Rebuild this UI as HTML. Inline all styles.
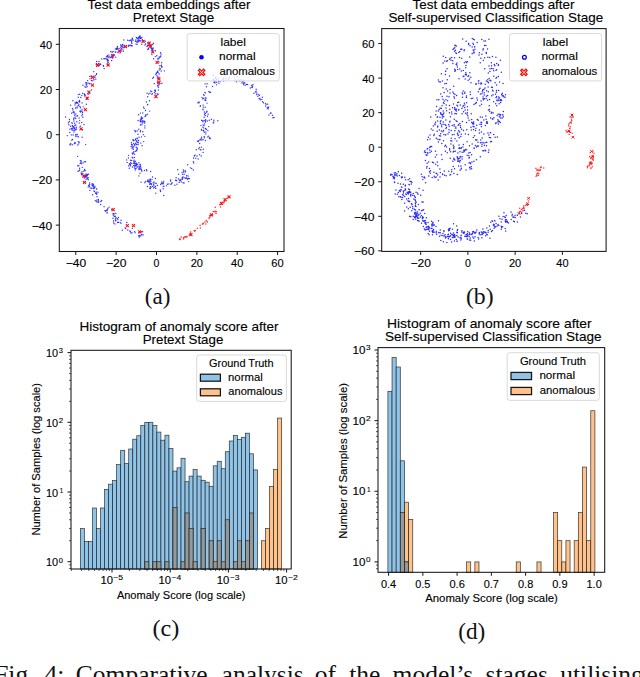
<!DOCTYPE html>
<html><head><meta charset="utf-8"><style>
html,body{margin:0;padding:0;background:#fff;}
body{width:640px;height:677px;overflow:hidden;}
svg{display:block;}
</style></head><body>
<svg width="640" height="677" viewBox="0 0 640 677"><rect x="0" y="0" width="640" height="677" fill="#fff"/><path d="M85.31 177.14a0.7 0.7 0 1 0 1.4 0a0.7 0.7 0 1 0 -1.4 0M86.58 178.21a0.7 0.7 0 1 0 1.4 0a0.7 0.7 0 1 0 -1.4 0M84.62 175.38a0.7 0.7 0 1 0 1.4 0a0.7 0.7 0 1 0 -1.4 0M87.35 177.58a0.7 0.7 0 1 0 1.4 0a0.7 0.7 0 1 0 -1.4 0M92.16 186.26a0.7 0.7 0 1 0 1.4 0a0.7 0.7 0 1 0 -1.4 0M93.96 187.26a0.7 0.7 0 1 0 1.4 0a0.7 0.7 0 1 0 -1.4 0M92.92 185.30a0.7 0.7 0 1 0 1.4 0a0.7 0.7 0 1 0 -1.4 0M91.71 184.07a0.7 0.7 0 1 0 1.4 0a0.7 0.7 0 1 0 -1.4 0M121.58 230.26a0.7 0.7 0 1 0 1.4 0a0.7 0.7 0 1 0 -1.4 0M127.09 230.04a0.7 0.7 0 1 0 1.4 0a0.7 0.7 0 1 0 -1.4 0M113.00 222.95a0.7 0.7 0 1 0 1.4 0a0.7 0.7 0 1 0 -1.4 0M117.19 219.44a0.7 0.7 0 1 0 1.4 0a0.7 0.7 0 1 0 -1.4 0M115.24 220.33a0.7 0.7 0 1 0 1.4 0a0.7 0.7 0 1 0 -1.4 0M93.74 191.61a0.7 0.7 0 1 0 1.4 0a0.7 0.7 0 1 0 -1.4 0M97.29 192.19a0.7 0.7 0 1 0 1.4 0a0.7 0.7 0 1 0 -1.4 0M95.30 192.12a0.7 0.7 0 1 0 1.4 0a0.7 0.7 0 1 0 -1.4 0M95.27 192.64a0.7 0.7 0 1 0 1.4 0a0.7 0.7 0 1 0 -1.4 0M94.28 186.37a0.7 0.7 0 1 0 1.4 0a0.7 0.7 0 1 0 -1.4 0M95.79 189.01a0.7 0.7 0 1 0 1.4 0a0.7 0.7 0 1 0 -1.4 0M92.37 188.24a0.7 0.7 0 1 0 1.4 0a0.7 0.7 0 1 0 -1.4 0M88.87 186.28a0.7 0.7 0 1 0 1.4 0a0.7 0.7 0 1 0 -1.4 0M96.01 188.92a0.7 0.7 0 1 0 1.4 0a0.7 0.7 0 1 0 -1.4 0M94.09 187.44a0.7 0.7 0 1 0 1.4 0a0.7 0.7 0 1 0 -1.4 0M91.21 185.05a0.7 0.7 0 1 0 1.4 0a0.7 0.7 0 1 0 -1.4 0M104.93 211.32a0.7 0.7 0 1 0 1.4 0a0.7 0.7 0 1 0 -1.4 0M106.57 210.42a0.7 0.7 0 1 0 1.4 0a0.7 0.7 0 1 0 -1.4 0M104.28 210.68a0.7 0.7 0 1 0 1.4 0a0.7 0.7 0 1 0 -1.4 0M106.36 212.94a0.7 0.7 0 1 0 1.4 0a0.7 0.7 0 1 0 -1.4 0M106.45 212.41a0.7 0.7 0 1 0 1.4 0a0.7 0.7 0 1 0 -1.4 0M87.79 174.20a0.7 0.7 0 1 0 1.4 0a0.7 0.7 0 1 0 -1.4 0M85.40 173.99a0.7 0.7 0 1 0 1.4 0a0.7 0.7 0 1 0 -1.4 0M85.82 175.98a0.7 0.7 0 1 0 1.4 0a0.7 0.7 0 1 0 -1.4 0M86.02 174.62a0.7 0.7 0 1 0 1.4 0a0.7 0.7 0 1 0 -1.4 0M85.44 175.94a0.7 0.7 0 1 0 1.4 0a0.7 0.7 0 1 0 -1.4 0M81.80 174.15a0.7 0.7 0 1 0 1.4 0a0.7 0.7 0 1 0 -1.4 0M114.92 218.28a0.7 0.7 0 1 0 1.4 0a0.7 0.7 0 1 0 -1.4 0M112.28 218.29a0.7 0.7 0 1 0 1.4 0a0.7 0.7 0 1 0 -1.4 0M114.58 220.07a0.7 0.7 0 1 0 1.4 0a0.7 0.7 0 1 0 -1.4 0M113.73 216.14a0.7 0.7 0 1 0 1.4 0a0.7 0.7 0 1 0 -1.4 0M112.34 213.74a0.7 0.7 0 1 0 1.4 0a0.7 0.7 0 1 0 -1.4 0M138.13 235.71a0.7 0.7 0 1 0 1.4 0a0.7 0.7 0 1 0 -1.4 0M87.56 179.78a0.7 0.7 0 1 0 1.4 0a0.7 0.7 0 1 0 -1.4 0M84.72 181.87a0.7 0.7 0 1 0 1.4 0a0.7 0.7 0 1 0 -1.4 0M142.31 235.03a0.7 0.7 0 1 0 1.4 0a0.7 0.7 0 1 0 -1.4 0M141.16 232.08a0.7 0.7 0 1 0 1.4 0a0.7 0.7 0 1 0 -1.4 0M139.00 236.89a0.7 0.7 0 1 0 1.4 0a0.7 0.7 0 1 0 -1.4 0M138.36 237.06a0.7 0.7 0 1 0 1.4 0a0.7 0.7 0 1 0 -1.4 0M138.67 235.47a0.7 0.7 0 1 0 1.4 0a0.7 0.7 0 1 0 -1.4 0M112.77 220.93a0.7 0.7 0 1 0 1.4 0a0.7 0.7 0 1 0 -1.4 0M112.62 215.15a0.7 0.7 0 1 0 1.4 0a0.7 0.7 0 1 0 -1.4 0M113.58 216.53a0.7 0.7 0 1 0 1.4 0a0.7 0.7 0 1 0 -1.4 0M116.60 218.81a0.7 0.7 0 1 0 1.4 0a0.7 0.7 0 1 0 -1.4 0M80.75 163.85a0.7 0.7 0 1 0 1.4 0a0.7 0.7 0 1 0 -1.4 0M78.15 165.68a0.7 0.7 0 1 0 1.4 0a0.7 0.7 0 1 0 -1.4 0M81.59 167.35a0.7 0.7 0 1 0 1.4 0a0.7 0.7 0 1 0 -1.4 0M96.00 200.11a0.7 0.7 0 1 0 1.4 0a0.7 0.7 0 1 0 -1.4 0M94.58 200.68a0.7 0.7 0 1 0 1.4 0a0.7 0.7 0 1 0 -1.4 0M131.64 228.34a0.7 0.7 0 1 0 1.4 0a0.7 0.7 0 1 0 -1.4 0M130.25 233.11a0.7 0.7 0 1 0 1.4 0a0.7 0.7 0 1 0 -1.4 0M129.73 231.69a0.7 0.7 0 1 0 1.4 0a0.7 0.7 0 1 0 -1.4 0M114.92 220.85a0.7 0.7 0 1 0 1.4 0a0.7 0.7 0 1 0 -1.4 0M115.55 217.62a0.7 0.7 0 1 0 1.4 0a0.7 0.7 0 1 0 -1.4 0M88.94 183.05a0.7 0.7 0 1 0 1.4 0a0.7 0.7 0 1 0 -1.4 0M89.13 190.42a0.7 0.7 0 1 0 1.4 0a0.7 0.7 0 1 0 -1.4 0M90.65 188.28a0.7 0.7 0 1 0 1.4 0a0.7 0.7 0 1 0 -1.4 0M88.49 184.94a0.7 0.7 0 1 0 1.4 0a0.7 0.7 0 1 0 -1.4 0M87.49 186.99a0.7 0.7 0 1 0 1.4 0a0.7 0.7 0 1 0 -1.4 0M87.97 185.62a0.7 0.7 0 1 0 1.4 0a0.7 0.7 0 1 0 -1.4 0M91.48 183.82a0.7 0.7 0 1 0 1.4 0a0.7 0.7 0 1 0 -1.4 0M117.18 222.29a0.7 0.7 0 1 0 1.4 0a0.7 0.7 0 1 0 -1.4 0M119.46 222.58a0.7 0.7 0 1 0 1.4 0a0.7 0.7 0 1 0 -1.4 0M117.75 222.38a0.7 0.7 0 1 0 1.4 0a0.7 0.7 0 1 0 -1.4 0M82.67 176.62a0.7 0.7 0 1 0 1.4 0a0.7 0.7 0 1 0 -1.4 0M84.52 176.56a0.7 0.7 0 1 0 1.4 0a0.7 0.7 0 1 0 -1.4 0M87.04 174.36a0.7 0.7 0 1 0 1.4 0a0.7 0.7 0 1 0 -1.4 0M84.22 176.90a0.7 0.7 0 1 0 1.4 0a0.7 0.7 0 1 0 -1.4 0M83.58 177.97a0.7 0.7 0 1 0 1.4 0a0.7 0.7 0 1 0 -1.4 0M86.34 176.02a0.7 0.7 0 1 0 1.4 0a0.7 0.7 0 1 0 -1.4 0M83.53 161.76a0.7 0.7 0 1 0 1.4 0a0.7 0.7 0 1 0 -1.4 0M84.90 161.74a0.7 0.7 0 1 0 1.4 0a0.7 0.7 0 1 0 -1.4 0M82.26 163.05a0.7 0.7 0 1 0 1.4 0a0.7 0.7 0 1 0 -1.4 0M81.03 174.80a0.7 0.7 0 1 0 1.4 0a0.7 0.7 0 1 0 -1.4 0M78.95 169.91a0.7 0.7 0 1 0 1.4 0a0.7 0.7 0 1 0 -1.4 0M80.63 173.73a0.7 0.7 0 1 0 1.4 0a0.7 0.7 0 1 0 -1.4 0M92.85 186.98a0.7 0.7 0 1 0 1.4 0a0.7 0.7 0 1 0 -1.4 0M100.10 201.54a0.7 0.7 0 1 0 1.4 0a0.7 0.7 0 1 0 -1.4 0M97.89 202.23a0.7 0.7 0 1 0 1.4 0a0.7 0.7 0 1 0 -1.4 0M97.91 200.91a0.7 0.7 0 1 0 1.4 0a0.7 0.7 0 1 0 -1.4 0M97.69 199.42a0.7 0.7 0 1 0 1.4 0a0.7 0.7 0 1 0 -1.4 0M134.04 231.37a0.7 0.7 0 1 0 1.4 0a0.7 0.7 0 1 0 -1.4 0M81.38 171.60a0.7 0.7 0 1 0 1.4 0a0.7 0.7 0 1 0 -1.4 0M124.48 228.02a0.7 0.7 0 1 0 1.4 0a0.7 0.7 0 1 0 -1.4 0M96.09 194.24a0.7 0.7 0 1 0 1.4 0a0.7 0.7 0 1 0 -1.4 0M95.56 192.10a0.7 0.7 0 1 0 1.4 0a0.7 0.7 0 1 0 -1.4 0M114.62 216.25a0.7 0.7 0 1 0 1.4 0a0.7 0.7 0 1 0 -1.4 0M142.26 234.65a0.7 0.7 0 1 0 1.4 0a0.7 0.7 0 1 0 -1.4 0M117.84 217.55a0.7 0.7 0 1 0 1.4 0a0.7 0.7 0 1 0 -1.4 0M87.41 177.61a0.7 0.7 0 1 0 1.4 0a0.7 0.7 0 1 0 -1.4 0M76.91 156.35a0.7 0.7 0 1 0 1.4 0a0.7 0.7 0 1 0 -1.4 0M77.06 165.76a0.7 0.7 0 1 0 1.4 0a0.7 0.7 0 1 0 -1.4 0M88.28 185.31a0.7 0.7 0 1 0 1.4 0a0.7 0.7 0 1 0 -1.4 0M79.49 163.39a0.7 0.7 0 1 0 1.4 0a0.7 0.7 0 1 0 -1.4 0M79.68 160.74a0.7 0.7 0 1 0 1.4 0a0.7 0.7 0 1 0 -1.4 0M140.69 234.49a0.7 0.7 0 1 0 1.4 0a0.7 0.7 0 1 0 -1.4 0M83.94 170.62a0.7 0.7 0 1 0 1.4 0a0.7 0.7 0 1 0 -1.4 0M93.44 188.63a0.7 0.7 0 1 0 1.4 0a0.7 0.7 0 1 0 -1.4 0M141.92 231.64a0.7 0.7 0 1 0 1.4 0a0.7 0.7 0 1 0 -1.4 0M103.37 206.67a0.7 0.7 0 1 0 1.4 0a0.7 0.7 0 1 0 -1.4 0M114.19 223.89a0.7 0.7 0 1 0 1.4 0a0.7 0.7 0 1 0 -1.4 0M91.59 185.37a0.7 0.7 0 1 0 1.4 0a0.7 0.7 0 1 0 -1.4 0M113.48 213.75a0.7 0.7 0 1 0 1.4 0a0.7 0.7 0 1 0 -1.4 0M84.68 170.87a0.7 0.7 0 1 0 1.4 0a0.7 0.7 0 1 0 -1.4 0M89.48 187.92a0.7 0.7 0 1 0 1.4 0a0.7 0.7 0 1 0 -1.4 0M134.33 232.65a0.7 0.7 0 1 0 1.4 0a0.7 0.7 0 1 0 -1.4 0M117.55 222.28a0.7 0.7 0 1 0 1.4 0a0.7 0.7 0 1 0 -1.4 0M97.13 202.09a0.7 0.7 0 1 0 1.4 0a0.7 0.7 0 1 0 -1.4 0M100.99 200.45a0.7 0.7 0 1 0 1.4 0a0.7 0.7 0 1 0 -1.4 0M120.34 223.13a0.7 0.7 0 1 0 1.4 0a0.7 0.7 0 1 0 -1.4 0M91.92 194.81a0.7 0.7 0 1 0 1.4 0a0.7 0.7 0 1 0 -1.4 0M96.29 196.85a0.7 0.7 0 1 0 1.4 0a0.7 0.7 0 1 0 -1.4 0M107.30 208.28a0.7 0.7 0 1 0 1.4 0a0.7 0.7 0 1 0 -1.4 0M105.77 210.38a0.7 0.7 0 1 0 1.4 0a0.7 0.7 0 1 0 -1.4 0M95.84 201.82a0.7 0.7 0 1 0 1.4 0a0.7 0.7 0 1 0 -1.4 0M112.49 213.78a0.7 0.7 0 1 0 1.4 0a0.7 0.7 0 1 0 -1.4 0M77.31 171.30a0.7 0.7 0 1 0 1.4 0a0.7 0.7 0 1 0 -1.4 0M120.30 220.25a0.7 0.7 0 1 0 1.4 0a0.7 0.7 0 1 0 -1.4 0M82.07 173.52a0.7 0.7 0 1 0 1.4 0a0.7 0.7 0 1 0 -1.4 0M124.97 228.50a0.7 0.7 0 1 0 1.4 0a0.7 0.7 0 1 0 -1.4 0M106.62 209.57a0.7 0.7 0 1 0 1.4 0a0.7 0.7 0 1 0 -1.4 0M138.24 232.85a0.7 0.7 0 1 0 1.4 0a0.7 0.7 0 1 0 -1.4 0M96.29 196.79a0.7 0.7 0 1 0 1.4 0a0.7 0.7 0 1 0 -1.4 0M115.15 213.47a0.7 0.7 0 1 0 1.4 0a0.7 0.7 0 1 0 -1.4 0M80.54 161.01a0.7 0.7 0 1 0 1.4 0a0.7 0.7 0 1 0 -1.4 0M89.06 184.34a0.7 0.7 0 1 0 1.4 0a0.7 0.7 0 1 0 -1.4 0M82.89 171.08a0.7 0.7 0 1 0 1.4 0a0.7 0.7 0 1 0 -1.4 0M113.44 216.37a0.7 0.7 0 1 0 1.4 0a0.7 0.7 0 1 0 -1.4 0M78.91 168.20a0.7 0.7 0 1 0 1.4 0a0.7 0.7 0 1 0 -1.4 0M99.97 204.57a0.7 0.7 0 1 0 1.4 0a0.7 0.7 0 1 0 -1.4 0M87.34 179.16a0.7 0.7 0 1 0 1.4 0a0.7 0.7 0 1 0 -1.4 0M80.52 173.00a0.7 0.7 0 1 0 1.4 0a0.7 0.7 0 1 0 -1.4 0M126.15 222.53a0.7 0.7 0 1 0 1.4 0a0.7 0.7 0 1 0 -1.4 0M85.40 179.32a0.7 0.7 0 1 0 1.4 0a0.7 0.7 0 1 0 -1.4 0M80.33 162.47a0.7 0.7 0 1 0 1.4 0a0.7 0.7 0 1 0 -1.4 0M94.97 193.41a0.7 0.7 0 1 0 1.4 0a0.7 0.7 0 1 0 -1.4 0M86.64 175.47a0.7 0.7 0 1 0 1.4 0a0.7 0.7 0 1 0 -1.4 0M116.89 222.48a0.7 0.7 0 1 0 1.4 0a0.7 0.7 0 1 0 -1.4 0M111.02 209.75a0.7 0.7 0 1 0 1.4 0a0.7 0.7 0 1 0 -1.4 0M140.07 231.46a0.7 0.7 0 1 0 1.4 0a0.7 0.7 0 1 0 -1.4 0M129.13 231.10a0.7 0.7 0 1 0 1.4 0a0.7 0.7 0 1 0 -1.4 0M92.62 184.24a0.7 0.7 0 1 0 1.4 0a0.7 0.7 0 1 0 -1.4 0M129.29 231.07a0.7 0.7 0 1 0 1.4 0a0.7 0.7 0 1 0 -1.4 0M82.99 181.91a0.7 0.7 0 1 0 1.4 0a0.7 0.7 0 1 0 -1.4 0M131.26 232.82a0.7 0.7 0 1 0 1.4 0a0.7 0.7 0 1 0 -1.4 0M83.93 169.39a0.7 0.7 0 1 0 1.4 0a0.7 0.7 0 1 0 -1.4 0M140.16 235.73a0.7 0.7 0 1 0 1.4 0a0.7 0.7 0 1 0 -1.4 0M108.49 207.09a0.7 0.7 0 1 0 1.4 0a0.7 0.7 0 1 0 -1.4 0M97.31 199.99a0.7 0.7 0 1 0 1.4 0a0.7 0.7 0 1 0 -1.4 0M96.08 193.60a0.7 0.7 0 1 0 1.4 0a0.7 0.7 0 1 0 -1.4 0M93.27 190.98a0.7 0.7 0 1 0 1.4 0a0.7 0.7 0 1 0 -1.4 0M78.37 170.72a0.7 0.7 0 1 0 1.4 0a0.7 0.7 0 1 0 -1.4 0M152.86 77.23a0.7 0.7 0 1 0 1.4 0a0.7 0.7 0 1 0 -1.4 0M152.13 78.20a0.7 0.7 0 1 0 1.4 0a0.7 0.7 0 1 0 -1.4 0M141.32 37.34a0.7 0.7 0 1 0 1.4 0a0.7 0.7 0 1 0 -1.4 0M68.12 124.77a0.7 0.7 0 1 0 1.4 0a0.7 0.7 0 1 0 -1.4 0M67.77 122.78a0.7 0.7 0 1 0 1.4 0a0.7 0.7 0 1 0 -1.4 0M185.86 175.59a0.7 0.7 0 1 0 1.4 0a0.7 0.7 0 1 0 -1.4 0M184.89 171.92a0.7 0.7 0 1 0 1.4 0a0.7 0.7 0 1 0 -1.4 0M103.89 58.62a0.7 0.7 0 1 0 1.4 0a0.7 0.7 0 1 0 -1.4 0M101.05 59.01a0.7 0.7 0 1 0 1.4 0a0.7 0.7 0 1 0 -1.4 0M121.44 45.62a0.7 0.7 0 1 0 1.4 0a0.7 0.7 0 1 0 -1.4 0M120.26 45.36a0.7 0.7 0 1 0 1.4 0a0.7 0.7 0 1 0 -1.4 0M121.71 44.49a0.7 0.7 0 1 0 1.4 0a0.7 0.7 0 1 0 -1.4 0M112.01 57.41a0.7 0.7 0 1 0 1.4 0a0.7 0.7 0 1 0 -1.4 0M112.50 54.81a0.7 0.7 0 1 0 1.4 0a0.7 0.7 0 1 0 -1.4 0M108.46 56.66a0.7 0.7 0 1 0 1.4 0a0.7 0.7 0 1 0 -1.4 0M110.28 57.21a0.7 0.7 0 1 0 1.4 0a0.7 0.7 0 1 0 -1.4 0M136.97 142.30a0.7 0.7 0 1 0 1.4 0a0.7 0.7 0 1 0 -1.4 0M136.18 144.24a0.7 0.7 0 1 0 1.4 0a0.7 0.7 0 1 0 -1.4 0M137.66 142.73a0.7 0.7 0 1 0 1.4 0a0.7 0.7 0 1 0 -1.4 0M128.10 45.30a0.7 0.7 0 1 0 1.4 0a0.7 0.7 0 1 0 -1.4 0M129.93 45.11a0.7 0.7 0 1 0 1.4 0a0.7 0.7 0 1 0 -1.4 0M128.55 40.63a0.7 0.7 0 1 0 1.4 0a0.7 0.7 0 1 0 -1.4 0M127.01 40.27a0.7 0.7 0 1 0 1.4 0a0.7 0.7 0 1 0 -1.4 0M131.76 45.87a0.7 0.7 0 1 0 1.4 0a0.7 0.7 0 1 0 -1.4 0M128.78 45.35a0.7 0.7 0 1 0 1.4 0a0.7 0.7 0 1 0 -1.4 0M130.66 45.37a0.7 0.7 0 1 0 1.4 0a0.7 0.7 0 1 0 -1.4 0M130.41 45.82a0.7 0.7 0 1 0 1.4 0a0.7 0.7 0 1 0 -1.4 0M129.60 40.23a0.7 0.7 0 1 0 1.4 0a0.7 0.7 0 1 0 -1.4 0M124.47 46.51a0.7 0.7 0 1 0 1.4 0a0.7 0.7 0 1 0 -1.4 0M78.73 100.49a0.7 0.7 0 1 0 1.4 0a0.7 0.7 0 1 0 -1.4 0M75.63 102.87a0.7 0.7 0 1 0 1.4 0a0.7 0.7 0 1 0 -1.4 0M205.20 131.93a0.7 0.7 0 1 0 1.4 0a0.7 0.7 0 1 0 -1.4 0M202.62 130.25a0.7 0.7 0 1 0 1.4 0a0.7 0.7 0 1 0 -1.4 0M203.19 130.97a0.7 0.7 0 1 0 1.4 0a0.7 0.7 0 1 0 -1.4 0M93.12 71.64a0.7 0.7 0 1 0 1.4 0a0.7 0.7 0 1 0 -1.4 0M95.73 74.40a0.7 0.7 0 1 0 1.4 0a0.7 0.7 0 1 0 -1.4 0M94.55 75.77a0.7 0.7 0 1 0 1.4 0a0.7 0.7 0 1 0 -1.4 0M95.95 73.58a0.7 0.7 0 1 0 1.4 0a0.7 0.7 0 1 0 -1.4 0M106.96 62.86a0.7 0.7 0 1 0 1.4 0a0.7 0.7 0 1 0 -1.4 0M106.93 59.42a0.7 0.7 0 1 0 1.4 0a0.7 0.7 0 1 0 -1.4 0M179.40 179.58a0.7 0.7 0 1 0 1.4 0a0.7 0.7 0 1 0 -1.4 0M179.25 179.72a0.7 0.7 0 1 0 1.4 0a0.7 0.7 0 1 0 -1.4 0M178.47 182.40a0.7 0.7 0 1 0 1.4 0a0.7 0.7 0 1 0 -1.4 0M179.91 180.51a0.7 0.7 0 1 0 1.4 0a0.7 0.7 0 1 0 -1.4 0M181.70 179.31a0.7 0.7 0 1 0 1.4 0a0.7 0.7 0 1 0 -1.4 0M181.14 179.14a0.7 0.7 0 1 0 1.4 0a0.7 0.7 0 1 0 -1.4 0M146.35 93.19a0.7 0.7 0 1 0 1.4 0a0.7 0.7 0 1 0 -1.4 0M146.96 96.74a0.7 0.7 0 1 0 1.4 0a0.7 0.7 0 1 0 -1.4 0M147.93 94.10a0.7 0.7 0 1 0 1.4 0a0.7 0.7 0 1 0 -1.4 0M199.53 106.35a0.7 0.7 0 1 0 1.4 0a0.7 0.7 0 1 0 -1.4 0M197.22 102.77a0.7 0.7 0 1 0 1.4 0a0.7 0.7 0 1 0 -1.4 0M198.37 102.80a0.7 0.7 0 1 0 1.4 0a0.7 0.7 0 1 0 -1.4 0M199.68 105.69a0.7 0.7 0 1 0 1.4 0a0.7 0.7 0 1 0 -1.4 0M198.28 102.03a0.7 0.7 0 1 0 1.4 0a0.7 0.7 0 1 0 -1.4 0M212.52 122.93a0.7 0.7 0 1 0 1.4 0a0.7 0.7 0 1 0 -1.4 0M217.13 120.78a0.7 0.7 0 1 0 1.4 0a0.7 0.7 0 1 0 -1.4 0M213.10 120.21a0.7 0.7 0 1 0 1.4 0a0.7 0.7 0 1 0 -1.4 0M210.66 119.31a0.7 0.7 0 1 0 1.4 0a0.7 0.7 0 1 0 -1.4 0M213.20 121.89a0.7 0.7 0 1 0 1.4 0a0.7 0.7 0 1 0 -1.4 0M137.50 142.55a0.7 0.7 0 1 0 1.4 0a0.7 0.7 0 1 0 -1.4 0M142.96 141.58a0.7 0.7 0 1 0 1.4 0a0.7 0.7 0 1 0 -1.4 0M88.96 76.34a0.7 0.7 0 1 0 1.4 0a0.7 0.7 0 1 0 -1.4 0M90.37 76.04a0.7 0.7 0 1 0 1.4 0a0.7 0.7 0 1 0 -1.4 0M94.12 77.51a0.7 0.7 0 1 0 1.4 0a0.7 0.7 0 1 0 -1.4 0M135.66 37.43a0.7 0.7 0 1 0 1.4 0a0.7 0.7 0 1 0 -1.4 0M138.77 40.49a0.7 0.7 0 1 0 1.4 0a0.7 0.7 0 1 0 -1.4 0M138.04 41.79a0.7 0.7 0 1 0 1.4 0a0.7 0.7 0 1 0 -1.4 0M135.30 44.08a0.7 0.7 0 1 0 1.4 0a0.7 0.7 0 1 0 -1.4 0M148.54 180.15a0.7 0.7 0 1 0 1.4 0a0.7 0.7 0 1 0 -1.4 0M148.66 181.71a0.7 0.7 0 1 0 1.4 0a0.7 0.7 0 1 0 -1.4 0M136.69 42.02a0.7 0.7 0 1 0 1.4 0a0.7 0.7 0 1 0 -1.4 0M136.49 38.45a0.7 0.7 0 1 0 1.4 0a0.7 0.7 0 1 0 -1.4 0M136.04 41.76a0.7 0.7 0 1 0 1.4 0a0.7 0.7 0 1 0 -1.4 0M134.77 41.18a0.7 0.7 0 1 0 1.4 0a0.7 0.7 0 1 0 -1.4 0M136.10 41.96a0.7 0.7 0 1 0 1.4 0a0.7 0.7 0 1 0 -1.4 0M141.90 117.88a0.7 0.7 0 1 0 1.4 0a0.7 0.7 0 1 0 -1.4 0M142.14 121.14a0.7 0.7 0 1 0 1.4 0a0.7 0.7 0 1 0 -1.4 0M143.61 121.24a0.7 0.7 0 1 0 1.4 0a0.7 0.7 0 1 0 -1.4 0M142.29 122.40a0.7 0.7 0 1 0 1.4 0a0.7 0.7 0 1 0 -1.4 0M86.54 98.82a0.7 0.7 0 1 0 1.4 0a0.7 0.7 0 1 0 -1.4 0M85.68 104.29a0.7 0.7 0 1 0 1.4 0a0.7 0.7 0 1 0 -1.4 0M86.22 98.97a0.7 0.7 0 1 0 1.4 0a0.7 0.7 0 1 0 -1.4 0M86.52 97.68a0.7 0.7 0 1 0 1.4 0a0.7 0.7 0 1 0 -1.4 0M201.33 97.36a0.7 0.7 0 1 0 1.4 0a0.7 0.7 0 1 0 -1.4 0M204.32 100.38a0.7 0.7 0 1 0 1.4 0a0.7 0.7 0 1 0 -1.4 0M202.12 98.68a0.7 0.7 0 1 0 1.4 0a0.7 0.7 0 1 0 -1.4 0M133.99 163.31a0.7 0.7 0 1 0 1.4 0a0.7 0.7 0 1 0 -1.4 0M137.01 164.37a0.7 0.7 0 1 0 1.4 0a0.7 0.7 0 1 0 -1.4 0M135.70 163.18a0.7 0.7 0 1 0 1.4 0a0.7 0.7 0 1 0 -1.4 0M134.33 165.08a0.7 0.7 0 1 0 1.4 0a0.7 0.7 0 1 0 -1.4 0M131.58 39.94a0.7 0.7 0 1 0 1.4 0a0.7 0.7 0 1 0 -1.4 0M130.88 42.02a0.7 0.7 0 1 0 1.4 0a0.7 0.7 0 1 0 -1.4 0M81.09 95.60a0.7 0.7 0 1 0 1.4 0a0.7 0.7 0 1 0 -1.4 0M83.94 96.10a0.7 0.7 0 1 0 1.4 0a0.7 0.7 0 1 0 -1.4 0M131.43 157.21a0.7 0.7 0 1 0 1.4 0a0.7 0.7 0 1 0 -1.4 0M127.93 155.36a0.7 0.7 0 1 0 1.4 0a0.7 0.7 0 1 0 -1.4 0M140.82 136.83a0.7 0.7 0 1 0 1.4 0a0.7 0.7 0 1 0 -1.4 0M142.63 134.62a0.7 0.7 0 1 0 1.4 0a0.7 0.7 0 1 0 -1.4 0M144.18 136.35a0.7 0.7 0 1 0 1.4 0a0.7 0.7 0 1 0 -1.4 0M183.01 172.17a0.7 0.7 0 1 0 1.4 0a0.7 0.7 0 1 0 -1.4 0M69.50 144.90a0.7 0.7 0 1 0 1.4 0a0.7 0.7 0 1 0 -1.4 0M71.07 140.17a0.7 0.7 0 1 0 1.4 0a0.7 0.7 0 1 0 -1.4 0M70.07 143.82a0.7 0.7 0 1 0 1.4 0a0.7 0.7 0 1 0 -1.4 0M74.71 142.99a0.7 0.7 0 1 0 1.4 0a0.7 0.7 0 1 0 -1.4 0M69.34 144.22a0.7 0.7 0 1 0 1.4 0a0.7 0.7 0 1 0 -1.4 0M71.57 144.81a0.7 0.7 0 1 0 1.4 0a0.7 0.7 0 1 0 -1.4 0M73.56 143.67a0.7 0.7 0 1 0 1.4 0a0.7 0.7 0 1 0 -1.4 0M88.63 83.80a0.7 0.7 0 1 0 1.4 0a0.7 0.7 0 1 0 -1.4 0M85.57 83.67a0.7 0.7 0 1 0 1.4 0a0.7 0.7 0 1 0 -1.4 0M133.17 163.01a0.7 0.7 0 1 0 1.4 0a0.7 0.7 0 1 0 -1.4 0M134.29 168.44a0.7 0.7 0 1 0 1.4 0a0.7 0.7 0 1 0 -1.4 0M133.25 161.18a0.7 0.7 0 1 0 1.4 0a0.7 0.7 0 1 0 -1.4 0M141.36 145.69a0.7 0.7 0 1 0 1.4 0a0.7 0.7 0 1 0 -1.4 0M140.14 143.08a0.7 0.7 0 1 0 1.4 0a0.7 0.7 0 1 0 -1.4 0M136.42 148.05a0.7 0.7 0 1 0 1.4 0a0.7 0.7 0 1 0 -1.4 0M159.78 190.24a0.7 0.7 0 1 0 1.4 0a0.7 0.7 0 1 0 -1.4 0M162.51 188.76a0.7 0.7 0 1 0 1.4 0a0.7 0.7 0 1 0 -1.4 0M161.56 183.16a0.7 0.7 0 1 0 1.4 0a0.7 0.7 0 1 0 -1.4 0M163.19 186.13a0.7 0.7 0 1 0 1.4 0a0.7 0.7 0 1 0 -1.4 0M168.06 183.89a0.7 0.7 0 1 0 1.4 0a0.7 0.7 0 1 0 -1.4 0M159.99 184.52a0.7 0.7 0 1 0 1.4 0a0.7 0.7 0 1 0 -1.4 0M208.53 120.21a0.7 0.7 0 1 0 1.4 0a0.7 0.7 0 1 0 -1.4 0M206.80 116.31a0.7 0.7 0 1 0 1.4 0a0.7 0.7 0 1 0 -1.4 0M204.82 122.05a0.7 0.7 0 1 0 1.4 0a0.7 0.7 0 1 0 -1.4 0M206.54 120.94a0.7 0.7 0 1 0 1.4 0a0.7 0.7 0 1 0 -1.4 0M184.58 170.72a0.7 0.7 0 1 0 1.4 0a0.7 0.7 0 1 0 -1.4 0M186.01 175.85a0.7 0.7 0 1 0 1.4 0a0.7 0.7 0 1 0 -1.4 0M183.14 171.21a0.7 0.7 0 1 0 1.4 0a0.7 0.7 0 1 0 -1.4 0M129.72 160.21a0.7 0.7 0 1 0 1.4 0a0.7 0.7 0 1 0 -1.4 0M129.66 164.57a0.7 0.7 0 1 0 1.4 0a0.7 0.7 0 1 0 -1.4 0M126.45 162.39a0.7 0.7 0 1 0 1.4 0a0.7 0.7 0 1 0 -1.4 0M127.98 165.92a0.7 0.7 0 1 0 1.4 0a0.7 0.7 0 1 0 -1.4 0M125.91 159.90a0.7 0.7 0 1 0 1.4 0a0.7 0.7 0 1 0 -1.4 0M127.68 157.95a0.7 0.7 0 1 0 1.4 0a0.7 0.7 0 1 0 -1.4 0M219.47 81.67a0.7 0.7 0 1 0 1.4 0a0.7 0.7 0 1 0 -1.4 0M214.64 78.18a0.7 0.7 0 1 0 1.4 0a0.7 0.7 0 1 0 -1.4 0M216.06 79.81a0.7 0.7 0 1 0 1.4 0a0.7 0.7 0 1 0 -1.4 0M147.62 48.35a0.7 0.7 0 1 0 1.4 0a0.7 0.7 0 1 0 -1.4 0M147.87 48.87a0.7 0.7 0 1 0 1.4 0a0.7 0.7 0 1 0 -1.4 0M152.39 49.02a0.7 0.7 0 1 0 1.4 0a0.7 0.7 0 1 0 -1.4 0M149.88 46.71a0.7 0.7 0 1 0 1.4 0a0.7 0.7 0 1 0 -1.4 0M150.92 48.55a0.7 0.7 0 1 0 1.4 0a0.7 0.7 0 1 0 -1.4 0M150.34 46.51a0.7 0.7 0 1 0 1.4 0a0.7 0.7 0 1 0 -1.4 0M117.21 52.56a0.7 0.7 0 1 0 1.4 0a0.7 0.7 0 1 0 -1.4 0M113.82 55.07a0.7 0.7 0 1 0 1.4 0a0.7 0.7 0 1 0 -1.4 0M115.04 57.14a0.7 0.7 0 1 0 1.4 0a0.7 0.7 0 1 0 -1.4 0M111.19 54.34a0.7 0.7 0 1 0 1.4 0a0.7 0.7 0 1 0 -1.4 0M121.97 47.15a0.7 0.7 0 1 0 1.4 0a0.7 0.7 0 1 0 -1.4 0M134.67 161.53a0.7 0.7 0 1 0 1.4 0a0.7 0.7 0 1 0 -1.4 0M139.08 164.62a0.7 0.7 0 1 0 1.4 0a0.7 0.7 0 1 0 -1.4 0M135.35 168.52a0.7 0.7 0 1 0 1.4 0a0.7 0.7 0 1 0 -1.4 0M136.35 167.16a0.7 0.7 0 1 0 1.4 0a0.7 0.7 0 1 0 -1.4 0M136.44 166.47a0.7 0.7 0 1 0 1.4 0a0.7 0.7 0 1 0 -1.4 0M136.08 163.83a0.7 0.7 0 1 0 1.4 0a0.7 0.7 0 1 0 -1.4 0M83.91 94.79a0.7 0.7 0 1 0 1.4 0a0.7 0.7 0 1 0 -1.4 0M156.58 77.00a0.7 0.7 0 1 0 1.4 0a0.7 0.7 0 1 0 -1.4 0M158.23 76.93a0.7 0.7 0 1 0 1.4 0a0.7 0.7 0 1 0 -1.4 0M155.83 73.42a0.7 0.7 0 1 0 1.4 0a0.7 0.7 0 1 0 -1.4 0M151.53 49.01a0.7 0.7 0 1 0 1.4 0a0.7 0.7 0 1 0 -1.4 0M150.13 47.90a0.7 0.7 0 1 0 1.4 0a0.7 0.7 0 1 0 -1.4 0M150.39 45.69a0.7 0.7 0 1 0 1.4 0a0.7 0.7 0 1 0 -1.4 0M152.67 43.18a0.7 0.7 0 1 0 1.4 0a0.7 0.7 0 1 0 -1.4 0M195.61 149.79a0.7 0.7 0 1 0 1.4 0a0.7 0.7 0 1 0 -1.4 0M198.96 143.53a0.7 0.7 0 1 0 1.4 0a0.7 0.7 0 1 0 -1.4 0M199.59 149.59a0.7 0.7 0 1 0 1.4 0a0.7 0.7 0 1 0 -1.4 0M202.60 149.20a0.7 0.7 0 1 0 1.4 0a0.7 0.7 0 1 0 -1.4 0M200.67 147.12a0.7 0.7 0 1 0 1.4 0a0.7 0.7 0 1 0 -1.4 0M116.09 49.51a0.7 0.7 0 1 0 1.4 0a0.7 0.7 0 1 0 -1.4 0M115.97 48.13a0.7 0.7 0 1 0 1.4 0a0.7 0.7 0 1 0 -1.4 0M116.72 47.90a0.7 0.7 0 1 0 1.4 0a0.7 0.7 0 1 0 -1.4 0M119.80 50.92a0.7 0.7 0 1 0 1.4 0a0.7 0.7 0 1 0 -1.4 0M114.49 51.97a0.7 0.7 0 1 0 1.4 0a0.7 0.7 0 1 0 -1.4 0M116.94 48.83a0.7 0.7 0 1 0 1.4 0a0.7 0.7 0 1 0 -1.4 0M76.50 106.99a0.7 0.7 0 1 0 1.4 0a0.7 0.7 0 1 0 -1.4 0M79.75 107.81a0.7 0.7 0 1 0 1.4 0a0.7 0.7 0 1 0 -1.4 0M74.81 108.06a0.7 0.7 0 1 0 1.4 0a0.7 0.7 0 1 0 -1.4 0M133.21 163.60a0.7 0.7 0 1 0 1.4 0a0.7 0.7 0 1 0 -1.4 0M135.49 164.62a0.7 0.7 0 1 0 1.4 0a0.7 0.7 0 1 0 -1.4 0M99.42 63.80a0.7 0.7 0 1 0 1.4 0a0.7 0.7 0 1 0 -1.4 0M97.78 63.45a0.7 0.7 0 1 0 1.4 0a0.7 0.7 0 1 0 -1.4 0M102.58 65.38a0.7 0.7 0 1 0 1.4 0a0.7 0.7 0 1 0 -1.4 0M95.98 66.44a0.7 0.7 0 1 0 1.4 0a0.7 0.7 0 1 0 -1.4 0M131.06 144.78a0.7 0.7 0 1 0 1.4 0a0.7 0.7 0 1 0 -1.4 0M132.85 147.04a0.7 0.7 0 1 0 1.4 0a0.7 0.7 0 1 0 -1.4 0M131.67 147.27a0.7 0.7 0 1 0 1.4 0a0.7 0.7 0 1 0 -1.4 0M130.42 146.54a0.7 0.7 0 1 0 1.4 0a0.7 0.7 0 1 0 -1.4 0M161.18 67.20a0.7 0.7 0 1 0 1.4 0a0.7 0.7 0 1 0 -1.4 0M160.93 66.16a0.7 0.7 0 1 0 1.4 0a0.7 0.7 0 1 0 -1.4 0M160.76 65.23a0.7 0.7 0 1 0 1.4 0a0.7 0.7 0 1 0 -1.4 0M160.44 70.95a0.7 0.7 0 1 0 1.4 0a0.7 0.7 0 1 0 -1.4 0M163.62 70.84a0.7 0.7 0 1 0 1.4 0a0.7 0.7 0 1 0 -1.4 0M208.91 138.53a0.7 0.7 0 1 0 1.4 0a0.7 0.7 0 1 0 -1.4 0M207.15 137.00a0.7 0.7 0 1 0 1.4 0a0.7 0.7 0 1 0 -1.4 0M207.62 136.11a0.7 0.7 0 1 0 1.4 0a0.7 0.7 0 1 0 -1.4 0M139.49 36.31a0.7 0.7 0 1 0 1.4 0a0.7 0.7 0 1 0 -1.4 0M137.94 40.16a0.7 0.7 0 1 0 1.4 0a0.7 0.7 0 1 0 -1.4 0M142.04 120.68a0.7 0.7 0 1 0 1.4 0a0.7 0.7 0 1 0 -1.4 0M140.59 121.09a0.7 0.7 0 1 0 1.4 0a0.7 0.7 0 1 0 -1.4 0M140.04 125.12a0.7 0.7 0 1 0 1.4 0a0.7 0.7 0 1 0 -1.4 0M143.91 123.07a0.7 0.7 0 1 0 1.4 0a0.7 0.7 0 1 0 -1.4 0M140.18 124.42a0.7 0.7 0 1 0 1.4 0a0.7 0.7 0 1 0 -1.4 0M79.20 111.13a0.7 0.7 0 1 0 1.4 0a0.7 0.7 0 1 0 -1.4 0M81.81 112.44a0.7 0.7 0 1 0 1.4 0a0.7 0.7 0 1 0 -1.4 0M79.82 112.05a0.7 0.7 0 1 0 1.4 0a0.7 0.7 0 1 0 -1.4 0M81.29 109.76a0.7 0.7 0 1 0 1.4 0a0.7 0.7 0 1 0 -1.4 0M81.27 111.34a0.7 0.7 0 1 0 1.4 0a0.7 0.7 0 1 0 -1.4 0M81.77 114.32a0.7 0.7 0 1 0 1.4 0a0.7 0.7 0 1 0 -1.4 0M79.99 110.95a0.7 0.7 0 1 0 1.4 0a0.7 0.7 0 1 0 -1.4 0M159.92 56.91a0.7 0.7 0 1 0 1.4 0a0.7 0.7 0 1 0 -1.4 0M155.92 55.84a0.7 0.7 0 1 0 1.4 0a0.7 0.7 0 1 0 -1.4 0M157.33 59.67a0.7 0.7 0 1 0 1.4 0a0.7 0.7 0 1 0 -1.4 0M160.08 55.91a0.7 0.7 0 1 0 1.4 0a0.7 0.7 0 1 0 -1.4 0M158.53 57.95a0.7 0.7 0 1 0 1.4 0a0.7 0.7 0 1 0 -1.4 0M204.53 115.52a0.7 0.7 0 1 0 1.4 0a0.7 0.7 0 1 0 -1.4 0M85.14 82.82a0.7 0.7 0 1 0 1.4 0a0.7 0.7 0 1 0 -1.4 0M84.30 86.79a0.7 0.7 0 1 0 1.4 0a0.7 0.7 0 1 0 -1.4 0M181.49 178.10a0.7 0.7 0 1 0 1.4 0a0.7 0.7 0 1 0 -1.4 0M181.64 177.47a0.7 0.7 0 1 0 1.4 0a0.7 0.7 0 1 0 -1.4 0M181.95 178.21a0.7 0.7 0 1 0 1.4 0a0.7 0.7 0 1 0 -1.4 0M182.38 176.84a0.7 0.7 0 1 0 1.4 0a0.7 0.7 0 1 0 -1.4 0M180.78 181.89a0.7 0.7 0 1 0 1.4 0a0.7 0.7 0 1 0 -1.4 0M154.54 91.58a0.7 0.7 0 1 0 1.4 0a0.7 0.7 0 1 0 -1.4 0M149.16 93.27a0.7 0.7 0 1 0 1.4 0a0.7 0.7 0 1 0 -1.4 0M151.05 91.62a0.7 0.7 0 1 0 1.4 0a0.7 0.7 0 1 0 -1.4 0M149.93 91.07a0.7 0.7 0 1 0 1.4 0a0.7 0.7 0 1 0 -1.4 0M151.67 93.76a0.7 0.7 0 1 0 1.4 0a0.7 0.7 0 1 0 -1.4 0M136.66 138.81a0.7 0.7 0 1 0 1.4 0a0.7 0.7 0 1 0 -1.4 0M134.74 139.88a0.7 0.7 0 1 0 1.4 0a0.7 0.7 0 1 0 -1.4 0M136.36 138.18a0.7 0.7 0 1 0 1.4 0a0.7 0.7 0 1 0 -1.4 0M132.30 139.49a0.7 0.7 0 1 0 1.4 0a0.7 0.7 0 1 0 -1.4 0M134.95 139.03a0.7 0.7 0 1 0 1.4 0a0.7 0.7 0 1 0 -1.4 0M133.23 140.40a0.7 0.7 0 1 0 1.4 0a0.7 0.7 0 1 0 -1.4 0M201.99 121.03a0.7 0.7 0 1 0 1.4 0a0.7 0.7 0 1 0 -1.4 0M204.79 121.05a0.7 0.7 0 1 0 1.4 0a0.7 0.7 0 1 0 -1.4 0M204.95 119.74a0.7 0.7 0 1 0 1.4 0a0.7 0.7 0 1 0 -1.4 0M207.43 114.21a0.7 0.7 0 1 0 1.4 0a0.7 0.7 0 1 0 -1.4 0M203.45 117.25a0.7 0.7 0 1 0 1.4 0a0.7 0.7 0 1 0 -1.4 0M200.95 120.18a0.7 0.7 0 1 0 1.4 0a0.7 0.7 0 1 0 -1.4 0M153.57 83.66a0.7 0.7 0 1 0 1.4 0a0.7 0.7 0 1 0 -1.4 0M215.78 77.59a0.7 0.7 0 1 0 1.4 0a0.7 0.7 0 1 0 -1.4 0M212.23 74.80a0.7 0.7 0 1 0 1.4 0a0.7 0.7 0 1 0 -1.4 0M212.71 75.43a0.7 0.7 0 1 0 1.4 0a0.7 0.7 0 1 0 -1.4 0M212.69 79.51a0.7 0.7 0 1 0 1.4 0a0.7 0.7 0 1 0 -1.4 0M214.69 77.48a0.7 0.7 0 1 0 1.4 0a0.7 0.7 0 1 0 -1.4 0M214.17 80.16a0.7 0.7 0 1 0 1.4 0a0.7 0.7 0 1 0 -1.4 0M130.76 41.44a0.7 0.7 0 1 0 1.4 0a0.7 0.7 0 1 0 -1.4 0M131.60 38.13a0.7 0.7 0 1 0 1.4 0a0.7 0.7 0 1 0 -1.4 0M131.15 43.23a0.7 0.7 0 1 0 1.4 0a0.7 0.7 0 1 0 -1.4 0M109.45 57.85a0.7 0.7 0 1 0 1.4 0a0.7 0.7 0 1 0 -1.4 0M105.86 59.01a0.7 0.7 0 1 0 1.4 0a0.7 0.7 0 1 0 -1.4 0M107.60 60.39a0.7 0.7 0 1 0 1.4 0a0.7 0.7 0 1 0 -1.4 0M107.20 61.24a0.7 0.7 0 1 0 1.4 0a0.7 0.7 0 1 0 -1.4 0M106.68 59.21a0.7 0.7 0 1 0 1.4 0a0.7 0.7 0 1 0 -1.4 0M106.81 56.29a0.7 0.7 0 1 0 1.4 0a0.7 0.7 0 1 0 -1.4 0M106.77 60.40a0.7 0.7 0 1 0 1.4 0a0.7 0.7 0 1 0 -1.4 0M105.72 56.76a0.7 0.7 0 1 0 1.4 0a0.7 0.7 0 1 0 -1.4 0M128.63 163.73a0.7 0.7 0 1 0 1.4 0a0.7 0.7 0 1 0 -1.4 0M128.60 168.30a0.7 0.7 0 1 0 1.4 0a0.7 0.7 0 1 0 -1.4 0M129.72 165.73a0.7 0.7 0 1 0 1.4 0a0.7 0.7 0 1 0 -1.4 0M133.60 162.55a0.7 0.7 0 1 0 1.4 0a0.7 0.7 0 1 0 -1.4 0M131.35 148.52a0.7 0.7 0 1 0 1.4 0a0.7 0.7 0 1 0 -1.4 0M133.09 151.82a0.7 0.7 0 1 0 1.4 0a0.7 0.7 0 1 0 -1.4 0M136.03 149.88a0.7 0.7 0 1 0 1.4 0a0.7 0.7 0 1 0 -1.4 0M134.76 151.32a0.7 0.7 0 1 0 1.4 0a0.7 0.7 0 1 0 -1.4 0M140.56 119.24a0.7 0.7 0 1 0 1.4 0a0.7 0.7 0 1 0 -1.4 0M139.73 120.07a0.7 0.7 0 1 0 1.4 0a0.7 0.7 0 1 0 -1.4 0M139.40 121.06a0.7 0.7 0 1 0 1.4 0a0.7 0.7 0 1 0 -1.4 0M141.39 118.65a0.7 0.7 0 1 0 1.4 0a0.7 0.7 0 1 0 -1.4 0M141.33 118.54a0.7 0.7 0 1 0 1.4 0a0.7 0.7 0 1 0 -1.4 0M141.96 121.36a0.7 0.7 0 1 0 1.4 0a0.7 0.7 0 1 0 -1.4 0M140.65 121.85a0.7 0.7 0 1 0 1.4 0a0.7 0.7 0 1 0 -1.4 0M142.50 121.05a0.7 0.7 0 1 0 1.4 0a0.7 0.7 0 1 0 -1.4 0M137.38 120.49a0.7 0.7 0 1 0 1.4 0a0.7 0.7 0 1 0 -1.4 0M137.74 37.45a0.7 0.7 0 1 0 1.4 0a0.7 0.7 0 1 0 -1.4 0M141.98 40.48a0.7 0.7 0 1 0 1.4 0a0.7 0.7 0 1 0 -1.4 0M139.81 40.94a0.7 0.7 0 1 0 1.4 0a0.7 0.7 0 1 0 -1.4 0M140.43 38.25a0.7 0.7 0 1 0 1.4 0a0.7 0.7 0 1 0 -1.4 0M137.13 40.80a0.7 0.7 0 1 0 1.4 0a0.7 0.7 0 1 0 -1.4 0M156.81 86.12a0.7 0.7 0 1 0 1.4 0a0.7 0.7 0 1 0 -1.4 0M158.13 85.14a0.7 0.7 0 1 0 1.4 0a0.7 0.7 0 1 0 -1.4 0M158.27 84.58a0.7 0.7 0 1 0 1.4 0a0.7 0.7 0 1 0 -1.4 0M158.20 84.64a0.7 0.7 0 1 0 1.4 0a0.7 0.7 0 1 0 -1.4 0M158.84 83.28a0.7 0.7 0 1 0 1.4 0a0.7 0.7 0 1 0 -1.4 0M156.82 85.78a0.7 0.7 0 1 0 1.4 0a0.7 0.7 0 1 0 -1.4 0M137.29 134.31a0.7 0.7 0 1 0 1.4 0a0.7 0.7 0 1 0 -1.4 0M135.12 131.21a0.7 0.7 0 1 0 1.4 0a0.7 0.7 0 1 0 -1.4 0M134.02 130.36a0.7 0.7 0 1 0 1.4 0a0.7 0.7 0 1 0 -1.4 0M134.54 131.69a0.7 0.7 0 1 0 1.4 0a0.7 0.7 0 1 0 -1.4 0M77.58 136.74a0.7 0.7 0 1 0 1.4 0a0.7 0.7 0 1 0 -1.4 0M76.23 134.30a0.7 0.7 0 1 0 1.4 0a0.7 0.7 0 1 0 -1.4 0M76.56 134.77a0.7 0.7 0 1 0 1.4 0a0.7 0.7 0 1 0 -1.4 0M75.40 135.94a0.7 0.7 0 1 0 1.4 0a0.7 0.7 0 1 0 -1.4 0M82.19 117.31a0.7 0.7 0 1 0 1.4 0a0.7 0.7 0 1 0 -1.4 0M74.33 115.71a0.7 0.7 0 1 0 1.4 0a0.7 0.7 0 1 0 -1.4 0M73.95 123.19a0.7 0.7 0 1 0 1.4 0a0.7 0.7 0 1 0 -1.4 0M78.36 118.00a0.7 0.7 0 1 0 1.4 0a0.7 0.7 0 1 0 -1.4 0M71.37 129.41a0.7 0.7 0 1 0 1.4 0a0.7 0.7 0 1 0 -1.4 0M72.42 130.49a0.7 0.7 0 1 0 1.4 0a0.7 0.7 0 1 0 -1.4 0M74.40 129.11a0.7 0.7 0 1 0 1.4 0a0.7 0.7 0 1 0 -1.4 0M197.47 141.58a0.7 0.7 0 1 0 1.4 0a0.7 0.7 0 1 0 -1.4 0M196.82 141.22a0.7 0.7 0 1 0 1.4 0a0.7 0.7 0 1 0 -1.4 0M200.36 139.76a0.7 0.7 0 1 0 1.4 0a0.7 0.7 0 1 0 -1.4 0M199.26 139.72a0.7 0.7 0 1 0 1.4 0a0.7 0.7 0 1 0 -1.4 0M202.30 139.35a0.7 0.7 0 1 0 1.4 0a0.7 0.7 0 1 0 -1.4 0M198.01 140.81a0.7 0.7 0 1 0 1.4 0a0.7 0.7 0 1 0 -1.4 0M132.90 165.34a0.7 0.7 0 1 0 1.4 0a0.7 0.7 0 1 0 -1.4 0M135.55 165.37a0.7 0.7 0 1 0 1.4 0a0.7 0.7 0 1 0 -1.4 0M131.58 167.07a0.7 0.7 0 1 0 1.4 0a0.7 0.7 0 1 0 -1.4 0M134.35 166.67a0.7 0.7 0 1 0 1.4 0a0.7 0.7 0 1 0 -1.4 0M134.36 165.52a0.7 0.7 0 1 0 1.4 0a0.7 0.7 0 1 0 -1.4 0M129.87 162.73a0.7 0.7 0 1 0 1.4 0a0.7 0.7 0 1 0 -1.4 0M135.96 164.69a0.7 0.7 0 1 0 1.4 0a0.7 0.7 0 1 0 -1.4 0M129.18 164.71a0.7 0.7 0 1 0 1.4 0a0.7 0.7 0 1 0 -1.4 0M134.17 165.31a0.7 0.7 0 1 0 1.4 0a0.7 0.7 0 1 0 -1.4 0M139.47 37.20a0.7 0.7 0 1 0 1.4 0a0.7 0.7 0 1 0 -1.4 0M139.34 38.47a0.7 0.7 0 1 0 1.4 0a0.7 0.7 0 1 0 -1.4 0M138.65 36.41a0.7 0.7 0 1 0 1.4 0a0.7 0.7 0 1 0 -1.4 0M137.35 38.19a0.7 0.7 0 1 0 1.4 0a0.7 0.7 0 1 0 -1.4 0M138.92 37.41a0.7 0.7 0 1 0 1.4 0a0.7 0.7 0 1 0 -1.4 0M131.84 145.03a0.7 0.7 0 1 0 1.4 0a0.7 0.7 0 1 0 -1.4 0M132.50 140.78a0.7 0.7 0 1 0 1.4 0a0.7 0.7 0 1 0 -1.4 0M132.49 146.59a0.7 0.7 0 1 0 1.4 0a0.7 0.7 0 1 0 -1.4 0M136.02 140.63a0.7 0.7 0 1 0 1.4 0a0.7 0.7 0 1 0 -1.4 0M130.89 144.09a0.7 0.7 0 1 0 1.4 0a0.7 0.7 0 1 0 -1.4 0M135.46 147.30a0.7 0.7 0 1 0 1.4 0a0.7 0.7 0 1 0 -1.4 0M136.52 148.13a0.7 0.7 0 1 0 1.4 0a0.7 0.7 0 1 0 -1.4 0M132.93 143.36a0.7 0.7 0 1 0 1.4 0a0.7 0.7 0 1 0 -1.4 0M135.34 144.67a0.7 0.7 0 1 0 1.4 0a0.7 0.7 0 1 0 -1.4 0M133.74 144.49a0.7 0.7 0 1 0 1.4 0a0.7 0.7 0 1 0 -1.4 0M202.78 127.85a0.7 0.7 0 1 0 1.4 0a0.7 0.7 0 1 0 -1.4 0M202.34 124.84a0.7 0.7 0 1 0 1.4 0a0.7 0.7 0 1 0 -1.4 0M201.02 130.31a0.7 0.7 0 1 0 1.4 0a0.7 0.7 0 1 0 -1.4 0M202.28 127.17a0.7 0.7 0 1 0 1.4 0a0.7 0.7 0 1 0 -1.4 0M79.19 106.45a0.7 0.7 0 1 0 1.4 0a0.7 0.7 0 1 0 -1.4 0M82.48 106.87a0.7 0.7 0 1 0 1.4 0a0.7 0.7 0 1 0 -1.4 0M76.95 102.61a0.7 0.7 0 1 0 1.4 0a0.7 0.7 0 1 0 -1.4 0M95.73 64.58a0.7 0.7 0 1 0 1.4 0a0.7 0.7 0 1 0 -1.4 0M98.86 65.04a0.7 0.7 0 1 0 1.4 0a0.7 0.7 0 1 0 -1.4 0M95.98 61.52a0.7 0.7 0 1 0 1.4 0a0.7 0.7 0 1 0 -1.4 0M95.80 63.64a0.7 0.7 0 1 0 1.4 0a0.7 0.7 0 1 0 -1.4 0M95.56 63.91a0.7 0.7 0 1 0 1.4 0a0.7 0.7 0 1 0 -1.4 0M144.28 45.10a0.7 0.7 0 1 0 1.4 0a0.7 0.7 0 1 0 -1.4 0M144.88 44.02a0.7 0.7 0 1 0 1.4 0a0.7 0.7 0 1 0 -1.4 0M146.94 42.94a0.7 0.7 0 1 0 1.4 0a0.7 0.7 0 1 0 -1.4 0M148.50 45.54a0.7 0.7 0 1 0 1.4 0a0.7 0.7 0 1 0 -1.4 0M147.33 45.47a0.7 0.7 0 1 0 1.4 0a0.7 0.7 0 1 0 -1.4 0M153.68 92.60a0.7 0.7 0 1 0 1.4 0a0.7 0.7 0 1 0 -1.4 0M156.81 94.01a0.7 0.7 0 1 0 1.4 0a0.7 0.7 0 1 0 -1.4 0M151.14 94.31a0.7 0.7 0 1 0 1.4 0a0.7 0.7 0 1 0 -1.4 0M159.83 52.66a0.7 0.7 0 1 0 1.4 0a0.7 0.7 0 1 0 -1.4 0M156.03 55.76a0.7 0.7 0 1 0 1.4 0a0.7 0.7 0 1 0 -1.4 0M203.50 136.57a0.7 0.7 0 1 0 1.4 0a0.7 0.7 0 1 0 -1.4 0M204.64 140.46a0.7 0.7 0 1 0 1.4 0a0.7 0.7 0 1 0 -1.4 0M208.92 137.36a0.7 0.7 0 1 0 1.4 0a0.7 0.7 0 1 0 -1.4 0M209.48 138.55a0.7 0.7 0 1 0 1.4 0a0.7 0.7 0 1 0 -1.4 0M203.71 137.71a0.7 0.7 0 1 0 1.4 0a0.7 0.7 0 1 0 -1.4 0M139.67 131.70a0.7 0.7 0 1 0 1.4 0a0.7 0.7 0 1 0 -1.4 0M136.62 130.83a0.7 0.7 0 1 0 1.4 0a0.7 0.7 0 1 0 -1.4 0M138.05 129.31a0.7 0.7 0 1 0 1.4 0a0.7 0.7 0 1 0 -1.4 0M76.19 116.15a0.7 0.7 0 1 0 1.4 0a0.7 0.7 0 1 0 -1.4 0M73.20 111.63a0.7 0.7 0 1 0 1.4 0a0.7 0.7 0 1 0 -1.4 0M70.98 113.16a0.7 0.7 0 1 0 1.4 0a0.7 0.7 0 1 0 -1.4 0M72.77 112.44a0.7 0.7 0 1 0 1.4 0a0.7 0.7 0 1 0 -1.4 0M71.79 108.57a0.7 0.7 0 1 0 1.4 0a0.7 0.7 0 1 0 -1.4 0M72.39 112.23a0.7 0.7 0 1 0 1.4 0a0.7 0.7 0 1 0 -1.4 0M72.25 110.00a0.7 0.7 0 1 0 1.4 0a0.7 0.7 0 1 0 -1.4 0M120.73 48.55a0.7 0.7 0 1 0 1.4 0a0.7 0.7 0 1 0 -1.4 0M122.24 49.20a0.7 0.7 0 1 0 1.4 0a0.7 0.7 0 1 0 -1.4 0M120.54 48.98a0.7 0.7 0 1 0 1.4 0a0.7 0.7 0 1 0 -1.4 0M122.93 45.08a0.7 0.7 0 1 0 1.4 0a0.7 0.7 0 1 0 -1.4 0M120.14 47.56a0.7 0.7 0 1 0 1.4 0a0.7 0.7 0 1 0 -1.4 0M120.88 50.84a0.7 0.7 0 1 0 1.4 0a0.7 0.7 0 1 0 -1.4 0M123.01 47.37a0.7 0.7 0 1 0 1.4 0a0.7 0.7 0 1 0 -1.4 0M137.88 114.80a0.7 0.7 0 1 0 1.4 0a0.7 0.7 0 1 0 -1.4 0M139.71 113.12a0.7 0.7 0 1 0 1.4 0a0.7 0.7 0 1 0 -1.4 0M140.80 116.97a0.7 0.7 0 1 0 1.4 0a0.7 0.7 0 1 0 -1.4 0M182.60 169.90a0.7 0.7 0 1 0 1.4 0a0.7 0.7 0 1 0 -1.4 0M177.94 174.15a0.7 0.7 0 1 0 1.4 0a0.7 0.7 0 1 0 -1.4 0M177.03 169.77a0.7 0.7 0 1 0 1.4 0a0.7 0.7 0 1 0 -1.4 0M181.34 172.35a0.7 0.7 0 1 0 1.4 0a0.7 0.7 0 1 0 -1.4 0M140.66 169.93a0.7 0.7 0 1 0 1.4 0a0.7 0.7 0 1 0 -1.4 0M139.52 164.50a0.7 0.7 0 1 0 1.4 0a0.7 0.7 0 1 0 -1.4 0M139.90 166.72a0.7 0.7 0 1 0 1.4 0a0.7 0.7 0 1 0 -1.4 0M215.83 82.32a0.7 0.7 0 1 0 1.4 0a0.7 0.7 0 1 0 -1.4 0M212.70 80.28a0.7 0.7 0 1 0 1.4 0a0.7 0.7 0 1 0 -1.4 0M214.09 81.79a0.7 0.7 0 1 0 1.4 0a0.7 0.7 0 1 0 -1.4 0M147.34 45.62a0.7 0.7 0 1 0 1.4 0a0.7 0.7 0 1 0 -1.4 0M133.51 167.00a0.7 0.7 0 1 0 1.4 0a0.7 0.7 0 1 0 -1.4 0M133.40 160.18a0.7 0.7 0 1 0 1.4 0a0.7 0.7 0 1 0 -1.4 0M138.22 162.65a0.7 0.7 0 1 0 1.4 0a0.7 0.7 0 1 0 -1.4 0M208.93 92.33a0.7 0.7 0 1 0 1.4 0a0.7 0.7 0 1 0 -1.4 0M209.83 92.24a0.7 0.7 0 1 0 1.4 0a0.7 0.7 0 1 0 -1.4 0M154.75 90.22a0.7 0.7 0 1 0 1.4 0a0.7 0.7 0 1 0 -1.4 0M154.98 93.81a0.7 0.7 0 1 0 1.4 0a0.7 0.7 0 1 0 -1.4 0M157.46 94.24a0.7 0.7 0 1 0 1.4 0a0.7 0.7 0 1 0 -1.4 0M154.62 91.60a0.7 0.7 0 1 0 1.4 0a0.7 0.7 0 1 0 -1.4 0M153.96 90.23a0.7 0.7 0 1 0 1.4 0a0.7 0.7 0 1 0 -1.4 0M91.99 80.86a0.7 0.7 0 1 0 1.4 0a0.7 0.7 0 1 0 -1.4 0M144.10 127.89a0.7 0.7 0 1 0 1.4 0a0.7 0.7 0 1 0 -1.4 0M120.73 46.34a0.7 0.7 0 1 0 1.4 0a0.7 0.7 0 1 0 -1.4 0M130.70 142.62a0.7 0.7 0 1 0 1.4 0a0.7 0.7 0 1 0 -1.4 0M152.42 47.98a0.7 0.7 0 1 0 1.4 0a0.7 0.7 0 1 0 -1.4 0M181.79 174.27a0.7 0.7 0 1 0 1.4 0a0.7 0.7 0 1 0 -1.4 0M202.35 121.72a0.7 0.7 0 1 0 1.4 0a0.7 0.7 0 1 0 -1.4 0M74.20 142.53a0.7 0.7 0 1 0 1.4 0a0.7 0.7 0 1 0 -1.4 0M176.10 180.86a0.7 0.7 0 1 0 1.4 0a0.7 0.7 0 1 0 -1.4 0M187.42 176.07a0.7 0.7 0 1 0 1.4 0a0.7 0.7 0 1 0 -1.4 0M123.12 40.05a0.7 0.7 0 1 0 1.4 0a0.7 0.7 0 1 0 -1.4 0M156.62 185.55a0.7 0.7 0 1 0 1.4 0a0.7 0.7 0 1 0 -1.4 0M160.95 62.82a0.7 0.7 0 1 0 1.4 0a0.7 0.7 0 1 0 -1.4 0M130.42 39.97a0.7 0.7 0 1 0 1.4 0a0.7 0.7 0 1 0 -1.4 0M136.48 149.22a0.7 0.7 0 1 0 1.4 0a0.7 0.7 0 1 0 -1.4 0M184.99 178.25a0.7 0.7 0 1 0 1.4 0a0.7 0.7 0 1 0 -1.4 0M203.82 114.21a0.7 0.7 0 1 0 1.4 0a0.7 0.7 0 1 0 -1.4 0M203.45 120.51a0.7 0.7 0 1 0 1.4 0a0.7 0.7 0 1 0 -1.4 0M87.29 94.18a0.7 0.7 0 1 0 1.4 0a0.7 0.7 0 1 0 -1.4 0M162.80 182.75a0.7 0.7 0 1 0 1.4 0a0.7 0.7 0 1 0 -1.4 0M137.87 140.56a0.7 0.7 0 1 0 1.4 0a0.7 0.7 0 1 0 -1.4 0M183.44 174.25a0.7 0.7 0 1 0 1.4 0a0.7 0.7 0 1 0 -1.4 0M202.41 152.41a0.7 0.7 0 1 0 1.4 0a0.7 0.7 0 1 0 -1.4 0M81.37 102.91a0.7 0.7 0 1 0 1.4 0a0.7 0.7 0 1 0 -1.4 0M161.15 181.92a0.7 0.7 0 1 0 1.4 0a0.7 0.7 0 1 0 -1.4 0M104.68 58.66a0.7 0.7 0 1 0 1.4 0a0.7 0.7 0 1 0 -1.4 0M156.39 72.56a0.7 0.7 0 1 0 1.4 0a0.7 0.7 0 1 0 -1.4 0M64.92 117.02a0.7 0.7 0 1 0 1.4 0a0.7 0.7 0 1 0 -1.4 0M203.18 98.21a0.7 0.7 0 1 0 1.4 0a0.7 0.7 0 1 0 -1.4 0M132.06 154.11a0.7 0.7 0 1 0 1.4 0a0.7 0.7 0 1 0 -1.4 0M149.95 171.50a0.7 0.7 0 1 0 1.4 0a0.7 0.7 0 1 0 -1.4 0M156.76 82.71a0.7 0.7 0 1 0 1.4 0a0.7 0.7 0 1 0 -1.4 0M146.36 46.49a0.7 0.7 0 1 0 1.4 0a0.7 0.7 0 1 0 -1.4 0M111.40 55.80a0.7 0.7 0 1 0 1.4 0a0.7 0.7 0 1 0 -1.4 0M112.81 55.61a0.7 0.7 0 1 0 1.4 0a0.7 0.7 0 1 0 -1.4 0M159.67 68.99a0.7 0.7 0 1 0 1.4 0a0.7 0.7 0 1 0 -1.4 0M198.11 148.73a0.7 0.7 0 1 0 1.4 0a0.7 0.7 0 1 0 -1.4 0M88.48 93.64a0.7 0.7 0 1 0 1.4 0a0.7 0.7 0 1 0 -1.4 0M202.64 107.09a0.7 0.7 0 1 0 1.4 0a0.7 0.7 0 1 0 -1.4 0M77.29 136.69a0.7 0.7 0 1 0 1.4 0a0.7 0.7 0 1 0 -1.4 0M214.24 82.98a0.7 0.7 0 1 0 1.4 0a0.7 0.7 0 1 0 -1.4 0M197.42 159.00a0.7 0.7 0 1 0 1.4 0a0.7 0.7 0 1 0 -1.4 0M194.35 155.12a0.7 0.7 0 1 0 1.4 0a0.7 0.7 0 1 0 -1.4 0M186.97 164.70a0.7 0.7 0 1 0 1.4 0a0.7 0.7 0 1 0 -1.4 0M175.45 177.69a0.7 0.7 0 1 0 1.4 0a0.7 0.7 0 1 0 -1.4 0M203.67 112.05a0.7 0.7 0 1 0 1.4 0a0.7 0.7 0 1 0 -1.4 0M85.25 87.35a0.7 0.7 0 1 0 1.4 0a0.7 0.7 0 1 0 -1.4 0M174.82 180.25a0.7 0.7 0 1 0 1.4 0a0.7 0.7 0 1 0 -1.4 0M71.46 123.32a0.7 0.7 0 1 0 1.4 0a0.7 0.7 0 1 0 -1.4 0M151.23 54.43a0.7 0.7 0 1 0 1.4 0a0.7 0.7 0 1 0 -1.4 0M174.19 185.20a0.7 0.7 0 1 0 1.4 0a0.7 0.7 0 1 0 -1.4 0M134.88 143.20a0.7 0.7 0 1 0 1.4 0a0.7 0.7 0 1 0 -1.4 0M146.81 114.15a0.7 0.7 0 1 0 1.4 0a0.7 0.7 0 1 0 -1.4 0M68.65 121.49a0.7 0.7 0 1 0 1.4 0a0.7 0.7 0 1 0 -1.4 0M170.89 183.79a0.7 0.7 0 1 0 1.4 0a0.7 0.7 0 1 0 -1.4 0M102.86 66.26a0.7 0.7 0 1 0 1.4 0a0.7 0.7 0 1 0 -1.4 0M145.18 115.51a0.7 0.7 0 1 0 1.4 0a0.7 0.7 0 1 0 -1.4 0M206.37 83.72a0.7 0.7 0 1 0 1.4 0a0.7 0.7 0 1 0 -1.4 0M146.86 104.36a0.7 0.7 0 1 0 1.4 0a0.7 0.7 0 1 0 -1.4 0M149.63 183.15a0.7 0.7 0 1 0 1.4 0a0.7 0.7 0 1 0 -1.4 0M158.23 61.96a0.7 0.7 0 1 0 1.4 0a0.7 0.7 0 1 0 -1.4 0M138.77 169.14a0.7 0.7 0 1 0 1.4 0a0.7 0.7 0 1 0 -1.4 0M77.50 97.26a0.7 0.7 0 1 0 1.4 0a0.7 0.7 0 1 0 -1.4 0M72.20 100.74a0.7 0.7 0 1 0 1.4 0a0.7 0.7 0 1 0 -1.4 0M82.27 85.19a0.7 0.7 0 1 0 1.4 0a0.7 0.7 0 1 0 -1.4 0M162.51 186.59a0.7 0.7 0 1 0 1.4 0a0.7 0.7 0 1 0 -1.4 0M98.29 65.72a0.7 0.7 0 1 0 1.4 0a0.7 0.7 0 1 0 -1.4 0M103.44 68.55a0.7 0.7 0 1 0 1.4 0a0.7 0.7 0 1 0 -1.4 0M138.53 167.95a0.7 0.7 0 1 0 1.4 0a0.7 0.7 0 1 0 -1.4 0M148.29 42.95a0.7 0.7 0 1 0 1.4 0a0.7 0.7 0 1 0 -1.4 0M134.65 161.36a0.7 0.7 0 1 0 1.4 0a0.7 0.7 0 1 0 -1.4 0M86.92 80.66a0.7 0.7 0 1 0 1.4 0a0.7 0.7 0 1 0 -1.4 0M79.03 94.32a0.7 0.7 0 1 0 1.4 0a0.7 0.7 0 1 0 -1.4 0M144.21 121.75a0.7 0.7 0 1 0 1.4 0a0.7 0.7 0 1 0 -1.4 0M115.07 51.94a0.7 0.7 0 1 0 1.4 0a0.7 0.7 0 1 0 -1.4 0M93.29 79.76a0.7 0.7 0 1 0 1.4 0a0.7 0.7 0 1 0 -1.4 0M69.18 129.15a0.7 0.7 0 1 0 1.4 0a0.7 0.7 0 1 0 -1.4 0M205.01 97.68a0.7 0.7 0 1 0 1.4 0a0.7 0.7 0 1 0 -1.4 0M130.86 144.51a0.7 0.7 0 1 0 1.4 0a0.7 0.7 0 1 0 -1.4 0M150.67 183.77a0.7 0.7 0 1 0 1.4 0a0.7 0.7 0 1 0 -1.4 0M204.76 113.19a0.7 0.7 0 1 0 1.4 0a0.7 0.7 0 1 0 -1.4 0M204.69 92.92a0.7 0.7 0 1 0 1.4 0a0.7 0.7 0 1 0 -1.4 0M147.17 180.06a0.7 0.7 0 1 0 1.4 0a0.7 0.7 0 1 0 -1.4 0M215.98 84.86a0.7 0.7 0 1 0 1.4 0a0.7 0.7 0 1 0 -1.4 0M144.85 115.99a0.7 0.7 0 1 0 1.4 0a0.7 0.7 0 1 0 -1.4 0M157.38 72.26a0.7 0.7 0 1 0 1.4 0a0.7 0.7 0 1 0 -1.4 0M93.44 77.17a0.7 0.7 0 1 0 1.4 0a0.7 0.7 0 1 0 -1.4 0M155.05 74.52a0.7 0.7 0 1 0 1.4 0a0.7 0.7 0 1 0 -1.4 0M131.51 153.22a0.7 0.7 0 1 0 1.4 0a0.7 0.7 0 1 0 -1.4 0M147.81 48.32a0.7 0.7 0 1 0 1.4 0a0.7 0.7 0 1 0 -1.4 0M205.10 100.30a0.7 0.7 0 1 0 1.4 0a0.7 0.7 0 1 0 -1.4 0M78.89 101.97a0.7 0.7 0 1 0 1.4 0a0.7 0.7 0 1 0 -1.4 0M202.13 109.10a0.7 0.7 0 1 0 1.4 0a0.7 0.7 0 1 0 -1.4 0M135.92 141.85a0.7 0.7 0 1 0 1.4 0a0.7 0.7 0 1 0 -1.4 0M151.77 51.72a0.7 0.7 0 1 0 1.4 0a0.7 0.7 0 1 0 -1.4 0M110.96 60.51a0.7 0.7 0 1 0 1.4 0a0.7 0.7 0 1 0 -1.4 0M82.01 93.44a0.7 0.7 0 1 0 1.4 0a0.7 0.7 0 1 0 -1.4 0M77.59 94.60a0.7 0.7 0 1 0 1.4 0a0.7 0.7 0 1 0 -1.4 0M73.27 128.27a0.7 0.7 0 1 0 1.4 0a0.7 0.7 0 1 0 -1.4 0M116.69 46.52a0.7 0.7 0 1 0 1.4 0a0.7 0.7 0 1 0 -1.4 0M200.57 129.36a0.7 0.7 0 1 0 1.4 0a0.7 0.7 0 1 0 -1.4 0M80.10 97.55a0.7 0.7 0 1 0 1.4 0a0.7 0.7 0 1 0 -1.4 0M72.41 135.03a0.7 0.7 0 1 0 1.4 0a0.7 0.7 0 1 0 -1.4 0M142.09 112.94a0.7 0.7 0 1 0 1.4 0a0.7 0.7 0 1 0 -1.4 0M148.74 42.75a0.7 0.7 0 1 0 1.4 0a0.7 0.7 0 1 0 -1.4 0M158.59 56.87a0.7 0.7 0 1 0 1.4 0a0.7 0.7 0 1 0 -1.4 0M73.92 130.58a0.7 0.7 0 1 0 1.4 0a0.7 0.7 0 1 0 -1.4 0M157.72 89.90a0.7 0.7 0 1 0 1.4 0a0.7 0.7 0 1 0 -1.4 0M159.21 65.78a0.7 0.7 0 1 0 1.4 0a0.7 0.7 0 1 0 -1.4 0M213.26 82.23a0.7 0.7 0 1 0 1.4 0a0.7 0.7 0 1 0 -1.4 0M208.12 91.53a0.7 0.7 0 1 0 1.4 0a0.7 0.7 0 1 0 -1.4 0M158.36 73.87a0.7 0.7 0 1 0 1.4 0a0.7 0.7 0 1 0 -1.4 0M202.48 109.70a0.7 0.7 0 1 0 1.4 0a0.7 0.7 0 1 0 -1.4 0M132.70 149.31a0.7 0.7 0 1 0 1.4 0a0.7 0.7 0 1 0 -1.4 0M95.09 79.17a0.7 0.7 0 1 0 1.4 0a0.7 0.7 0 1 0 -1.4 0M204.41 83.90a0.7 0.7 0 1 0 1.4 0a0.7 0.7 0 1 0 -1.4 0M158.40 69.99a0.7 0.7 0 1 0 1.4 0a0.7 0.7 0 1 0 -1.4 0M143.48 108.58a0.7 0.7 0 1 0 1.4 0a0.7 0.7 0 1 0 -1.4 0M162.91 183.08a0.7 0.7 0 1 0 1.4 0a0.7 0.7 0 1 0 -1.4 0M106.76 55.48a0.7 0.7 0 1 0 1.4 0a0.7 0.7 0 1 0 -1.4 0M147.01 104.77a0.7 0.7 0 1 0 1.4 0a0.7 0.7 0 1 0 -1.4 0M111.39 52.32a0.7 0.7 0 1 0 1.4 0a0.7 0.7 0 1 0 -1.4 0M114.69 49.01a0.7 0.7 0 1 0 1.4 0a0.7 0.7 0 1 0 -1.4 0M154.72 50.73a0.7 0.7 0 1 0 1.4 0a0.7 0.7 0 1 0 -1.4 0M205.95 112.16a0.7 0.7 0 1 0 1.4 0a0.7 0.7 0 1 0 -1.4 0M146.05 170.68a0.7 0.7 0 1 0 1.4 0a0.7 0.7 0 1 0 -1.4 0M159.09 68.15a0.7 0.7 0 1 0 1.4 0a0.7 0.7 0 1 0 -1.4 0M147.07 49.46a0.7 0.7 0 1 0 1.4 0a0.7 0.7 0 1 0 -1.4 0M157.28 78.54a0.7 0.7 0 1 0 1.4 0a0.7 0.7 0 1 0 -1.4 0M85.92 84.49a0.7 0.7 0 1 0 1.4 0a0.7 0.7 0 1 0 -1.4 0M204.66 128.39a0.7 0.7 0 1 0 1.4 0a0.7 0.7 0 1 0 -1.4 0M157.23 58.45a0.7 0.7 0 1 0 1.4 0a0.7 0.7 0 1 0 -1.4 0M142.94 107.22a0.7 0.7 0 1 0 1.4 0a0.7 0.7 0 1 0 -1.4 0M76.43 102.47a0.7 0.7 0 1 0 1.4 0a0.7 0.7 0 1 0 -1.4 0M206.26 111.68a0.7 0.7 0 1 0 1.4 0a0.7 0.7 0 1 0 -1.4 0M140.84 118.37a0.7 0.7 0 1 0 1.4 0a0.7 0.7 0 1 0 -1.4 0M218.20 83.28a0.7 0.7 0 1 0 1.4 0a0.7 0.7 0 1 0 -1.4 0M78.99 101.31a0.7 0.7 0 1 0 1.4 0a0.7 0.7 0 1 0 -1.4 0M121.37 46.27a0.7 0.7 0 1 0 1.4 0a0.7 0.7 0 1 0 -1.4 0M133.71 157.38a0.7 0.7 0 1 0 1.4 0a0.7 0.7 0 1 0 -1.4 0M156.76 71.17a0.7 0.7 0 1 0 1.4 0a0.7 0.7 0 1 0 -1.4 0M192.87 157.95a0.7 0.7 0 1 0 1.4 0a0.7 0.7 0 1 0 -1.4 0M132.86 152.87a0.7 0.7 0 1 0 1.4 0a0.7 0.7 0 1 0 -1.4 0M203.49 132.20a0.7 0.7 0 1 0 1.4 0a0.7 0.7 0 1 0 -1.4 0M193.05 163.01a0.7 0.7 0 1 0 1.4 0a0.7 0.7 0 1 0 -1.4 0M66.59 135.64a0.7 0.7 0 1 0 1.4 0a0.7 0.7 0 1 0 -1.4 0M204.58 99.74a0.7 0.7 0 1 0 1.4 0a0.7 0.7 0 1 0 -1.4 0M86.49 86.55a0.7 0.7 0 1 0 1.4 0a0.7 0.7 0 1 0 -1.4 0M151.20 49.75a0.7 0.7 0 1 0 1.4 0a0.7 0.7 0 1 0 -1.4 0M142.11 131.80a0.7 0.7 0 1 0 1.4 0a0.7 0.7 0 1 0 -1.4 0M200.28 125.62a0.7 0.7 0 1 0 1.4 0a0.7 0.7 0 1 0 -1.4 0M136.48 44.13a0.7 0.7 0 1 0 1.4 0a0.7 0.7 0 1 0 -1.4 0M73.25 132.12a0.7 0.7 0 1 0 1.4 0a0.7 0.7 0 1 0 -1.4 0M78.42 101.45a0.7 0.7 0 1 0 1.4 0a0.7 0.7 0 1 0 -1.4 0M192.66 161.71a0.7 0.7 0 1 0 1.4 0a0.7 0.7 0 1 0 -1.4 0M98.32 61.41a0.7 0.7 0 1 0 1.4 0a0.7 0.7 0 1 0 -1.4 0M149.50 179.92a0.7 0.7 0 1 0 1.4 0a0.7 0.7 0 1 0 -1.4 0M154.40 183.08a0.7 0.7 0 1 0 1.4 0a0.7 0.7 0 1 0 -1.4 0M203.41 95.28a0.7 0.7 0 1 0 1.4 0a0.7 0.7 0 1 0 -1.4 0M217.74 81.40a0.7 0.7 0 1 0 1.4 0a0.7 0.7 0 1 0 -1.4 0M112.03 57.56a0.7 0.7 0 1 0 1.4 0a0.7 0.7 0 1 0 -1.4 0M202.20 139.72a0.7 0.7 0 1 0 1.4 0a0.7 0.7 0 1 0 -1.4 0M161.34 66.65a0.7 0.7 0 1 0 1.4 0a0.7 0.7 0 1 0 -1.4 0M107.47 57.48a0.7 0.7 0 1 0 1.4 0a0.7 0.7 0 1 0 -1.4 0M152.05 44.49a0.7 0.7 0 1 0 1.4 0a0.7 0.7 0 1 0 -1.4 0M99.99 64.40a0.7 0.7 0 1 0 1.4 0a0.7 0.7 0 1 0 -1.4 0M217.68 78.81a0.7 0.7 0 1 0 1.4 0a0.7 0.7 0 1 0 -1.4 0M74.77 142.97a0.7 0.7 0 1 0 1.4 0a0.7 0.7 0 1 0 -1.4 0M200.48 138.63a0.7 0.7 0 1 0 1.4 0a0.7 0.7 0 1 0 -1.4 0M163.07 181.12a0.7 0.7 0 1 0 1.4 0a0.7 0.7 0 1 0 -1.4 0M138.32 137.18a0.7 0.7 0 1 0 1.4 0a0.7 0.7 0 1 0 -1.4 0M107.63 62.66a0.7 0.7 0 1 0 1.4 0a0.7 0.7 0 1 0 -1.4 0M142.96 41.02a0.7 0.7 0 1 0 1.4 0a0.7 0.7 0 1 0 -1.4 0M202.89 94.73a0.7 0.7 0 1 0 1.4 0a0.7 0.7 0 1 0 -1.4 0M198.90 154.66a0.7 0.7 0 1 0 1.4 0a0.7 0.7 0 1 0 -1.4 0M84.54 95.61a0.7 0.7 0 1 0 1.4 0a0.7 0.7 0 1 0 -1.4 0M157.81 87.26a0.7 0.7 0 1 0 1.4 0a0.7 0.7 0 1 0 -1.4 0M205.38 98.24a0.7 0.7 0 1 0 1.4 0a0.7 0.7 0 1 0 -1.4 0M69.12 132.45a0.7 0.7 0 1 0 1.4 0a0.7 0.7 0 1 0 -1.4 0M144.19 125.92a0.7 0.7 0 1 0 1.4 0a0.7 0.7 0 1 0 -1.4 0M169.72 181.02a0.7 0.7 0 1 0 1.4 0a0.7 0.7 0 1 0 -1.4 0M125.91 45.92a0.7 0.7 0 1 0 1.4 0a0.7 0.7 0 1 0 -1.4 0M156.24 75.59a0.7 0.7 0 1 0 1.4 0a0.7 0.7 0 1 0 -1.4 0M202.44 105.13a0.7 0.7 0 1 0 1.4 0a0.7 0.7 0 1 0 -1.4 0M133.05 161.34a0.7 0.7 0 1 0 1.4 0a0.7 0.7 0 1 0 -1.4 0M200.48 139.98a0.7 0.7 0 1 0 1.4 0a0.7 0.7 0 1 0 -1.4 0M160.73 183.47a0.7 0.7 0 1 0 1.4 0a0.7 0.7 0 1 0 -1.4 0M110.31 57.13a0.7 0.7 0 1 0 1.4 0a0.7 0.7 0 1 0 -1.4 0M87.27 83.07a0.7 0.7 0 1 0 1.4 0a0.7 0.7 0 1 0 -1.4 0M130.98 160.49a0.7 0.7 0 1 0 1.4 0a0.7 0.7 0 1 0 -1.4 0M144.54 41.20a0.7 0.7 0 1 0 1.4 0a0.7 0.7 0 1 0 -1.4 0M74.00 114.84a0.7 0.7 0 1 0 1.4 0a0.7 0.7 0 1 0 -1.4 0M68.72 119.49a0.7 0.7 0 1 0 1.4 0a0.7 0.7 0 1 0 -1.4 0M196.35 156.01a0.7 0.7 0 1 0 1.4 0a0.7 0.7 0 1 0 -1.4 0M170.06 179.93a0.7 0.7 0 1 0 1.4 0a0.7 0.7 0 1 0 -1.4 0M200.89 137.31a0.7 0.7 0 1 0 1.4 0a0.7 0.7 0 1 0 -1.4 0M71.75 139.53a0.7 0.7 0 1 0 1.4 0a0.7 0.7 0 1 0 -1.4 0M133.89 154.14a0.7 0.7 0 1 0 1.4 0a0.7 0.7 0 1 0 -1.4 0M89.23 83.57a0.7 0.7 0 1 0 1.4 0a0.7 0.7 0 1 0 -1.4 0M203.80 123.91a0.7 0.7 0 1 0 1.4 0a0.7 0.7 0 1 0 -1.4 0M134.75 163.62a0.7 0.7 0 1 0 1.4 0a0.7 0.7 0 1 0 -1.4 0M75.62 129.04a0.7 0.7 0 1 0 1.4 0a0.7 0.7 0 1 0 -1.4 0M205.06 133.92a0.7 0.7 0 1 0 1.4 0a0.7 0.7 0 1 0 -1.4 0M115.90 49.36a0.7 0.7 0 1 0 1.4 0a0.7 0.7 0 1 0 -1.4 0M201.98 98.86a0.7 0.7 0 1 0 1.4 0a0.7 0.7 0 1 0 -1.4 0M146.71 45.73a0.7 0.7 0 1 0 1.4 0a0.7 0.7 0 1 0 -1.4 0M189.55 167.86a0.7 0.7 0 1 0 1.4 0a0.7 0.7 0 1 0 -1.4 0M144.37 116.53a0.7 0.7 0 1 0 1.4 0a0.7 0.7 0 1 0 -1.4 0M145.71 102.01a0.7 0.7 0 1 0 1.4 0a0.7 0.7 0 1 0 -1.4 0M135.19 40.02a0.7 0.7 0 1 0 1.4 0a0.7 0.7 0 1 0 -1.4 0M214.17 81.48a0.7 0.7 0 1 0 1.4 0a0.7 0.7 0 1 0 -1.4 0M205.83 129.29a0.7 0.7 0 1 0 1.4 0a0.7 0.7 0 1 0 -1.4 0M215.76 79.35a0.7 0.7 0 1 0 1.4 0a0.7 0.7 0 1 0 -1.4 0M76.25 108.00a0.7 0.7 0 1 0 1.4 0a0.7 0.7 0 1 0 -1.4 0M132.10 157.99a0.7 0.7 0 1 0 1.4 0a0.7 0.7 0 1 0 -1.4 0M148.98 111.10a0.7 0.7 0 1 0 1.4 0a0.7 0.7 0 1 0 -1.4 0M131.61 38.64a0.7 0.7 0 1 0 1.4 0a0.7 0.7 0 1 0 -1.4 0M131.06 163.56a0.7 0.7 0 1 0 1.4 0a0.7 0.7 0 1 0 -1.4 0M204.23 92.43a0.7 0.7 0 1 0 1.4 0a0.7 0.7 0 1 0 -1.4 0M183.40 182.90a0.7 0.7 0 1 0 1.4 0a0.7 0.7 0 1 0 -1.4 0M141.24 171.32a0.7 0.7 0 1 0 1.4 0a0.7 0.7 0 1 0 -1.4 0M154.54 56.61a0.7 0.7 0 1 0 1.4 0a0.7 0.7 0 1 0 -1.4 0M133.95 145.61a0.7 0.7 0 1 0 1.4 0a0.7 0.7 0 1 0 -1.4 0M78.13 143.87a0.7 0.7 0 1 0 1.4 0a0.7 0.7 0 1 0 -1.4 0M119.37 52.88a0.7 0.7 0 1 0 1.4 0a0.7 0.7 0 1 0 -1.4 0M140.79 169.88a0.7 0.7 0 1 0 1.4 0a0.7 0.7 0 1 0 -1.4 0M145.81 169.64a0.7 0.7 0 1 0 1.4 0a0.7 0.7 0 1 0 -1.4 0M84.15 94.39a0.7 0.7 0 1 0 1.4 0a0.7 0.7 0 1 0 -1.4 0M151.65 50.51a0.7 0.7 0 1 0 1.4 0a0.7 0.7 0 1 0 -1.4 0M205.68 86.74a0.7 0.7 0 1 0 1.4 0a0.7 0.7 0 1 0 -1.4 0M103.23 58.75a0.7 0.7 0 1 0 1.4 0a0.7 0.7 0 1 0 -1.4 0M89.28 78.84a0.7 0.7 0 1 0 1.4 0a0.7 0.7 0 1 0 -1.4 0M145.23 114.77a0.7 0.7 0 1 0 1.4 0a0.7 0.7 0 1 0 -1.4 0M160.35 54.04a0.7 0.7 0 1 0 1.4 0a0.7 0.7 0 1 0 -1.4 0M140.27 118.23a0.7 0.7 0 1 0 1.4 0a0.7 0.7 0 1 0 -1.4 0M73.32 117.90a0.7 0.7 0 1 0 1.4 0a0.7 0.7 0 1 0 -1.4 0M154.73 178.54a0.7 0.7 0 1 0 1.4 0a0.7 0.7 0 1 0 -1.4 0M155.59 73.09a0.7 0.7 0 1 0 1.4 0a0.7 0.7 0 1 0 -1.4 0M77.48 105.67a0.7 0.7 0 1 0 1.4 0a0.7 0.7 0 1 0 -1.4 0M141.63 123.91a0.7 0.7 0 1 0 1.4 0a0.7 0.7 0 1 0 -1.4 0M135.92 150.85a0.7 0.7 0 1 0 1.4 0a0.7 0.7 0 1 0 -1.4 0M141.04 44.15a0.7 0.7 0 1 0 1.4 0a0.7 0.7 0 1 0 -1.4 0M110.67 57.17a0.7 0.7 0 1 0 1.4 0a0.7 0.7 0 1 0 -1.4 0M203.36 125.60a0.7 0.7 0 1 0 1.4 0a0.7 0.7 0 1 0 -1.4 0M134.53 169.93a0.7 0.7 0 1 0 1.4 0a0.7 0.7 0 1 0 -1.4 0M139.38 36.07a0.7 0.7 0 1 0 1.4 0a0.7 0.7 0 1 0 -1.4 0M191.03 168.51a0.7 0.7 0 1 0 1.4 0a0.7 0.7 0 1 0 -1.4 0M158.55 74.10a0.7 0.7 0 1 0 1.4 0a0.7 0.7 0 1 0 -1.4 0M148.78 100.75a0.7 0.7 0 1 0 1.4 0a0.7 0.7 0 1 0 -1.4 0M85.63 82.58a0.7 0.7 0 1 0 1.4 0a0.7 0.7 0 1 0 -1.4 0M139.02 38.58a0.7 0.7 0 1 0 1.4 0a0.7 0.7 0 1 0 -1.4 0M152.96 58.82a0.7 0.7 0 1 0 1.4 0a0.7 0.7 0 1 0 -1.4 0M200.29 149.90a0.7 0.7 0 1 0 1.4 0a0.7 0.7 0 1 0 -1.4 0M108.16 55.08a0.7 0.7 0 1 0 1.4 0a0.7 0.7 0 1 0 -1.4 0M139.84 121.82a0.7 0.7 0 1 0 1.4 0a0.7 0.7 0 1 0 -1.4 0M112.50 51.46a0.7 0.7 0 1 0 1.4 0a0.7 0.7 0 1 0 -1.4 0M178.99 180.66a0.7 0.7 0 1 0 1.4 0a0.7 0.7 0 1 0 -1.4 0M85.45 85.05a0.7 0.7 0 1 0 1.4 0a0.7 0.7 0 1 0 -1.4 0M144.84 110.50a0.7 0.7 0 1 0 1.4 0a0.7 0.7 0 1 0 -1.4 0M122.63 51.22a0.7 0.7 0 1 0 1.4 0a0.7 0.7 0 1 0 -1.4 0M166.70 184.21a0.7 0.7 0 1 0 1.4 0a0.7 0.7 0 1 0 -1.4 0M208.11 126.60a0.7 0.7 0 1 0 1.4 0a0.7 0.7 0 1 0 -1.4 0M211.84 86.46a0.7 0.7 0 1 0 1.4 0a0.7 0.7 0 1 0 -1.4 0M155.58 183.59a0.7 0.7 0 1 0 1.4 0a0.7 0.7 0 1 0 -1.4 0M77.05 144.96a0.7 0.7 0 1 0 1.4 0a0.7 0.7 0 1 0 -1.4 0M177.86 179.01a0.7 0.7 0 1 0 1.4 0a0.7 0.7 0 1 0 -1.4 0M176.28 184.31a0.7 0.7 0 1 0 1.4 0a0.7 0.7 0 1 0 -1.4 0M200.55 156.04a0.7 0.7 0 1 0 1.4 0a0.7 0.7 0 1 0 -1.4 0M178.98 180.85a0.7 0.7 0 1 0 1.4 0a0.7 0.7 0 1 0 -1.4 0M90.80 89.90a0.7 0.7 0 1 0 1.4 0a0.7 0.7 0 1 0 -1.4 0M206.36 103.11a0.7 0.7 0 1 0 1.4 0a0.7 0.7 0 1 0 -1.4 0M118.44 48.39a0.7 0.7 0 1 0 1.4 0a0.7 0.7 0 1 0 -1.4 0M195.09 158.12a0.7 0.7 0 1 0 1.4 0a0.7 0.7 0 1 0 -1.4 0M83.69 93.89a0.7 0.7 0 1 0 1.4 0a0.7 0.7 0 1 0 -1.4 0M73.59 112.91a0.7 0.7 0 1 0 1.4 0a0.7 0.7 0 1 0 -1.4 0M130.72 45.83a0.7 0.7 0 1 0 1.4 0a0.7 0.7 0 1 0 -1.4 0M75.49 102.06a0.7 0.7 0 1 0 1.4 0a0.7 0.7 0 1 0 -1.4 0M141.63 39.76a0.7 0.7 0 1 0 1.4 0a0.7 0.7 0 1 0 -1.4 0M90.77 80.46a0.7 0.7 0 1 0 1.4 0a0.7 0.7 0 1 0 -1.4 0M207.20 130.59a0.7 0.7 0 1 0 1.4 0a0.7 0.7 0 1 0 -1.4 0M192.59 170.06a0.7 0.7 0 1 0 1.4 0a0.7 0.7 0 1 0 -1.4 0M205.34 129.20a0.7 0.7 0 1 0 1.4 0a0.7 0.7 0 1 0 -1.4 0M136.48 149.33a0.7 0.7 0 1 0 1.4 0a0.7 0.7 0 1 0 -1.4 0M111.86 58.11a0.7 0.7 0 1 0 1.4 0a0.7 0.7 0 1 0 -1.4 0M69.87 126.31a0.7 0.7 0 1 0 1.4 0a0.7 0.7 0 1 0 -1.4 0M74.33 105.03a0.7 0.7 0 1 0 1.4 0a0.7 0.7 0 1 0 -1.4 0M123.52 46.36a0.7 0.7 0 1 0 1.4 0a0.7 0.7 0 1 0 -1.4 0M127.93 46.24a0.7 0.7 0 1 0 1.4 0a0.7 0.7 0 1 0 -1.4 0M132.63 40.08a0.7 0.7 0 1 0 1.4 0a0.7 0.7 0 1 0 -1.4 0M198.70 147.34a0.7 0.7 0 1 0 1.4 0a0.7 0.7 0 1 0 -1.4 0M171.39 182.72a0.7 0.7 0 1 0 1.4 0a0.7 0.7 0 1 0 -1.4 0M137.45 144.64a0.7 0.7 0 1 0 1.4 0a0.7 0.7 0 1 0 -1.4 0M161.17 83.27a0.7 0.7 0 1 0 1.4 0a0.7 0.7 0 1 0 -1.4 0M110.07 51.56a0.7 0.7 0 1 0 1.4 0a0.7 0.7 0 1 0 -1.4 0M132.12 153.57a0.7 0.7 0 1 0 1.4 0a0.7 0.7 0 1 0 -1.4 0M119.94 45.02a0.7 0.7 0 1 0 1.4 0a0.7 0.7 0 1 0 -1.4 0M193.63 155.95a0.7 0.7 0 1 0 1.4 0a0.7 0.7 0 1 0 -1.4 0M206.15 111.24a0.7 0.7 0 1 0 1.4 0a0.7 0.7 0 1 0 -1.4 0M139.71 130.73a0.7 0.7 0 1 0 1.4 0a0.7 0.7 0 1 0 -1.4 0M73.95 127.98a0.7 0.7 0 1 0 1.4 0a0.7 0.7 0 1 0 -1.4 0M153.33 181.88a0.7 0.7 0 1 0 1.4 0a0.7 0.7 0 1 0 -1.4 0M137.53 39.02a0.7 0.7 0 1 0 1.4 0a0.7 0.7 0 1 0 -1.4 0M204.48 107.27a0.7 0.7 0 1 0 1.4 0a0.7 0.7 0 1 0 -1.4 0M261.62 97.16a0.7 0.7 0 1 0 1.4 0a0.7 0.7 0 1 0 -1.4 0M243.04 83.55a0.7 0.7 0 1 0 1.4 0a0.7 0.7 0 1 0 -1.4 0M273.35 117.43a0.7 0.7 0 1 0 1.4 0a0.7 0.7 0 1 0 -1.4 0M225.03 78.67a0.7 0.7 0 1 0 1.4 0a0.7 0.7 0 1 0 -1.4 0M251.56 87.54a0.7 0.7 0 1 0 1.4 0a0.7 0.7 0 1 0 -1.4 0M221.90 80.01a0.7 0.7 0 1 0 1.4 0a0.7 0.7 0 1 0 -1.4 0M249.56 88.00a0.7 0.7 0 1 0 1.4 0a0.7 0.7 0 1 0 -1.4 0M257.68 94.63a0.7 0.7 0 1 0 1.4 0a0.7 0.7 0 1 0 -1.4 0M238.09 80.24a0.7 0.7 0 1 0 1.4 0a0.7 0.7 0 1 0 -1.4 0M234.41 79.68a0.7 0.7 0 1 0 1.4 0a0.7 0.7 0 1 0 -1.4 0M222.99 80.90a0.7 0.7 0 1 0 1.4 0a0.7 0.7 0 1 0 -1.4 0M262.82 102.83a0.7 0.7 0 1 0 1.4 0a0.7 0.7 0 1 0 -1.4 0M257.11 96.36a0.7 0.7 0 1 0 1.4 0a0.7 0.7 0 1 0 -1.4 0M242.53 80.22a0.7 0.7 0 1 0 1.4 0a0.7 0.7 0 1 0 -1.4 0M222.64 79.10a0.7 0.7 0 1 0 1.4 0a0.7 0.7 0 1 0 -1.4 0M270.32 112.95a0.7 0.7 0 1 0 1.4 0a0.7 0.7 0 1 0 -1.4 0M250.96 85.41a0.7 0.7 0 1 0 1.4 0a0.7 0.7 0 1 0 -1.4 0M267.89 107.51a0.7 0.7 0 1 0 1.4 0a0.7 0.7 0 1 0 -1.4 0M262.88 102.72a0.7 0.7 0 1 0 1.4 0a0.7 0.7 0 1 0 -1.4 0M264.87 105.93a0.7 0.7 0 1 0 1.4 0a0.7 0.7 0 1 0 -1.4 0M234.24 80.70a0.7 0.7 0 1 0 1.4 0a0.7 0.7 0 1 0 -1.4 0M261.14 99.40a0.7 0.7 0 1 0 1.4 0a0.7 0.7 0 1 0 -1.4 0M264.72 103.75a0.7 0.7 0 1 0 1.4 0a0.7 0.7 0 1 0 -1.4 0M251.92 86.24a0.7 0.7 0 1 0 1.4 0a0.7 0.7 0 1 0 -1.4 0M258.67 95.22a0.7 0.7 0 1 0 1.4 0a0.7 0.7 0 1 0 -1.4 0M254.96 91.82a0.7 0.7 0 1 0 1.4 0a0.7 0.7 0 1 0 -1.4 0M241.53 81.68a0.7 0.7 0 1 0 1.4 0a0.7 0.7 0 1 0 -1.4 0M259.65 99.70a0.7 0.7 0 1 0 1.4 0a0.7 0.7 0 1 0 -1.4 0M222.51 77.91a0.7 0.7 0 1 0 1.4 0a0.7 0.7 0 1 0 -1.4 0M259.25 98.09a0.7 0.7 0 1 0 1.4 0a0.7 0.7 0 1 0 -1.4 0M244.08 82.85a0.7 0.7 0 1 0 1.4 0a0.7 0.7 0 1 0 -1.4 0M246.90 84.45a0.7 0.7 0 1 0 1.4 0a0.7 0.7 0 1 0 -1.4 0M255.44 89.27a0.7 0.7 0 1 0 1.4 0a0.7 0.7 0 1 0 -1.4 0M228.67 77.09a0.7 0.7 0 1 0 1.4 0a0.7 0.7 0 1 0 -1.4 0M221.84 79.99a0.7 0.7 0 1 0 1.4 0a0.7 0.7 0 1 0 -1.4 0M245.79 84.38a0.7 0.7 0 1 0 1.4 0a0.7 0.7 0 1 0 -1.4 0M254.83 92.01a0.7 0.7 0 1 0 1.4 0a0.7 0.7 0 1 0 -1.4 0M256.00 94.64a0.7 0.7 0 1 0 1.4 0a0.7 0.7 0 1 0 -1.4 0M267.37 109.04a0.7 0.7 0 1 0 1.4 0a0.7 0.7 0 1 0 -1.4 0M224.76 78.70a0.7 0.7 0 1 0 1.4 0a0.7 0.7 0 1 0 -1.4 0M233.45 77.25a0.7 0.7 0 1 0 1.4 0a0.7 0.7 0 1 0 -1.4 0M235.90 81.73a0.7 0.7 0 1 0 1.4 0a0.7 0.7 0 1 0 -1.4 0M269.72 113.21a0.7 0.7 0 1 0 1.4 0a0.7 0.7 0 1 0 -1.4 0M236.43 80.25a0.7 0.7 0 1 0 1.4 0a0.7 0.7 0 1 0 -1.4 0M253.22 93.32a0.7 0.7 0 1 0 1.4 0a0.7 0.7 0 1 0 -1.4 0M252.30 84.41a0.7 0.7 0 1 0 1.4 0a0.7 0.7 0 1 0 -1.4 0M242.96 84.82a0.7 0.7 0 1 0 1.4 0a0.7 0.7 0 1 0 -1.4 0M255.56 91.09a0.7 0.7 0 1 0 1.4 0a0.7 0.7 0 1 0 -1.4 0M266.66 108.01a0.7 0.7 0 1 0 1.4 0a0.7 0.7 0 1 0 -1.4 0M239.05 80.91a0.7 0.7 0 1 0 1.4 0a0.7 0.7 0 1 0 -1.4 0M236.58 76.50a0.7 0.7 0 1 0 1.4 0a0.7 0.7 0 1 0 -1.4 0M266.10 104.16a0.7 0.7 0 1 0 1.4 0a0.7 0.7 0 1 0 -1.4 0M239.38 80.63a0.7 0.7 0 1 0 1.4 0a0.7 0.7 0 1 0 -1.4 0M250.96 87.08a0.7 0.7 0 1 0 1.4 0a0.7 0.7 0 1 0 -1.4 0M240.21 79.76a0.7 0.7 0 1 0 1.4 0a0.7 0.7 0 1 0 -1.4 0M244.50 85.12a0.7 0.7 0 1 0 1.4 0a0.7 0.7 0 1 0 -1.4 0M266.33 107.85a0.7 0.7 0 1 0 1.4 0a0.7 0.7 0 1 0 -1.4 0M261.76 101.75a0.7 0.7 0 1 0 1.4 0a0.7 0.7 0 1 0 -1.4 0M241.29 83.05a0.7 0.7 0 1 0 1.4 0a0.7 0.7 0 1 0 -1.4 0M228.24 78.11a0.7 0.7 0 1 0 1.4 0a0.7 0.7 0 1 0 -1.4 0M268.27 114.95a0.7 0.7 0 1 0 1.4 0a0.7 0.7 0 1 0 -1.4 0M227.68 79.45a0.7 0.7 0 1 0 1.4 0a0.7 0.7 0 1 0 -1.4 0M258.42 98.73a0.7 0.7 0 1 0 1.4 0a0.7 0.7 0 1 0 -1.4 0M267.57 106.86a0.7 0.7 0 1 0 1.4 0a0.7 0.7 0 1 0 -1.4 0M243.18 80.61a0.7 0.7 0 1 0 1.4 0a0.7 0.7 0 1 0 -1.4 0M256.17 93.01a0.7 0.7 0 1 0 1.4 0a0.7 0.7 0 1 0 -1.4 0M271.77 115.26a0.7 0.7 0 1 0 1.4 0a0.7 0.7 0 1 0 -1.4 0M266.95 104.16a0.7 0.7 0 1 0 1.4 0a0.7 0.7 0 1 0 -1.4 0M243.16 82.09a0.7 0.7 0 1 0 1.4 0a0.7 0.7 0 1 0 -1.4 0M272.24 117.77a0.7 0.7 0 1 0 1.4 0a0.7 0.7 0 1 0 -1.4 0M147.80 181.73a0.7 0.7 0 1 0 1.4 0a0.7 0.7 0 1 0 -1.4 0M144.60 181.33a0.7 0.7 0 1 0 1.4 0a0.7 0.7 0 1 0 -1.4 0M146.46 181.45a0.7 0.7 0 1 0 1.4 0a0.7 0.7 0 1 0 -1.4 0M150.06 181.42a0.7 0.7 0 1 0 1.4 0a0.7 0.7 0 1 0 -1.4 0M150.43 187.12a0.7 0.7 0 1 0 1.4 0a0.7 0.7 0 1 0 -1.4 0M148.76 182.86a0.7 0.7 0 1 0 1.4 0a0.7 0.7 0 1 0 -1.4 0M146.72 186.47a0.7 0.7 0 1 0 1.4 0a0.7 0.7 0 1 0 -1.4 0M149.06 188.17a0.7 0.7 0 1 0 1.4 0a0.7 0.7 0 1 0 -1.4 0M149.53 178.92a0.7 0.7 0 1 0 1.4 0a0.7 0.7 0 1 0 -1.4 0M149.54 183.45a0.7 0.7 0 1 0 1.4 0a0.7 0.7 0 1 0 -1.4 0M147.13 180.18a0.7 0.7 0 1 0 1.4 0a0.7 0.7 0 1 0 -1.4 0M149.44 180.02a0.7 0.7 0 1 0 1.4 0a0.7 0.7 0 1 0 -1.4 0M147.39 181.16a0.7 0.7 0 1 0 1.4 0a0.7 0.7 0 1 0 -1.4 0M151.28 179.34a0.7 0.7 0 1 0 1.4 0a0.7 0.7 0 1 0 -1.4 0M149.30 179.95a0.7 0.7 0 1 0 1.4 0a0.7 0.7 0 1 0 -1.4 0M151.83 177.05a0.7 0.7 0 1 0 1.4 0a0.7 0.7 0 1 0 -1.4 0M159.81 191.55a0.7 0.7 0 1 0 1.4 0a0.7 0.7 0 1 0 -1.4 0M159.48 189.97a0.7 0.7 0 1 0 1.4 0a0.7 0.7 0 1 0 -1.4 0M155.10 193.14a0.7 0.7 0 1 0 1.4 0a0.7 0.7 0 1 0 -1.4 0M150.10 181.27a0.7 0.7 0 1 0 1.4 0a0.7 0.7 0 1 0 -1.4 0M154.72 186.47a0.7 0.7 0 1 0 1.4 0a0.7 0.7 0 1 0 -1.4 0M151.91 186.42a0.7 0.7 0 1 0 1.4 0a0.7 0.7 0 1 0 -1.4 0M153.18 185.51a0.7 0.7 0 1 0 1.4 0a0.7 0.7 0 1 0 -1.4 0M185.51 177.47a0.7 0.7 0 1 0 1.4 0a0.7 0.7 0 1 0 -1.4 0M188.73 178.61a0.7 0.7 0 1 0 1.4 0a0.7 0.7 0 1 0 -1.4 0M186.32 178.66a0.7 0.7 0 1 0 1.4 0a0.7 0.7 0 1 0 -1.4 0M188.13 178.41a0.7 0.7 0 1 0 1.4 0a0.7 0.7 0 1 0 -1.4 0M187.51 178.34a0.7 0.7 0 1 0 1.4 0a0.7 0.7 0 1 0 -1.4 0M187.94 181.61a0.7 0.7 0 1 0 1.4 0a0.7 0.7 0 1 0 -1.4 0M187.03 179.25a0.7 0.7 0 1 0 1.4 0a0.7 0.7 0 1 0 -1.4 0M143.73 170.56a0.7 0.7 0 1 0 1.4 0a0.7 0.7 0 1 0 -1.4 0M138.61 167.03a0.7 0.7 0 1 0 1.4 0a0.7 0.7 0 1 0 -1.4 0M138.26 166.38a0.7 0.7 0 1 0 1.4 0a0.7 0.7 0 1 0 -1.4 0M139.69 165.61a0.7 0.7 0 1 0 1.4 0a0.7 0.7 0 1 0 -1.4 0M139.65 168.90a0.7 0.7 0 1 0 1.4 0a0.7 0.7 0 1 0 -1.4 0M139.97 169.04a0.7 0.7 0 1 0 1.4 0a0.7 0.7 0 1 0 -1.4 0M140.19 167.92a0.7 0.7 0 1 0 1.4 0a0.7 0.7 0 1 0 -1.4 0M138.19 169.42a0.7 0.7 0 1 0 1.4 0a0.7 0.7 0 1 0 -1.4 0M138.42 167.07a0.7 0.7 0 1 0 1.4 0a0.7 0.7 0 1 0 -1.4 0M138.15 168.65a0.7 0.7 0 1 0 1.4 0a0.7 0.7 0 1 0 -1.4 0M154.09 187.28a0.7 0.7 0 1 0 1.4 0a0.7 0.7 0 1 0 -1.4 0M155.10 188.38a0.7 0.7 0 1 0 1.4 0a0.7 0.7 0 1 0 -1.4 0M152.88 184.27a0.7 0.7 0 1 0 1.4 0a0.7 0.7 0 1 0 -1.4 0M152.84 187.94a0.7 0.7 0 1 0 1.4 0a0.7 0.7 0 1 0 -1.4 0M149.60 186.82a0.7 0.7 0 1 0 1.4 0a0.7 0.7 0 1 0 -1.4 0M149.71 188.58a0.7 0.7 0 1 0 1.4 0a0.7 0.7 0 1 0 -1.4 0M149.06 184.41a0.7 0.7 0 1 0 1.4 0a0.7 0.7 0 1 0 -1.4 0M150.68 184.57a0.7 0.7 0 1 0 1.4 0a0.7 0.7 0 1 0 -1.4 0M170.23 184.27a0.7 0.7 0 1 0 1.4 0a0.7 0.7 0 1 0 -1.4 0M139.34 173.19a0.7 0.7 0 1 0 1.4 0a0.7 0.7 0 1 0 -1.4 0M162.31 184.11a0.7 0.7 0 1 0 1.4 0a0.7 0.7 0 1 0 -1.4 0M175.75 180.49a0.7 0.7 0 1 0 1.4 0a0.7 0.7 0 1 0 -1.4 0M182.46 182.79a0.7 0.7 0 1 0 1.4 0a0.7 0.7 0 1 0 -1.4 0M165.67 185.86a0.7 0.7 0 1 0 1.4 0a0.7 0.7 0 1 0 -1.4 0M162.99 195.43a0.7 0.7 0 1 0 1.4 0a0.7 0.7 0 1 0 -1.4 0M144.20 182.82a0.7 0.7 0 1 0 1.4 0a0.7 0.7 0 1 0 -1.4 0M138.22 175.91a0.7 0.7 0 1 0 1.4 0a0.7 0.7 0 1 0 -1.4 0M152.40 182.83a0.7 0.7 0 1 0 1.4 0a0.7 0.7 0 1 0 -1.4 0M140.44 182.16a0.7 0.7 0 1 0 1.4 0a0.7 0.7 0 1 0 -1.4 0M183.63 177.84a0.7 0.7 0 1 0 1.4 0a0.7 0.7 0 1 0 -1.4 0M71.22 122.78a0.7 0.7 0 1 0 1.4 0a0.7 0.7 0 1 0 -1.4 0M75.09 113.90a0.7 0.7 0 1 0 1.4 0a0.7 0.7 0 1 0 -1.4 0M81.12 115.69a0.7 0.7 0 1 0 1.4 0a0.7 0.7 0 1 0 -1.4 0M76.85 115.76a0.7 0.7 0 1 0 1.4 0a0.7 0.7 0 1 0 -1.4 0M74.97 118.54a0.7 0.7 0 1 0 1.4 0a0.7 0.7 0 1 0 -1.4 0M74.56 117.96a0.7 0.7 0 1 0 1.4 0a0.7 0.7 0 1 0 -1.4 0M77.11 103.31a0.7 0.7 0 1 0 1.4 0a0.7 0.7 0 1 0 -1.4 0M74.37 102.84a0.7 0.7 0 1 0 1.4 0a0.7 0.7 0 1 0 -1.4 0M78.17 104.82a0.7 0.7 0 1 0 1.4 0a0.7 0.7 0 1 0 -1.4 0M75.21 103.38a0.7 0.7 0 1 0 1.4 0a0.7 0.7 0 1 0 -1.4 0M74.23 125.49a0.7 0.7 0 1 0 1.4 0a0.7 0.7 0 1 0 -1.4 0M71.21 129.79a0.7 0.7 0 1 0 1.4 0a0.7 0.7 0 1 0 -1.4 0M71.68 125.43a0.7 0.7 0 1 0 1.4 0a0.7 0.7 0 1 0 -1.4 0M71.94 126.31a0.7 0.7 0 1 0 1.4 0a0.7 0.7 0 1 0 -1.4 0M73.63 128.92a0.7 0.7 0 1 0 1.4 0a0.7 0.7 0 1 0 -1.4 0M70.65 128.38a0.7 0.7 0 1 0 1.4 0a0.7 0.7 0 1 0 -1.4 0M75.02 129.74a0.7 0.7 0 1 0 1.4 0a0.7 0.7 0 1 0 -1.4 0M73.08 126.81a0.7 0.7 0 1 0 1.4 0a0.7 0.7 0 1 0 -1.4 0M78.95 120.36a0.7 0.7 0 1 0 1.4 0a0.7 0.7 0 1 0 -1.4 0M76.17 121.69a0.7 0.7 0 1 0 1.4 0a0.7 0.7 0 1 0 -1.4 0M75.10 125.06a0.7 0.7 0 1 0 1.4 0a0.7 0.7 0 1 0 -1.4 0M73.19 120.96a0.7 0.7 0 1 0 1.4 0a0.7 0.7 0 1 0 -1.4 0M78.57 122.94a0.7 0.7 0 1 0 1.4 0a0.7 0.7 0 1 0 -1.4 0M80.97 122.56a0.7 0.7 0 1 0 1.4 0a0.7 0.7 0 1 0 -1.4 0M70.55 134.92a0.7 0.7 0 1 0 1.4 0a0.7 0.7 0 1 0 -1.4 0M75.17 136.66a0.7 0.7 0 1 0 1.4 0a0.7 0.7 0 1 0 -1.4 0M79.52 126.23a0.7 0.7 0 1 0 1.4 0a0.7 0.7 0 1 0 -1.4 0M78.49 142.32a0.7 0.7 0 1 0 1.4 0a0.7 0.7 0 1 0 -1.4 0M79.57 126.21a0.7 0.7 0 1 0 1.4 0a0.7 0.7 0 1 0 -1.4 0M84.94 144.62a0.7 0.7 0 1 0 1.4 0a0.7 0.7 0 1 0 -1.4 0M72.49 127.46a0.7 0.7 0 1 0 1.4 0a0.7 0.7 0 1 0 -1.4 0M71.68 128.58a0.7 0.7 0 1 0 1.4 0a0.7 0.7 0 1 0 -1.4 0M81.41 137.26a0.7 0.7 0 1 0 1.4 0a0.7 0.7 0 1 0 -1.4 0M69.89 105.15a0.7 0.7 0 1 0 1.4 0a0.7 0.7 0 1 0 -1.4 0M72.92 119.32a0.7 0.7 0 1 0 1.4 0a0.7 0.7 0 1 0 -1.4 0M74.89 134.71a0.7 0.7 0 1 0 1.4 0a0.7 0.7 0 1 0 -1.4 0M75.68 127.30a0.7 0.7 0 1 0 1.4 0a0.7 0.7 0 1 0 -1.4 0M81.74 129.77a0.7 0.7 0 1 0 1.4 0a0.7 0.7 0 1 0 -1.4 0M83.30 124.48a0.7 0.7 0 1 0 1.4 0a0.7 0.7 0 1 0 -1.4 0M77.60 141.68a0.7 0.7 0 1 0 1.4 0a0.7 0.7 0 1 0 -1.4 0" fill="#1414ff" fill-opacity="0.88"/><path d="M193.38 230.77a0.8 0.8 0 1 0 1.6 0a0.8 0.8 0 1 0 -1.6 0M222.92 202.67a0.8 0.8 0 1 0 1.6 0a0.8 0.8 0 1 0 -1.6 0M219.64 207.01a0.8 0.8 0 1 0 1.6 0a0.8 0.8 0 1 0 -1.6 0M202.04 224.30a0.8 0.8 0 1 0 1.6 0a0.8 0.8 0 1 0 -1.6 0M208.15 218.26a0.8 0.8 0 1 0 1.6 0a0.8 0.8 0 1 0 -1.6 0M201.74 224.08a0.8 0.8 0 1 0 1.6 0a0.8 0.8 0 1 0 -1.6 0M208.93 217.46a0.8 0.8 0 1 0 1.6 0a0.8 0.8 0 1 0 -1.6 0M205.43 220.49a0.8 0.8 0 1 0 1.6 0a0.8 0.8 0 1 0 -1.6 0M208.81 215.86a0.8 0.8 0 1 0 1.6 0a0.8 0.8 0 1 0 -1.6 0M210.51 215.43a0.8 0.8 0 1 0 1.6 0a0.8 0.8 0 1 0 -1.6 0M193.86 231.20a0.8 0.8 0 1 0 1.6 0a0.8 0.8 0 1 0 -1.6 0M196.53 228.22a0.8 0.8 0 1 0 1.6 0a0.8 0.8 0 1 0 -1.6 0M189.57 234.07a0.8 0.8 0 1 0 1.6 0a0.8 0.8 0 1 0 -1.6 0M199.57 227.99a0.8 0.8 0 1 0 1.6 0a0.8 0.8 0 1 0 -1.6 0M215.40 211.51a0.8 0.8 0 1 0 1.6 0a0.8 0.8 0 1 0 -1.6 0M218.91 204.82a0.8 0.8 0 1 0 1.6 0a0.8 0.8 0 1 0 -1.6 0M211.25 214.46a0.8 0.8 0 1 0 1.6 0a0.8 0.8 0 1 0 -1.6 0M189.84 232.10a0.8 0.8 0 1 0 1.6 0a0.8 0.8 0 1 0 -1.6 0M182.71 237.81a0.8 0.8 0 1 0 1.6 0a0.8 0.8 0 1 0 -1.6 0M221.07 204.25a0.8 0.8 0 1 0 1.6 0a0.8 0.8 0 1 0 -1.6 0M206.50 221.91a0.8 0.8 0 1 0 1.6 0a0.8 0.8 0 1 0 -1.6 0M214.44 207.37a0.8 0.8 0 1 0 1.6 0a0.8 0.8 0 1 0 -1.6 0M212.42 211.54a0.8 0.8 0 1 0 1.6 0a0.8 0.8 0 1 0 -1.6 0M194.55 230.51a0.8 0.8 0 1 0 1.6 0a0.8 0.8 0 1 0 -1.6 0M211.71 214.55a0.8 0.8 0 1 0 1.6 0a0.8 0.8 0 1 0 -1.6 0M178.92 238.91a0.8 0.8 0 1 0 1.6 0a0.8 0.8 0 1 0 -1.6 0M184.65 236.69a0.8 0.8 0 1 0 1.6 0a0.8 0.8 0 1 0 -1.6 0M179.46 239.49a0.8 0.8 0 1 0 1.6 0a0.8 0.8 0 1 0 -1.6 0M199.31 225.32a0.8 0.8 0 1 0 1.6 0a0.8 0.8 0 1 0 -1.6 0M189.61 234.74a0.8 0.8 0 1 0 1.6 0a0.8 0.8 0 1 0 -1.6 0M223.48 201.87a0.8 0.8 0 1 0 1.6 0a0.8 0.8 0 1 0 -1.6 0M185.66 237.05a0.8 0.8 0 1 0 1.6 0a0.8 0.8 0 1 0 -1.6 0M188.45 234.96a0.8 0.8 0 1 0 1.6 0a0.8 0.8 0 1 0 -1.6 0M186.27 236.59a0.8 0.8 0 1 0 1.6 0a0.8 0.8 0 1 0 -1.6 0M204.13 221.97a0.8 0.8 0 1 0 1.6 0a0.8 0.8 0 1 0 -1.6 0M214.54 211.34a0.8 0.8 0 1 0 1.6 0a0.8 0.8 0 1 0 -1.6 0M209.94 215.35a0.8 0.8 0 1 0 1.6 0a0.8 0.8 0 1 0 -1.6 0M205.03 223.98a0.8 0.8 0 1 0 1.6 0a0.8 0.8 0 1 0 -1.6 0M220.63 202.96a0.8 0.8 0 1 0 1.6 0a0.8 0.8 0 1 0 -1.6 0M185.15 237.05a0.8 0.8 0 1 0 1.6 0a0.8 0.8 0 1 0 -1.6 0M213.85 211.80a0.8 0.8 0 1 0 1.6 0a0.8 0.8 0 1 0 -1.6 0M215.22 213.40a0.8 0.8 0 1 0 1.6 0a0.8 0.8 0 1 0 -1.6 0M183.58 237.12a0.8 0.8 0 1 0 1.6 0a0.8 0.8 0 1 0 -1.6 0M184.63 236.84a0.8 0.8 0 1 0 1.6 0a0.8 0.8 0 1 0 -1.6 0M178.88 239.42a0.8 0.8 0 1 0 1.6 0a0.8 0.8 0 1 0 -1.6 0M180.33 237.12a0.8 0.8 0 1 0 1.6 0a0.8 0.8 0 1 0 -1.6 0M226.65 198.05a0.8 0.8 0 1 0 1.6 0a0.8 0.8 0 1 0 -1.6 0M202.57 223.26a0.8 0.8 0 1 0 1.6 0a0.8 0.8 0 1 0 -1.6 0M189.61 234.49a0.8 0.8 0 1 0 1.6 0a0.8 0.8 0 1 0 -1.6 0M182.79 238.90a0.8 0.8 0 1 0 1.6 0a0.8 0.8 0 1 0 -1.6 0" fill="#ff0000" fill-opacity="0.8"/><path d="M141.60 39.90L144.60 42.90M141.60 42.90L144.60 39.90M147.75 41.60L150.75 44.60M147.75 44.60L150.75 41.60M149.00 44.50L152.00 47.50M149.00 47.50L152.00 44.50M151.25 50.40L154.25 53.40M151.25 53.40L154.25 50.40M155.60 60.90L158.60 63.90M155.60 63.90L158.60 60.90M157.40 77.50L160.40 80.50M157.40 80.50L160.40 77.50M157.40 81.00L160.40 84.00M157.40 84.00L160.40 81.00M154.40 95.00L157.40 98.00M154.40 98.00L157.40 95.00M124.10 45.10L127.10 48.10M124.10 48.10L127.10 45.10M118.00 49.50L121.00 52.50M118.00 52.50L121.00 49.50M111.00 54.40L114.00 57.40M111.00 57.40L114.00 54.40M106.60 63.50L109.60 66.50M106.60 66.50L109.60 63.50M96.10 63.50L99.10 66.50M96.10 66.50L99.10 63.50M90.90 75.75L93.90 78.75M90.90 78.75L93.90 75.75M90.90 83.60L93.90 86.60M90.90 86.60L93.90 83.60M87.40 90.60L90.40 93.60M87.40 93.60L90.40 90.60M85.60 96.75L88.60 99.75M85.60 99.75L88.60 96.75M83.90 108.10L86.90 111.10M83.90 111.10L86.90 108.10M79.50 127.40L82.50 130.40M79.50 130.40L82.50 127.40M82.40 174.50L85.40 177.50M82.40 177.50L85.40 174.50M83.00 180.80L86.00 183.80M83.00 183.80L86.00 180.80M111.70 208.20L114.70 211.20M111.70 211.20L114.70 208.20M125.80 224.20L128.80 227.20M125.80 227.20L128.80 224.20M132.00 224.20L135.00 227.20M132.00 227.20L135.00 224.20M138.20 230.40L141.20 233.40M138.20 233.40L141.20 230.40M209.93 213.35L212.93 216.35M209.93 216.35L212.93 213.35M223.59 198.26L226.59 201.26M223.59 201.26L226.59 198.26M227.54 195.38L230.54 198.38M227.54 198.38L230.54 195.38M189.45 233.11L192.45 236.11M189.45 236.11L192.45 233.11M219.99 201.85L222.99 204.85M219.99 204.85L222.99 201.85" stroke="#ff1010" stroke-width="1.1" fill="none"/><path d="M502.55 95.79a0.75 0.75 0 1 0 1.5 0a0.75 0.75 0 1 0 -1.5 0M498.88 97.91a0.75 0.75 0 1 0 1.5 0a0.75 0.75 0 1 0 -1.5 0M501.52 93.32a0.75 0.75 0 1 0 1.5 0a0.75 0.75 0 1 0 -1.5 0M504.38 97.37a0.75 0.75 0 1 0 1.5 0a0.75 0.75 0 1 0 -1.5 0M501.06 94.30a0.75 0.75 0 1 0 1.5 0a0.75 0.75 0 1 0 -1.5 0M504.73 94.86a0.75 0.75 0 1 0 1.5 0a0.75 0.75 0 1 0 -1.5 0M437.57 79.96a0.75 0.75 0 1 0 1.5 0a0.75 0.75 0 1 0 -1.5 0M439.62 81.90a0.75 0.75 0 1 0 1.5 0a0.75 0.75 0 1 0 -1.5 0M431.45 177.55a0.75 0.75 0 1 0 1.5 0a0.75 0.75 0 1 0 -1.5 0M437.40 180.06a0.75 0.75 0 1 0 1.5 0a0.75 0.75 0 1 0 -1.5 0M434.26 177.41a0.75 0.75 0 1 0 1.5 0a0.75 0.75 0 1 0 -1.5 0M462.78 111.68a0.75 0.75 0 1 0 1.5 0a0.75 0.75 0 1 0 -1.5 0M461.32 113.87a0.75 0.75 0 1 0 1.5 0a0.75 0.75 0 1 0 -1.5 0M462.10 106.68a0.75 0.75 0 1 0 1.5 0a0.75 0.75 0 1 0 -1.5 0M483.62 98.66a0.75 0.75 0 1 0 1.5 0a0.75 0.75 0 1 0 -1.5 0M482.36 98.82a0.75 0.75 0 1 0 1.5 0a0.75 0.75 0 1 0 -1.5 0M494.76 94.25a0.75 0.75 0 1 0 1.5 0a0.75 0.75 0 1 0 -1.5 0M495.88 96.48a0.75 0.75 0 1 0 1.5 0a0.75 0.75 0 1 0 -1.5 0M492.29 94.79a0.75 0.75 0 1 0 1.5 0a0.75 0.75 0 1 0 -1.5 0M490.95 95.68a0.75 0.75 0 1 0 1.5 0a0.75 0.75 0 1 0 -1.5 0M496.47 100.78a0.75 0.75 0 1 0 1.5 0a0.75 0.75 0 1 0 -1.5 0M495.27 97.75a0.75 0.75 0 1 0 1.5 0a0.75 0.75 0 1 0 -1.5 0M497.88 97.05a0.75 0.75 0 1 0 1.5 0a0.75 0.75 0 1 0 -1.5 0M463.60 62.73a0.75 0.75 0 1 0 1.5 0a0.75 0.75 0 1 0 -1.5 0M460.97 58.36a0.75 0.75 0 1 0 1.5 0a0.75 0.75 0 1 0 -1.5 0M495.47 122.90a0.75 0.75 0 1 0 1.5 0a0.75 0.75 0 1 0 -1.5 0M499.48 122.54a0.75 0.75 0 1 0 1.5 0a0.75 0.75 0 1 0 -1.5 0M494.80 123.43a0.75 0.75 0 1 0 1.5 0a0.75 0.75 0 1 0 -1.5 0M497.09 119.76a0.75 0.75 0 1 0 1.5 0a0.75 0.75 0 1 0 -1.5 0M497.09 121.93a0.75 0.75 0 1 0 1.5 0a0.75 0.75 0 1 0 -1.5 0M498.83 121.52a0.75 0.75 0 1 0 1.5 0a0.75 0.75 0 1 0 -1.5 0M497.70 123.90a0.75 0.75 0 1 0 1.5 0a0.75 0.75 0 1 0 -1.5 0M463.56 151.17a0.75 0.75 0 1 0 1.5 0a0.75 0.75 0 1 0 -1.5 0M468.05 155.80a0.75 0.75 0 1 0 1.5 0a0.75 0.75 0 1 0 -1.5 0M469.40 152.47a0.75 0.75 0 1 0 1.5 0a0.75 0.75 0 1 0 -1.5 0M462.99 150.29a0.75 0.75 0 1 0 1.5 0a0.75 0.75 0 1 0 -1.5 0M464.35 150.21a0.75 0.75 0 1 0 1.5 0a0.75 0.75 0 1 0 -1.5 0M473.99 46.79a0.75 0.75 0 1 0 1.5 0a0.75 0.75 0 1 0 -1.5 0M469.25 45.76a0.75 0.75 0 1 0 1.5 0a0.75 0.75 0 1 0 -1.5 0M459.19 151.75a0.75 0.75 0 1 0 1.5 0a0.75 0.75 0 1 0 -1.5 0M465.91 149.86a0.75 0.75 0 1 0 1.5 0a0.75 0.75 0 1 0 -1.5 0M464.55 149.48a0.75 0.75 0 1 0 1.5 0a0.75 0.75 0 1 0 -1.5 0M468.03 153.10a0.75 0.75 0 1 0 1.5 0a0.75 0.75 0 1 0 -1.5 0M462.98 152.07a0.75 0.75 0 1 0 1.5 0a0.75 0.75 0 1 0 -1.5 0M423.69 152.06a0.75 0.75 0 1 0 1.5 0a0.75 0.75 0 1 0 -1.5 0M426.90 152.65a0.75 0.75 0 1 0 1.5 0a0.75 0.75 0 1 0 -1.5 0M426.11 155.57a0.75 0.75 0 1 0 1.5 0a0.75 0.75 0 1 0 -1.5 0M427.07 153.84a0.75 0.75 0 1 0 1.5 0a0.75 0.75 0 1 0 -1.5 0M429.29 152.40a0.75 0.75 0 1 0 1.5 0a0.75 0.75 0 1 0 -1.5 0M459.77 157.00a0.75 0.75 0 1 0 1.5 0a0.75 0.75 0 1 0 -1.5 0M459.43 156.51a0.75 0.75 0 1 0 1.5 0a0.75 0.75 0 1 0 -1.5 0M461.32 159.04a0.75 0.75 0 1 0 1.5 0a0.75 0.75 0 1 0 -1.5 0M457.15 153.05a0.75 0.75 0 1 0 1.5 0a0.75 0.75 0 1 0 -1.5 0M453.13 158.19a0.75 0.75 0 1 0 1.5 0a0.75 0.75 0 1 0 -1.5 0M456.69 157.90a0.75 0.75 0 1 0 1.5 0a0.75 0.75 0 1 0 -1.5 0M456.92 161.35a0.75 0.75 0 1 0 1.5 0a0.75 0.75 0 1 0 -1.5 0M457.15 158.35a0.75 0.75 0 1 0 1.5 0a0.75 0.75 0 1 0 -1.5 0M456.38 156.87a0.75 0.75 0 1 0 1.5 0a0.75 0.75 0 1 0 -1.5 0M458.83 158.28a0.75 0.75 0 1 0 1.5 0a0.75 0.75 0 1 0 -1.5 0M457.19 159.86a0.75 0.75 0 1 0 1.5 0a0.75 0.75 0 1 0 -1.5 0M458.14 160.94a0.75 0.75 0 1 0 1.5 0a0.75 0.75 0 1 0 -1.5 0M452.17 91.94a0.75 0.75 0 1 0 1.5 0a0.75 0.75 0 1 0 -1.5 0M445.46 89.05a0.75 0.75 0 1 0 1.5 0a0.75 0.75 0 1 0 -1.5 0M449.28 92.93a0.75 0.75 0 1 0 1.5 0a0.75 0.75 0 1 0 -1.5 0M455.95 95.53a0.75 0.75 0 1 0 1.5 0a0.75 0.75 0 1 0 -1.5 0M425.96 167.90a0.75 0.75 0 1 0 1.5 0a0.75 0.75 0 1 0 -1.5 0M424.67 160.39a0.75 0.75 0 1 0 1.5 0a0.75 0.75 0 1 0 -1.5 0M426.37 163.18a0.75 0.75 0 1 0 1.5 0a0.75 0.75 0 1 0 -1.5 0M441.02 126.86a0.75 0.75 0 1 0 1.5 0a0.75 0.75 0 1 0 -1.5 0M437.06 126.04a0.75 0.75 0 1 0 1.5 0a0.75 0.75 0 1 0 -1.5 0M432.20 130.22a0.75 0.75 0 1 0 1.5 0a0.75 0.75 0 1 0 -1.5 0M436.42 131.19a0.75 0.75 0 1 0 1.5 0a0.75 0.75 0 1 0 -1.5 0M452.44 151.96a0.75 0.75 0 1 0 1.5 0a0.75 0.75 0 1 0 -1.5 0M449.79 151.82a0.75 0.75 0 1 0 1.5 0a0.75 0.75 0 1 0 -1.5 0M448.85 150.06a0.75 0.75 0 1 0 1.5 0a0.75 0.75 0 1 0 -1.5 0M452.99 148.58a0.75 0.75 0 1 0 1.5 0a0.75 0.75 0 1 0 -1.5 0M444.57 151.20a0.75 0.75 0 1 0 1.5 0a0.75 0.75 0 1 0 -1.5 0M446.46 152.69a0.75 0.75 0 1 0 1.5 0a0.75 0.75 0 1 0 -1.5 0M457.87 165.92a0.75 0.75 0 1 0 1.5 0a0.75 0.75 0 1 0 -1.5 0M460.37 169.00a0.75 0.75 0 1 0 1.5 0a0.75 0.75 0 1 0 -1.5 0M460.61 168.18a0.75 0.75 0 1 0 1.5 0a0.75 0.75 0 1 0 -1.5 0M459.26 170.33a0.75 0.75 0 1 0 1.5 0a0.75 0.75 0 1 0 -1.5 0M464.45 164.87a0.75 0.75 0 1 0 1.5 0a0.75 0.75 0 1 0 -1.5 0M460.20 166.02a0.75 0.75 0 1 0 1.5 0a0.75 0.75 0 1 0 -1.5 0M484.55 125.44a0.75 0.75 0 1 0 1.5 0a0.75 0.75 0 1 0 -1.5 0M485.75 122.27a0.75 0.75 0 1 0 1.5 0a0.75 0.75 0 1 0 -1.5 0M483.07 119.89a0.75 0.75 0 1 0 1.5 0a0.75 0.75 0 1 0 -1.5 0M485.99 123.37a0.75 0.75 0 1 0 1.5 0a0.75 0.75 0 1 0 -1.5 0M482.01 90.54a0.75 0.75 0 1 0 1.5 0a0.75 0.75 0 1 0 -1.5 0M481.24 93.63a0.75 0.75 0 1 0 1.5 0a0.75 0.75 0 1 0 -1.5 0M487.54 91.81a0.75 0.75 0 1 0 1.5 0a0.75 0.75 0 1 0 -1.5 0M445.04 71.14a0.75 0.75 0 1 0 1.5 0a0.75 0.75 0 1 0 -1.5 0M444.87 71.33a0.75 0.75 0 1 0 1.5 0a0.75 0.75 0 1 0 -1.5 0M440.60 73.65a0.75 0.75 0 1 0 1.5 0a0.75 0.75 0 1 0 -1.5 0M455.38 46.23a0.75 0.75 0 1 0 1.5 0a0.75 0.75 0 1 0 -1.5 0M453.93 47.75a0.75 0.75 0 1 0 1.5 0a0.75 0.75 0 1 0 -1.5 0M455.04 45.62a0.75 0.75 0 1 0 1.5 0a0.75 0.75 0 1 0 -1.5 0M459.73 125.67a0.75 0.75 0 1 0 1.5 0a0.75 0.75 0 1 0 -1.5 0M455.06 126.92a0.75 0.75 0 1 0 1.5 0a0.75 0.75 0 1 0 -1.5 0M456.32 121.42a0.75 0.75 0 1 0 1.5 0a0.75 0.75 0 1 0 -1.5 0M459.75 127.62a0.75 0.75 0 1 0 1.5 0a0.75 0.75 0 1 0 -1.5 0M457.44 125.32a0.75 0.75 0 1 0 1.5 0a0.75 0.75 0 1 0 -1.5 0M488.22 39.30a0.75 0.75 0 1 0 1.5 0a0.75 0.75 0 1 0 -1.5 0M483.20 41.07a0.75 0.75 0 1 0 1.5 0a0.75 0.75 0 1 0 -1.5 0M483.77 45.49a0.75 0.75 0 1 0 1.5 0a0.75 0.75 0 1 0 -1.5 0M464.98 72.83a0.75 0.75 0 1 0 1.5 0a0.75 0.75 0 1 0 -1.5 0M462.42 76.23a0.75 0.75 0 1 0 1.5 0a0.75 0.75 0 1 0 -1.5 0M463.08 76.57a0.75 0.75 0 1 0 1.5 0a0.75 0.75 0 1 0 -1.5 0M464.41 79.08a0.75 0.75 0 1 0 1.5 0a0.75 0.75 0 1 0 -1.5 0M473.95 47.01a0.75 0.75 0 1 0 1.5 0a0.75 0.75 0 1 0 -1.5 0M472.43 49.94a0.75 0.75 0 1 0 1.5 0a0.75 0.75 0 1 0 -1.5 0M471.42 47.01a0.75 0.75 0 1 0 1.5 0a0.75 0.75 0 1 0 -1.5 0M474.13 49.29a0.75 0.75 0 1 0 1.5 0a0.75 0.75 0 1 0 -1.5 0M434.84 122.23a0.75 0.75 0 1 0 1.5 0a0.75 0.75 0 1 0 -1.5 0M436.80 126.89a0.75 0.75 0 1 0 1.5 0a0.75 0.75 0 1 0 -1.5 0M432.59 126.07a0.75 0.75 0 1 0 1.5 0a0.75 0.75 0 1 0 -1.5 0M481.24 142.47a0.75 0.75 0 1 0 1.5 0a0.75 0.75 0 1 0 -1.5 0M485.15 142.62a0.75 0.75 0 1 0 1.5 0a0.75 0.75 0 1 0 -1.5 0M483.03 142.65a0.75 0.75 0 1 0 1.5 0a0.75 0.75 0 1 0 -1.5 0M485.99 142.32a0.75 0.75 0 1 0 1.5 0a0.75 0.75 0 1 0 -1.5 0M423.54 177.11a0.75 0.75 0 1 0 1.5 0a0.75 0.75 0 1 0 -1.5 0M423.16 177.23a0.75 0.75 0 1 0 1.5 0a0.75 0.75 0 1 0 -1.5 0M424.14 177.95a0.75 0.75 0 1 0 1.5 0a0.75 0.75 0 1 0 -1.5 0M422.10 179.50a0.75 0.75 0 1 0 1.5 0a0.75 0.75 0 1 0 -1.5 0M428.00 175.94a0.75 0.75 0 1 0 1.5 0a0.75 0.75 0 1 0 -1.5 0M481.55 117.29a0.75 0.75 0 1 0 1.5 0a0.75 0.75 0 1 0 -1.5 0M479.53 117.03a0.75 0.75 0 1 0 1.5 0a0.75 0.75 0 1 0 -1.5 0M480.89 122.61a0.75 0.75 0 1 0 1.5 0a0.75 0.75 0 1 0 -1.5 0M480.75 126.45a0.75 0.75 0 1 0 1.5 0a0.75 0.75 0 1 0 -1.5 0M479.21 124.37a0.75 0.75 0 1 0 1.5 0a0.75 0.75 0 1 0 -1.5 0M480.71 124.17a0.75 0.75 0 1 0 1.5 0a0.75 0.75 0 1 0 -1.5 0M463.54 49.85a0.75 0.75 0 1 0 1.5 0a0.75 0.75 0 1 0 -1.5 0M460.50 49.13a0.75 0.75 0 1 0 1.5 0a0.75 0.75 0 1 0 -1.5 0M445.86 110.77a0.75 0.75 0 1 0 1.5 0a0.75 0.75 0 1 0 -1.5 0M448.68 112.83a0.75 0.75 0 1 0 1.5 0a0.75 0.75 0 1 0 -1.5 0M450.96 111.89a0.75 0.75 0 1 0 1.5 0a0.75 0.75 0 1 0 -1.5 0M449.14 109.32a0.75 0.75 0 1 0 1.5 0a0.75 0.75 0 1 0 -1.5 0M450.93 169.76a0.75 0.75 0 1 0 1.5 0a0.75 0.75 0 1 0 -1.5 0M449.18 174.90a0.75 0.75 0 1 0 1.5 0a0.75 0.75 0 1 0 -1.5 0M449.79 174.39a0.75 0.75 0 1 0 1.5 0a0.75 0.75 0 1 0 -1.5 0M443.55 171.02a0.75 0.75 0 1 0 1.5 0a0.75 0.75 0 1 0 -1.5 0M448.06 171.21a0.75 0.75 0 1 0 1.5 0a0.75 0.75 0 1 0 -1.5 0M443.82 175.18a0.75 0.75 0 1 0 1.5 0a0.75 0.75 0 1 0 -1.5 0M465.51 74.14a0.75 0.75 0 1 0 1.5 0a0.75 0.75 0 1 0 -1.5 0M469.10 72.65a0.75 0.75 0 1 0 1.5 0a0.75 0.75 0 1 0 -1.5 0M465.53 74.89a0.75 0.75 0 1 0 1.5 0a0.75 0.75 0 1 0 -1.5 0M467.22 76.61a0.75 0.75 0 1 0 1.5 0a0.75 0.75 0 1 0 -1.5 0M467.97 75.79a0.75 0.75 0 1 0 1.5 0a0.75 0.75 0 1 0 -1.5 0M462.57 70.59a0.75 0.75 0 1 0 1.5 0a0.75 0.75 0 1 0 -1.5 0M492.33 91.07a0.75 0.75 0 1 0 1.5 0a0.75 0.75 0 1 0 -1.5 0M495.87 85.08a0.75 0.75 0 1 0 1.5 0a0.75 0.75 0 1 0 -1.5 0M491.61 87.52a0.75 0.75 0 1 0 1.5 0a0.75 0.75 0 1 0 -1.5 0M495.77 90.59a0.75 0.75 0 1 0 1.5 0a0.75 0.75 0 1 0 -1.5 0M452.88 147.76a0.75 0.75 0 1 0 1.5 0a0.75 0.75 0 1 0 -1.5 0M448.90 148.70a0.75 0.75 0 1 0 1.5 0a0.75 0.75 0 1 0 -1.5 0M452.54 145.26a0.75 0.75 0 1 0 1.5 0a0.75 0.75 0 1 0 -1.5 0M489.27 68.63a0.75 0.75 0 1 0 1.5 0a0.75 0.75 0 1 0 -1.5 0M495.29 70.17a0.75 0.75 0 1 0 1.5 0a0.75 0.75 0 1 0 -1.5 0M490.83 65.78a0.75 0.75 0 1 0 1.5 0a0.75 0.75 0 1 0 -1.5 0M493.58 64.45a0.75 0.75 0 1 0 1.5 0a0.75 0.75 0 1 0 -1.5 0M489.24 71.41a0.75 0.75 0 1 0 1.5 0a0.75 0.75 0 1 0 -1.5 0M492.43 68.70a0.75 0.75 0 1 0 1.5 0a0.75 0.75 0 1 0 -1.5 0M429.81 146.40a0.75 0.75 0 1 0 1.5 0a0.75 0.75 0 1 0 -1.5 0M429.02 150.04a0.75 0.75 0 1 0 1.5 0a0.75 0.75 0 1 0 -1.5 0M430.88 146.55a0.75 0.75 0 1 0 1.5 0a0.75 0.75 0 1 0 -1.5 0M456.92 106.02a0.75 0.75 0 1 0 1.5 0a0.75 0.75 0 1 0 -1.5 0M456.22 105.34a0.75 0.75 0 1 0 1.5 0a0.75 0.75 0 1 0 -1.5 0M461.13 108.45a0.75 0.75 0 1 0 1.5 0a0.75 0.75 0 1 0 -1.5 0M455.62 113.69a0.75 0.75 0 1 0 1.5 0a0.75 0.75 0 1 0 -1.5 0M454.85 109.97a0.75 0.75 0 1 0 1.5 0a0.75 0.75 0 1 0 -1.5 0M455.61 111.00a0.75 0.75 0 1 0 1.5 0a0.75 0.75 0 1 0 -1.5 0M454.16 113.68a0.75 0.75 0 1 0 1.5 0a0.75 0.75 0 1 0 -1.5 0M457.86 110.07a0.75 0.75 0 1 0 1.5 0a0.75 0.75 0 1 0 -1.5 0M458.04 109.52a0.75 0.75 0 1 0 1.5 0a0.75 0.75 0 1 0 -1.5 0M454.10 109.52a0.75 0.75 0 1 0 1.5 0a0.75 0.75 0 1 0 -1.5 0M489.90 132.81a0.75 0.75 0 1 0 1.5 0a0.75 0.75 0 1 0 -1.5 0M489.62 132.80a0.75 0.75 0 1 0 1.5 0a0.75 0.75 0 1 0 -1.5 0M426.28 166.44a0.75 0.75 0 1 0 1.5 0a0.75 0.75 0 1 0 -1.5 0M439.12 168.97a0.75 0.75 0 1 0 1.5 0a0.75 0.75 0 1 0 -1.5 0M428.74 168.53a0.75 0.75 0 1 0 1.5 0a0.75 0.75 0 1 0 -1.5 0M478.61 129.98a0.75 0.75 0 1 0 1.5 0a0.75 0.75 0 1 0 -1.5 0M470.59 129.92a0.75 0.75 0 1 0 1.5 0a0.75 0.75 0 1 0 -1.5 0M473.80 135.63a0.75 0.75 0 1 0 1.5 0a0.75 0.75 0 1 0 -1.5 0M472.77 129.46a0.75 0.75 0 1 0 1.5 0a0.75 0.75 0 1 0 -1.5 0M475.13 128.22a0.75 0.75 0 1 0 1.5 0a0.75 0.75 0 1 0 -1.5 0M498.43 103.73a0.75 0.75 0 1 0 1.5 0a0.75 0.75 0 1 0 -1.5 0M499.89 102.52a0.75 0.75 0 1 0 1.5 0a0.75 0.75 0 1 0 -1.5 0M500.42 99.63a0.75 0.75 0 1 0 1.5 0a0.75 0.75 0 1 0 -1.5 0M500.90 100.55a0.75 0.75 0 1 0 1.5 0a0.75 0.75 0 1 0 -1.5 0M498.01 100.45a0.75 0.75 0 1 0 1.5 0a0.75 0.75 0 1 0 -1.5 0M499.82 99.92a0.75 0.75 0 1 0 1.5 0a0.75 0.75 0 1 0 -1.5 0M499.64 100.57a0.75 0.75 0 1 0 1.5 0a0.75 0.75 0 1 0 -1.5 0M435.57 138.17a0.75 0.75 0 1 0 1.5 0a0.75 0.75 0 1 0 -1.5 0M439.87 135.91a0.75 0.75 0 1 0 1.5 0a0.75 0.75 0 1 0 -1.5 0M439.19 139.38a0.75 0.75 0 1 0 1.5 0a0.75 0.75 0 1 0 -1.5 0M442.71 102.85a0.75 0.75 0 1 0 1.5 0a0.75 0.75 0 1 0 -1.5 0M443.32 103.55a0.75 0.75 0 1 0 1.5 0a0.75 0.75 0 1 0 -1.5 0M442.19 99.25a0.75 0.75 0 1 0 1.5 0a0.75 0.75 0 1 0 -1.5 0M500.61 72.33a0.75 0.75 0 1 0 1.5 0a0.75 0.75 0 1 0 -1.5 0M497.58 76.58a0.75 0.75 0 1 0 1.5 0a0.75 0.75 0 1 0 -1.5 0M458.01 52.57a0.75 0.75 0 1 0 1.5 0a0.75 0.75 0 1 0 -1.5 0M461.08 49.16a0.75 0.75 0 1 0 1.5 0a0.75 0.75 0 1 0 -1.5 0M460.00 49.26a0.75 0.75 0 1 0 1.5 0a0.75 0.75 0 1 0 -1.5 0M454.72 50.24a0.75 0.75 0 1 0 1.5 0a0.75 0.75 0 1 0 -1.5 0M459.02 51.61a0.75 0.75 0 1 0 1.5 0a0.75 0.75 0 1 0 -1.5 0M473.13 104.59a0.75 0.75 0 1 0 1.5 0a0.75 0.75 0 1 0 -1.5 0M475.58 102.49a0.75 0.75 0 1 0 1.5 0a0.75 0.75 0 1 0 -1.5 0M476.74 100.01a0.75 0.75 0 1 0 1.5 0a0.75 0.75 0 1 0 -1.5 0M479.13 105.86a0.75 0.75 0 1 0 1.5 0a0.75 0.75 0 1 0 -1.5 0M465.60 97.50a0.75 0.75 0 1 0 1.5 0a0.75 0.75 0 1 0 -1.5 0M461.45 93.10a0.75 0.75 0 1 0 1.5 0a0.75 0.75 0 1 0 -1.5 0M463.98 92.17a0.75 0.75 0 1 0 1.5 0a0.75 0.75 0 1 0 -1.5 0M464.05 93.36a0.75 0.75 0 1 0 1.5 0a0.75 0.75 0 1 0 -1.5 0M462.43 90.95a0.75 0.75 0 1 0 1.5 0a0.75 0.75 0 1 0 -1.5 0M488.14 150.07a0.75 0.75 0 1 0 1.5 0a0.75 0.75 0 1 0 -1.5 0M487.70 152.19a0.75 0.75 0 1 0 1.5 0a0.75 0.75 0 1 0 -1.5 0M482.68 150.67a0.75 0.75 0 1 0 1.5 0a0.75 0.75 0 1 0 -1.5 0M485.75 145.69a0.75 0.75 0 1 0 1.5 0a0.75 0.75 0 1 0 -1.5 0M484.28 150.77a0.75 0.75 0 1 0 1.5 0a0.75 0.75 0 1 0 -1.5 0M484.31 150.17a0.75 0.75 0 1 0 1.5 0a0.75 0.75 0 1 0 -1.5 0M482.11 150.67a0.75 0.75 0 1 0 1.5 0a0.75 0.75 0 1 0 -1.5 0M484.93 150.77a0.75 0.75 0 1 0 1.5 0a0.75 0.75 0 1 0 -1.5 0M439.55 172.40a0.75 0.75 0 1 0 1.5 0a0.75 0.75 0 1 0 -1.5 0M435.94 173.48a0.75 0.75 0 1 0 1.5 0a0.75 0.75 0 1 0 -1.5 0M433.12 172.33a0.75 0.75 0 1 0 1.5 0a0.75 0.75 0 1 0 -1.5 0M435.38 177.11a0.75 0.75 0 1 0 1.5 0a0.75 0.75 0 1 0 -1.5 0M483.85 57.73a0.75 0.75 0 1 0 1.5 0a0.75 0.75 0 1 0 -1.5 0M479.47 62.69a0.75 0.75 0 1 0 1.5 0a0.75 0.75 0 1 0 -1.5 0M482.56 60.28a0.75 0.75 0 1 0 1.5 0a0.75 0.75 0 1 0 -1.5 0M485.03 115.98a0.75 0.75 0 1 0 1.5 0a0.75 0.75 0 1 0 -1.5 0M488.70 109.39a0.75 0.75 0 1 0 1.5 0a0.75 0.75 0 1 0 -1.5 0M492.36 112.94a0.75 0.75 0 1 0 1.5 0a0.75 0.75 0 1 0 -1.5 0M488.47 105.73a0.75 0.75 0 1 0 1.5 0a0.75 0.75 0 1 0 -1.5 0M491.02 112.13a0.75 0.75 0 1 0 1.5 0a0.75 0.75 0 1 0 -1.5 0M470.51 113.72a0.75 0.75 0 1 0 1.5 0a0.75 0.75 0 1 0 -1.5 0M466.65 106.82a0.75 0.75 0 1 0 1.5 0a0.75 0.75 0 1 0 -1.5 0M476.52 119.60a0.75 0.75 0 1 0 1.5 0a0.75 0.75 0 1 0 -1.5 0M468.38 120.28a0.75 0.75 0 1 0 1.5 0a0.75 0.75 0 1 0 -1.5 0M470.98 122.23a0.75 0.75 0 1 0 1.5 0a0.75 0.75 0 1 0 -1.5 0M472.82 122.09a0.75 0.75 0 1 0 1.5 0a0.75 0.75 0 1 0 -1.5 0M476.00 125.37a0.75 0.75 0 1 0 1.5 0a0.75 0.75 0 1 0 -1.5 0M471.48 38.62a0.75 0.75 0 1 0 1.5 0a0.75 0.75 0 1 0 -1.5 0M472.73 44.56a0.75 0.75 0 1 0 1.5 0a0.75 0.75 0 1 0 -1.5 0M472.24 43.16a0.75 0.75 0 1 0 1.5 0a0.75 0.75 0 1 0 -1.5 0M473.45 39.68a0.75 0.75 0 1 0 1.5 0a0.75 0.75 0 1 0 -1.5 0M486.84 100.36a0.75 0.75 0 1 0 1.5 0a0.75 0.75 0 1 0 -1.5 0M482.67 99.68a0.75 0.75 0 1 0 1.5 0a0.75 0.75 0 1 0 -1.5 0M485.41 98.43a0.75 0.75 0 1 0 1.5 0a0.75 0.75 0 1 0 -1.5 0M493.18 117.80a0.75 0.75 0 1 0 1.5 0a0.75 0.75 0 1 0 -1.5 0M492.07 119.37a0.75 0.75 0 1 0 1.5 0a0.75 0.75 0 1 0 -1.5 0M489.88 118.00a0.75 0.75 0 1 0 1.5 0a0.75 0.75 0 1 0 -1.5 0M449.55 158.35a0.75 0.75 0 1 0 1.5 0a0.75 0.75 0 1 0 -1.5 0M454.01 160.03a0.75 0.75 0 1 0 1.5 0a0.75 0.75 0 1 0 -1.5 0M452.01 60.76a0.75 0.75 0 1 0 1.5 0a0.75 0.75 0 1 0 -1.5 0M449.43 58.16a0.75 0.75 0 1 0 1.5 0a0.75 0.75 0 1 0 -1.5 0M488.35 78.42a0.75 0.75 0 1 0 1.5 0a0.75 0.75 0 1 0 -1.5 0M493.03 76.32a0.75 0.75 0 1 0 1.5 0a0.75 0.75 0 1 0 -1.5 0M495.24 78.14a0.75 0.75 0 1 0 1.5 0a0.75 0.75 0 1 0 -1.5 0M485.58 52.45a0.75 0.75 0 1 0 1.5 0a0.75 0.75 0 1 0 -1.5 0M485.51 53.50a0.75 0.75 0 1 0 1.5 0a0.75 0.75 0 1 0 -1.5 0M478.31 54.99a0.75 0.75 0 1 0 1.5 0a0.75 0.75 0 1 0 -1.5 0M452.09 161.26a0.75 0.75 0 1 0 1.5 0a0.75 0.75 0 1 0 -1.5 0M454.06 159.99a0.75 0.75 0 1 0 1.5 0a0.75 0.75 0 1 0 -1.5 0M453.20 159.14a0.75 0.75 0 1 0 1.5 0a0.75 0.75 0 1 0 -1.5 0M438.62 130.10a0.75 0.75 0 1 0 1.5 0a0.75 0.75 0 1 0 -1.5 0M442.10 131.70a0.75 0.75 0 1 0 1.5 0a0.75 0.75 0 1 0 -1.5 0M443.23 134.52a0.75 0.75 0 1 0 1.5 0a0.75 0.75 0 1 0 -1.5 0M447.28 133.90a0.75 0.75 0 1 0 1.5 0a0.75 0.75 0 1 0 -1.5 0M444.95 134.93a0.75 0.75 0 1 0 1.5 0a0.75 0.75 0 1 0 -1.5 0M442.78 130.51a0.75 0.75 0 1 0 1.5 0a0.75 0.75 0 1 0 -1.5 0M445.20 128.51a0.75 0.75 0 1 0 1.5 0a0.75 0.75 0 1 0 -1.5 0M448.31 132.20a0.75 0.75 0 1 0 1.5 0a0.75 0.75 0 1 0 -1.5 0M496.06 100.37a0.75 0.75 0 1 0 1.5 0a0.75 0.75 0 1 0 -1.5 0M499.92 100.12a0.75 0.75 0 1 0 1.5 0a0.75 0.75 0 1 0 -1.5 0M499.39 100.08a0.75 0.75 0 1 0 1.5 0a0.75 0.75 0 1 0 -1.5 0M492.89 101.77a0.75 0.75 0 1 0 1.5 0a0.75 0.75 0 1 0 -1.5 0M467.35 80.36a0.75 0.75 0 1 0 1.5 0a0.75 0.75 0 1 0 -1.5 0M470.05 77.37a0.75 0.75 0 1 0 1.5 0a0.75 0.75 0 1 0 -1.5 0M468.85 78.98a0.75 0.75 0 1 0 1.5 0a0.75 0.75 0 1 0 -1.5 0M433.08 135.42a0.75 0.75 0 1 0 1.5 0a0.75 0.75 0 1 0 -1.5 0M429.31 139.07a0.75 0.75 0 1 0 1.5 0a0.75 0.75 0 1 0 -1.5 0M429.26 134.88a0.75 0.75 0 1 0 1.5 0a0.75 0.75 0 1 0 -1.5 0M453.21 151.18a0.75 0.75 0 1 0 1.5 0a0.75 0.75 0 1 0 -1.5 0M489.24 80.55a0.75 0.75 0 1 0 1.5 0a0.75 0.75 0 1 0 -1.5 0M486.97 81.73a0.75 0.75 0 1 0 1.5 0a0.75 0.75 0 1 0 -1.5 0M490.13 80.80a0.75 0.75 0 1 0 1.5 0a0.75 0.75 0 1 0 -1.5 0M485.64 81.12a0.75 0.75 0 1 0 1.5 0a0.75 0.75 0 1 0 -1.5 0M489.48 80.19a0.75 0.75 0 1 0 1.5 0a0.75 0.75 0 1 0 -1.5 0M495.83 69.69a0.75 0.75 0 1 0 1.5 0a0.75 0.75 0 1 0 -1.5 0M495.88 63.57a0.75 0.75 0 1 0 1.5 0a0.75 0.75 0 1 0 -1.5 0M497.54 65.53a0.75 0.75 0 1 0 1.5 0a0.75 0.75 0 1 0 -1.5 0M497.68 64.39a0.75 0.75 0 1 0 1.5 0a0.75 0.75 0 1 0 -1.5 0M480.20 83.91a0.75 0.75 0 1 0 1.5 0a0.75 0.75 0 1 0 -1.5 0M477.70 81.02a0.75 0.75 0 1 0 1.5 0a0.75 0.75 0 1 0 -1.5 0M478.08 80.65a0.75 0.75 0 1 0 1.5 0a0.75 0.75 0 1 0 -1.5 0M480.09 83.01a0.75 0.75 0 1 0 1.5 0a0.75 0.75 0 1 0 -1.5 0M458.63 147.87a0.75 0.75 0 1 0 1.5 0a0.75 0.75 0 1 0 -1.5 0M458.85 148.20a0.75 0.75 0 1 0 1.5 0a0.75 0.75 0 1 0 -1.5 0M468.67 145.73a0.75 0.75 0 1 0 1.5 0a0.75 0.75 0 1 0 -1.5 0M458.28 148.58a0.75 0.75 0 1 0 1.5 0a0.75 0.75 0 1 0 -1.5 0M460.58 147.68a0.75 0.75 0 1 0 1.5 0a0.75 0.75 0 1 0 -1.5 0M432.84 162.86a0.75 0.75 0 1 0 1.5 0a0.75 0.75 0 1 0 -1.5 0M431.68 162.16a0.75 0.75 0 1 0 1.5 0a0.75 0.75 0 1 0 -1.5 0M434.97 164.15a0.75 0.75 0 1 0 1.5 0a0.75 0.75 0 1 0 -1.5 0M499.69 60.29a0.75 0.75 0 1 0 1.5 0a0.75 0.75 0 1 0 -1.5 0M453.92 69.28a0.75 0.75 0 1 0 1.5 0a0.75 0.75 0 1 0 -1.5 0M460.60 71.05a0.75 0.75 0 1 0 1.5 0a0.75 0.75 0 1 0 -1.5 0M454.57 70.04a0.75 0.75 0 1 0 1.5 0a0.75 0.75 0 1 0 -1.5 0M455.41 64.47a0.75 0.75 0 1 0 1.5 0a0.75 0.75 0 1 0 -1.5 0M439.97 94.03a0.75 0.75 0 1 0 1.5 0a0.75 0.75 0 1 0 -1.5 0M443.37 92.58a0.75 0.75 0 1 0 1.5 0a0.75 0.75 0 1 0 -1.5 0M471.38 53.81a0.75 0.75 0 1 0 1.5 0a0.75 0.75 0 1 0 -1.5 0M473.49 52.79a0.75 0.75 0 1 0 1.5 0a0.75 0.75 0 1 0 -1.5 0M472.66 52.74a0.75 0.75 0 1 0 1.5 0a0.75 0.75 0 1 0 -1.5 0M474.78 130.44a0.75 0.75 0 1 0 1.5 0a0.75 0.75 0 1 0 -1.5 0M472.57 123.66a0.75 0.75 0 1 0 1.5 0a0.75 0.75 0 1 0 -1.5 0M471.79 123.76a0.75 0.75 0 1 0 1.5 0a0.75 0.75 0 1 0 -1.5 0M458.57 131.80a0.75 0.75 0 1 0 1.5 0a0.75 0.75 0 1 0 -1.5 0M456.89 134.09a0.75 0.75 0 1 0 1.5 0a0.75 0.75 0 1 0 -1.5 0M460.47 134.31a0.75 0.75 0 1 0 1.5 0a0.75 0.75 0 1 0 -1.5 0M457.54 135.16a0.75 0.75 0 1 0 1.5 0a0.75 0.75 0 1 0 -1.5 0M483.20 143.03a0.75 0.75 0 1 0 1.5 0a0.75 0.75 0 1 0 -1.5 0M481.11 146.36a0.75 0.75 0 1 0 1.5 0a0.75 0.75 0 1 0 -1.5 0M483.60 145.26a0.75 0.75 0 1 0 1.5 0a0.75 0.75 0 1 0 -1.5 0M497.38 98.95a0.75 0.75 0 1 0 1.5 0a0.75 0.75 0 1 0 -1.5 0M454.63 70.87a0.75 0.75 0 1 0 1.5 0a0.75 0.75 0 1 0 -1.5 0M456.94 69.46a0.75 0.75 0 1 0 1.5 0a0.75 0.75 0 1 0 -1.5 0M454.01 71.23a0.75 0.75 0 1 0 1.5 0a0.75 0.75 0 1 0 -1.5 0M443.43 100.98a0.75 0.75 0 1 0 1.5 0a0.75 0.75 0 1 0 -1.5 0M441.40 96.49a0.75 0.75 0 1 0 1.5 0a0.75 0.75 0 1 0 -1.5 0M445.20 99.80a0.75 0.75 0 1 0 1.5 0a0.75 0.75 0 1 0 -1.5 0M446.87 100.79a0.75 0.75 0 1 0 1.5 0a0.75 0.75 0 1 0 -1.5 0M442.51 121.89a0.75 0.75 0 1 0 1.5 0a0.75 0.75 0 1 0 -1.5 0M447.93 124.42a0.75 0.75 0 1 0 1.5 0a0.75 0.75 0 1 0 -1.5 0M445.66 127.60a0.75 0.75 0 1 0 1.5 0a0.75 0.75 0 1 0 -1.5 0M444.29 124.39a0.75 0.75 0 1 0 1.5 0a0.75 0.75 0 1 0 -1.5 0M442.39 124.22a0.75 0.75 0 1 0 1.5 0a0.75 0.75 0 1 0 -1.5 0M439.67 123.61a0.75 0.75 0 1 0 1.5 0a0.75 0.75 0 1 0 -1.5 0M445.20 125.45a0.75 0.75 0 1 0 1.5 0a0.75 0.75 0 1 0 -1.5 0M479.70 142.86a0.75 0.75 0 1 0 1.5 0a0.75 0.75 0 1 0 -1.5 0M474.65 145.52a0.75 0.75 0 1 0 1.5 0a0.75 0.75 0 1 0 -1.5 0M477.72 146.05a0.75 0.75 0 1 0 1.5 0a0.75 0.75 0 1 0 -1.5 0M476.19 139.98a0.75 0.75 0 1 0 1.5 0a0.75 0.75 0 1 0 -1.5 0M477.24 142.22a0.75 0.75 0 1 0 1.5 0a0.75 0.75 0 1 0 -1.5 0M453.30 125.95a0.75 0.75 0 1 0 1.5 0a0.75 0.75 0 1 0 -1.5 0M453.40 124.42a0.75 0.75 0 1 0 1.5 0a0.75 0.75 0 1 0 -1.5 0M448.46 126.21a0.75 0.75 0 1 0 1.5 0a0.75 0.75 0 1 0 -1.5 0M451.47 125.44a0.75 0.75 0 1 0 1.5 0a0.75 0.75 0 1 0 -1.5 0M449.25 121.37a0.75 0.75 0 1 0 1.5 0a0.75 0.75 0 1 0 -1.5 0M455.30 120.64a0.75 0.75 0 1 0 1.5 0a0.75 0.75 0 1 0 -1.5 0M450.33 60.18a0.75 0.75 0 1 0 1.5 0a0.75 0.75 0 1 0 -1.5 0M445.94 61.36a0.75 0.75 0 1 0 1.5 0a0.75 0.75 0 1 0 -1.5 0M442.33 63.02a0.75 0.75 0 1 0 1.5 0a0.75 0.75 0 1 0 -1.5 0M444.97 57.53a0.75 0.75 0 1 0 1.5 0a0.75 0.75 0 1 0 -1.5 0M442.51 56.37a0.75 0.75 0 1 0 1.5 0a0.75 0.75 0 1 0 -1.5 0M444.04 60.95a0.75 0.75 0 1 0 1.5 0a0.75 0.75 0 1 0 -1.5 0M436.88 175.05a0.75 0.75 0 1 0 1.5 0a0.75 0.75 0 1 0 -1.5 0M435.36 173.24a0.75 0.75 0 1 0 1.5 0a0.75 0.75 0 1 0 -1.5 0M480.83 104.26a0.75 0.75 0 1 0 1.5 0a0.75 0.75 0 1 0 -1.5 0M474.56 103.44a0.75 0.75 0 1 0 1.5 0a0.75 0.75 0 1 0 -1.5 0M480.33 101.01a0.75 0.75 0 1 0 1.5 0a0.75 0.75 0 1 0 -1.5 0M471.72 123.34a0.75 0.75 0 1 0 1.5 0a0.75 0.75 0 1 0 -1.5 0M472.78 123.05a0.75 0.75 0 1 0 1.5 0a0.75 0.75 0 1 0 -1.5 0M473.02 123.95a0.75 0.75 0 1 0 1.5 0a0.75 0.75 0 1 0 -1.5 0M473.27 126.85a0.75 0.75 0 1 0 1.5 0a0.75 0.75 0 1 0 -1.5 0M472.36 126.13a0.75 0.75 0 1 0 1.5 0a0.75 0.75 0 1 0 -1.5 0M436.71 116.64a0.75 0.75 0 1 0 1.5 0a0.75 0.75 0 1 0 -1.5 0M441.43 114.72a0.75 0.75 0 1 0 1.5 0a0.75 0.75 0 1 0 -1.5 0M442.48 111.07a0.75 0.75 0 1 0 1.5 0a0.75 0.75 0 1 0 -1.5 0M439.99 114.05a0.75 0.75 0 1 0 1.5 0a0.75 0.75 0 1 0 -1.5 0M439.80 112.71a0.75 0.75 0 1 0 1.5 0a0.75 0.75 0 1 0 -1.5 0M442.62 113.93a0.75 0.75 0 1 0 1.5 0a0.75 0.75 0 1 0 -1.5 0M497.46 114.30a0.75 0.75 0 1 0 1.5 0a0.75 0.75 0 1 0 -1.5 0M502.18 115.05a0.75 0.75 0 1 0 1.5 0a0.75 0.75 0 1 0 -1.5 0M502.59 116.65a0.75 0.75 0 1 0 1.5 0a0.75 0.75 0 1 0 -1.5 0M499.23 115.94a0.75 0.75 0 1 0 1.5 0a0.75 0.75 0 1 0 -1.5 0M496.36 115.49a0.75 0.75 0 1 0 1.5 0a0.75 0.75 0 1 0 -1.5 0M501.42 117.93a0.75 0.75 0 1 0 1.5 0a0.75 0.75 0 1 0 -1.5 0M499.88 117.91a0.75 0.75 0 1 0 1.5 0a0.75 0.75 0 1 0 -1.5 0M435.01 114.66a0.75 0.75 0 1 0 1.5 0a0.75 0.75 0 1 0 -1.5 0M430.01 116.88a0.75 0.75 0 1 0 1.5 0a0.75 0.75 0 1 0 -1.5 0M453.87 51.15a0.75 0.75 0 1 0 1.5 0a0.75 0.75 0 1 0 -1.5 0M453.10 48.57a0.75 0.75 0 1 0 1.5 0a0.75 0.75 0 1 0 -1.5 0M455.15 52.85a0.75 0.75 0 1 0 1.5 0a0.75 0.75 0 1 0 -1.5 0M454.14 45.21a0.75 0.75 0 1 0 1.5 0a0.75 0.75 0 1 0 -1.5 0M452.22 49.46a0.75 0.75 0 1 0 1.5 0a0.75 0.75 0 1 0 -1.5 0M441.29 105.65a0.75 0.75 0 1 0 1.5 0a0.75 0.75 0 1 0 -1.5 0M438.40 109.49a0.75 0.75 0 1 0 1.5 0a0.75 0.75 0 1 0 -1.5 0M439.36 108.00a0.75 0.75 0 1 0 1.5 0a0.75 0.75 0 1 0 -1.5 0M440.66 108.38a0.75 0.75 0 1 0 1.5 0a0.75 0.75 0 1 0 -1.5 0M445.67 83.54a0.75 0.75 0 1 0 1.5 0a0.75 0.75 0 1 0 -1.5 0M442.26 87.70a0.75 0.75 0 1 0 1.5 0a0.75 0.75 0 1 0 -1.5 0M470.83 168.80a0.75 0.75 0 1 0 1.5 0a0.75 0.75 0 1 0 -1.5 0M470.56 166.76a0.75 0.75 0 1 0 1.5 0a0.75 0.75 0 1 0 -1.5 0M469.38 168.95a0.75 0.75 0 1 0 1.5 0a0.75 0.75 0 1 0 -1.5 0M469.16 167.18a0.75 0.75 0 1 0 1.5 0a0.75 0.75 0 1 0 -1.5 0M462.73 130.51a0.75 0.75 0 1 0 1.5 0a0.75 0.75 0 1 0 -1.5 0M457.96 130.85a0.75 0.75 0 1 0 1.5 0a0.75 0.75 0 1 0 -1.5 0M458.87 131.89a0.75 0.75 0 1 0 1.5 0a0.75 0.75 0 1 0 -1.5 0M456.23 63.12a0.75 0.75 0 1 0 1.5 0a0.75 0.75 0 1 0 -1.5 0M452.13 63.49a0.75 0.75 0 1 0 1.5 0a0.75 0.75 0 1 0 -1.5 0M456.64 67.00a0.75 0.75 0 1 0 1.5 0a0.75 0.75 0 1 0 -1.5 0M456.20 65.08a0.75 0.75 0 1 0 1.5 0a0.75 0.75 0 1 0 -1.5 0M455.59 53.62a0.75 0.75 0 1 0 1.5 0a0.75 0.75 0 1 0 -1.5 0M471.20 161.88a0.75 0.75 0 1 0 1.5 0a0.75 0.75 0 1 0 -1.5 0M477.59 91.82a0.75 0.75 0 1 0 1.5 0a0.75 0.75 0 1 0 -1.5 0M429.69 170.85a0.75 0.75 0 1 0 1.5 0a0.75 0.75 0 1 0 -1.5 0M473.20 50.97a0.75 0.75 0 1 0 1.5 0a0.75 0.75 0 1 0 -1.5 0M435.38 110.97a0.75 0.75 0 1 0 1.5 0a0.75 0.75 0 1 0 -1.5 0M437.64 142.01a0.75 0.75 0 1 0 1.5 0a0.75 0.75 0 1 0 -1.5 0M477.92 83.26a0.75 0.75 0 1 0 1.5 0a0.75 0.75 0 1 0 -1.5 0M440.57 113.90a0.75 0.75 0 1 0 1.5 0a0.75 0.75 0 1 0 -1.5 0M476.41 42.51a0.75 0.75 0 1 0 1.5 0a0.75 0.75 0 1 0 -1.5 0M458.29 78.63a0.75 0.75 0 1 0 1.5 0a0.75 0.75 0 1 0 -1.5 0M448.24 96.75a0.75 0.75 0 1 0 1.5 0a0.75 0.75 0 1 0 -1.5 0M446.31 68.78a0.75 0.75 0 1 0 1.5 0a0.75 0.75 0 1 0 -1.5 0M484.29 87.93a0.75 0.75 0 1 0 1.5 0a0.75 0.75 0 1 0 -1.5 0M429.49 173.37a0.75 0.75 0 1 0 1.5 0a0.75 0.75 0 1 0 -1.5 0M465.06 61.85a0.75 0.75 0 1 0 1.5 0a0.75 0.75 0 1 0 -1.5 0M468.30 162.92a0.75 0.75 0 1 0 1.5 0a0.75 0.75 0 1 0 -1.5 0M451.07 140.92a0.75 0.75 0 1 0 1.5 0a0.75 0.75 0 1 0 -1.5 0M434.62 156.90a0.75 0.75 0 1 0 1.5 0a0.75 0.75 0 1 0 -1.5 0M485.12 45.59a0.75 0.75 0 1 0 1.5 0a0.75 0.75 0 1 0 -1.5 0M426.98 148.60a0.75 0.75 0 1 0 1.5 0a0.75 0.75 0 1 0 -1.5 0M434.73 151.19a0.75 0.75 0 1 0 1.5 0a0.75 0.75 0 1 0 -1.5 0M440.75 154.64a0.75 0.75 0 1 0 1.5 0a0.75 0.75 0 1 0 -1.5 0M483.11 134.04a0.75 0.75 0 1 0 1.5 0a0.75 0.75 0 1 0 -1.5 0M469.69 94.61a0.75 0.75 0 1 0 1.5 0a0.75 0.75 0 1 0 -1.5 0M475.77 147.12a0.75 0.75 0 1 0 1.5 0a0.75 0.75 0 1 0 -1.5 0M485.64 96.13a0.75 0.75 0 1 0 1.5 0a0.75 0.75 0 1 0 -1.5 0M450.98 171.72a0.75 0.75 0 1 0 1.5 0a0.75 0.75 0 1 0 -1.5 0M435.80 106.49a0.75 0.75 0 1 0 1.5 0a0.75 0.75 0 1 0 -1.5 0M461.41 152.22a0.75 0.75 0 1 0 1.5 0a0.75 0.75 0 1 0 -1.5 0M433.54 134.34a0.75 0.75 0 1 0 1.5 0a0.75 0.75 0 1 0 -1.5 0M457.03 102.49a0.75 0.75 0 1 0 1.5 0a0.75 0.75 0 1 0 -1.5 0M470.53 98.57a0.75 0.75 0 1 0 1.5 0a0.75 0.75 0 1 0 -1.5 0M420.66 174.16a0.75 0.75 0 1 0 1.5 0a0.75 0.75 0 1 0 -1.5 0M453.30 134.56a0.75 0.75 0 1 0 1.5 0a0.75 0.75 0 1 0 -1.5 0M452.99 86.18a0.75 0.75 0 1 0 1.5 0a0.75 0.75 0 1 0 -1.5 0M457.64 158.77a0.75 0.75 0 1 0 1.5 0a0.75 0.75 0 1 0 -1.5 0M472.78 39.21a0.75 0.75 0 1 0 1.5 0a0.75 0.75 0 1 0 -1.5 0M426.39 148.96a0.75 0.75 0 1 0 1.5 0a0.75 0.75 0 1 0 -1.5 0M487.55 73.12a0.75 0.75 0 1 0 1.5 0a0.75 0.75 0 1 0 -1.5 0M475.11 140.01a0.75 0.75 0 1 0 1.5 0a0.75 0.75 0 1 0 -1.5 0M455.53 64.14a0.75 0.75 0 1 0 1.5 0a0.75 0.75 0 1 0 -1.5 0M451.54 134.82a0.75 0.75 0 1 0 1.5 0a0.75 0.75 0 1 0 -1.5 0M483.53 95.03a0.75 0.75 0 1 0 1.5 0a0.75 0.75 0 1 0 -1.5 0M443.08 112.97a0.75 0.75 0 1 0 1.5 0a0.75 0.75 0 1 0 -1.5 0M498.78 82.03a0.75 0.75 0 1 0 1.5 0a0.75 0.75 0 1 0 -1.5 0M488.80 99.56a0.75 0.75 0 1 0 1.5 0a0.75 0.75 0 1 0 -1.5 0M460.47 148.22a0.75 0.75 0 1 0 1.5 0a0.75 0.75 0 1 0 -1.5 0M452.70 103.93a0.75 0.75 0 1 0 1.5 0a0.75 0.75 0 1 0 -1.5 0M461.76 97.37a0.75 0.75 0 1 0 1.5 0a0.75 0.75 0 1 0 -1.5 0M467.38 117.97a0.75 0.75 0 1 0 1.5 0a0.75 0.75 0 1 0 -1.5 0M465.71 96.11a0.75 0.75 0 1 0 1.5 0a0.75 0.75 0 1 0 -1.5 0M486.51 122.07a0.75 0.75 0 1 0 1.5 0a0.75 0.75 0 1 0 -1.5 0M465.79 62.44a0.75 0.75 0 1 0 1.5 0a0.75 0.75 0 1 0 -1.5 0M491.79 90.23a0.75 0.75 0 1 0 1.5 0a0.75 0.75 0 1 0 -1.5 0M450.56 130.58a0.75 0.75 0 1 0 1.5 0a0.75 0.75 0 1 0 -1.5 0M455.67 109.32a0.75 0.75 0 1 0 1.5 0a0.75 0.75 0 1 0 -1.5 0M490.92 68.62a0.75 0.75 0 1 0 1.5 0a0.75 0.75 0 1 0 -1.5 0M489.78 141.63a0.75 0.75 0 1 0 1.5 0a0.75 0.75 0 1 0 -1.5 0M438.67 139.86a0.75 0.75 0 1 0 1.5 0a0.75 0.75 0 1 0 -1.5 0M482.24 50.05a0.75 0.75 0 1 0 1.5 0a0.75 0.75 0 1 0 -1.5 0M461.94 38.97a0.75 0.75 0 1 0 1.5 0a0.75 0.75 0 1 0 -1.5 0M444.01 146.18a0.75 0.75 0 1 0 1.5 0a0.75 0.75 0 1 0 -1.5 0M495.61 92.17a0.75 0.75 0 1 0 1.5 0a0.75 0.75 0 1 0 -1.5 0M463.35 50.72a0.75 0.75 0 1 0 1.5 0a0.75 0.75 0 1 0 -1.5 0M486.71 123.22a0.75 0.75 0 1 0 1.5 0a0.75 0.75 0 1 0 -1.5 0M454.03 109.02a0.75 0.75 0 1 0 1.5 0a0.75 0.75 0 1 0 -1.5 0M489.85 137.87a0.75 0.75 0 1 0 1.5 0a0.75 0.75 0 1 0 -1.5 0M469.89 163.75a0.75 0.75 0 1 0 1.5 0a0.75 0.75 0 1 0 -1.5 0M441.64 115.95a0.75 0.75 0 1 0 1.5 0a0.75 0.75 0 1 0 -1.5 0M467.82 43.56a0.75 0.75 0 1 0 1.5 0a0.75 0.75 0 1 0 -1.5 0M442.97 116.69a0.75 0.75 0 1 0 1.5 0a0.75 0.75 0 1 0 -1.5 0M464.62 134.03a0.75 0.75 0 1 0 1.5 0a0.75 0.75 0 1 0 -1.5 0M448.89 59.35a0.75 0.75 0 1 0 1.5 0a0.75 0.75 0 1 0 -1.5 0M448.76 76.11a0.75 0.75 0 1 0 1.5 0a0.75 0.75 0 1 0 -1.5 0M464.81 113.31a0.75 0.75 0 1 0 1.5 0a0.75 0.75 0 1 0 -1.5 0M487.73 82.79a0.75 0.75 0 1 0 1.5 0a0.75 0.75 0 1 0 -1.5 0M439.19 117.22a0.75 0.75 0 1 0 1.5 0a0.75 0.75 0 1 0 -1.5 0M450.44 138.18a0.75 0.75 0 1 0 1.5 0a0.75 0.75 0 1 0 -1.5 0M497.88 90.58a0.75 0.75 0 1 0 1.5 0a0.75 0.75 0 1 0 -1.5 0M446.24 96.13a0.75 0.75 0 1 0 1.5 0a0.75 0.75 0 1 0 -1.5 0M481.47 138.01a0.75 0.75 0 1 0 1.5 0a0.75 0.75 0 1 0 -1.5 0M464.93 67.69a0.75 0.75 0 1 0 1.5 0a0.75 0.75 0 1 0 -1.5 0M436.58 117.34a0.75 0.75 0 1 0 1.5 0a0.75 0.75 0 1 0 -1.5 0M458.86 161.99a0.75 0.75 0 1 0 1.5 0a0.75 0.75 0 1 0 -1.5 0M463.98 107.51a0.75 0.75 0 1 0 1.5 0a0.75 0.75 0 1 0 -1.5 0M493.00 134.59a0.75 0.75 0 1 0 1.5 0a0.75 0.75 0 1 0 -1.5 0M484.51 84.23a0.75 0.75 0 1 0 1.5 0a0.75 0.75 0 1 0 -1.5 0M451.80 107.76a0.75 0.75 0 1 0 1.5 0a0.75 0.75 0 1 0 -1.5 0M465.31 170.02a0.75 0.75 0 1 0 1.5 0a0.75 0.75 0 1 0 -1.5 0M474.98 103.62a0.75 0.75 0 1 0 1.5 0a0.75 0.75 0 1 0 -1.5 0M462.18 146.99a0.75 0.75 0 1 0 1.5 0a0.75 0.75 0 1 0 -1.5 0M445.25 107.88a0.75 0.75 0 1 0 1.5 0a0.75 0.75 0 1 0 -1.5 0M466.05 129.72a0.75 0.75 0 1 0 1.5 0a0.75 0.75 0 1 0 -1.5 0M472.56 137.40a0.75 0.75 0 1 0 1.5 0a0.75 0.75 0 1 0 -1.5 0M494.41 82.77a0.75 0.75 0 1 0 1.5 0a0.75 0.75 0 1 0 -1.5 0M453.50 119.20a0.75 0.75 0 1 0 1.5 0a0.75 0.75 0 1 0 -1.5 0M495.84 77.49a0.75 0.75 0 1 0 1.5 0a0.75 0.75 0 1 0 -1.5 0M435.96 154.65a0.75 0.75 0 1 0 1.5 0a0.75 0.75 0 1 0 -1.5 0M446.75 60.87a0.75 0.75 0 1 0 1.5 0a0.75 0.75 0 1 0 -1.5 0M494.97 103.67a0.75 0.75 0 1 0 1.5 0a0.75 0.75 0 1 0 -1.5 0M442.17 114.20a0.75 0.75 0 1 0 1.5 0a0.75 0.75 0 1 0 -1.5 0M452.45 166.40a0.75 0.75 0 1 0 1.5 0a0.75 0.75 0 1 0 -1.5 0M454.11 130.80a0.75 0.75 0 1 0 1.5 0a0.75 0.75 0 1 0 -1.5 0M427.93 162.01a0.75 0.75 0 1 0 1.5 0a0.75 0.75 0 1 0 -1.5 0M494.15 65.78a0.75 0.75 0 1 0 1.5 0a0.75 0.75 0 1 0 -1.5 0M473.43 148.04a0.75 0.75 0 1 0 1.5 0a0.75 0.75 0 1 0 -1.5 0M466.36 155.17a0.75 0.75 0 1 0 1.5 0a0.75 0.75 0 1 0 -1.5 0M469.47 91.96a0.75 0.75 0 1 0 1.5 0a0.75 0.75 0 1 0 -1.5 0M465.43 41.32a0.75 0.75 0 1 0 1.5 0a0.75 0.75 0 1 0 -1.5 0M467.04 115.84a0.75 0.75 0 1 0 1.5 0a0.75 0.75 0 1 0 -1.5 0M466.23 114.29a0.75 0.75 0 1 0 1.5 0a0.75 0.75 0 1 0 -1.5 0M458.38 137.70a0.75 0.75 0 1 0 1.5 0a0.75 0.75 0 1 0 -1.5 0M439.87 133.79a0.75 0.75 0 1 0 1.5 0a0.75 0.75 0 1 0 -1.5 0M437.12 139.29a0.75 0.75 0 1 0 1.5 0a0.75 0.75 0 1 0 -1.5 0M437.65 111.11a0.75 0.75 0 1 0 1.5 0a0.75 0.75 0 1 0 -1.5 0M465.23 65.39a0.75 0.75 0 1 0 1.5 0a0.75 0.75 0 1 0 -1.5 0M442.67 140.75a0.75 0.75 0 1 0 1.5 0a0.75 0.75 0 1 0 -1.5 0M441.84 173.89a0.75 0.75 0 1 0 1.5 0a0.75 0.75 0 1 0 -1.5 0M469.18 162.41a0.75 0.75 0 1 0 1.5 0a0.75 0.75 0 1 0 -1.5 0M488.58 137.61a0.75 0.75 0 1 0 1.5 0a0.75 0.75 0 1 0 -1.5 0M479.58 156.86a0.75 0.75 0 1 0 1.5 0a0.75 0.75 0 1 0 -1.5 0M444.91 145.18a0.75 0.75 0 1 0 1.5 0a0.75 0.75 0 1 0 -1.5 0M453.70 98.22a0.75 0.75 0 1 0 1.5 0a0.75 0.75 0 1 0 -1.5 0M486.87 95.47a0.75 0.75 0 1 0 1.5 0a0.75 0.75 0 1 0 -1.5 0M476.19 98.03a0.75 0.75 0 1 0 1.5 0a0.75 0.75 0 1 0 -1.5 0M483.44 92.68a0.75 0.75 0 1 0 1.5 0a0.75 0.75 0 1 0 -1.5 0M440.73 124.98a0.75 0.75 0 1 0 1.5 0a0.75 0.75 0 1 0 -1.5 0M475.08 139.63a0.75 0.75 0 1 0 1.5 0a0.75 0.75 0 1 0 -1.5 0M445.47 175.78a0.75 0.75 0 1 0 1.5 0a0.75 0.75 0 1 0 -1.5 0M490.60 62.85a0.75 0.75 0 1 0 1.5 0a0.75 0.75 0 1 0 -1.5 0M471.97 98.28a0.75 0.75 0 1 0 1.5 0a0.75 0.75 0 1 0 -1.5 0M502.61 111.41a0.75 0.75 0 1 0 1.5 0a0.75 0.75 0 1 0 -1.5 0M465.88 102.63a0.75 0.75 0 1 0 1.5 0a0.75 0.75 0 1 0 -1.5 0M479.70 94.05a0.75 0.75 0 1 0 1.5 0a0.75 0.75 0 1 0 -1.5 0M454.16 94.42a0.75 0.75 0 1 0 1.5 0a0.75 0.75 0 1 0 -1.5 0M480.01 140.09a0.75 0.75 0 1 0 1.5 0a0.75 0.75 0 1 0 -1.5 0M441.03 143.48a0.75 0.75 0 1 0 1.5 0a0.75 0.75 0 1 0 -1.5 0M457.98 124.61a0.75 0.75 0 1 0 1.5 0a0.75 0.75 0 1 0 -1.5 0M465.83 122.56a0.75 0.75 0 1 0 1.5 0a0.75 0.75 0 1 0 -1.5 0M485.39 119.18a0.75 0.75 0 1 0 1.5 0a0.75 0.75 0 1 0 -1.5 0M453.91 107.47a0.75 0.75 0 1 0 1.5 0a0.75 0.75 0 1 0 -1.5 0M490.73 141.57a0.75 0.75 0 1 0 1.5 0a0.75 0.75 0 1 0 -1.5 0M464.56 74.72a0.75 0.75 0 1 0 1.5 0a0.75 0.75 0 1 0 -1.5 0M459.56 160.57a0.75 0.75 0 1 0 1.5 0a0.75 0.75 0 1 0 -1.5 0M446.86 91.09a0.75 0.75 0 1 0 1.5 0a0.75 0.75 0 1 0 -1.5 0M440.21 120.83a0.75 0.75 0 1 0 1.5 0a0.75 0.75 0 1 0 -1.5 0M430.63 151.20a0.75 0.75 0 1 0 1.5 0a0.75 0.75 0 1 0 -1.5 0M490.45 113.36a0.75 0.75 0 1 0 1.5 0a0.75 0.75 0 1 0 -1.5 0M424.89 182.66a0.75 0.75 0 1 0 1.5 0a0.75 0.75 0 1 0 -1.5 0M459.06 69.04a0.75 0.75 0 1 0 1.5 0a0.75 0.75 0 1 0 -1.5 0M478.60 52.87a0.75 0.75 0 1 0 1.5 0a0.75 0.75 0 1 0 -1.5 0M483.26 89.24a0.75 0.75 0 1 0 1.5 0a0.75 0.75 0 1 0 -1.5 0M453.18 96.80a0.75 0.75 0 1 0 1.5 0a0.75 0.75 0 1 0 -1.5 0M456.55 174.40a0.75 0.75 0 1 0 1.5 0a0.75 0.75 0 1 0 -1.5 0M450.08 140.65a0.75 0.75 0 1 0 1.5 0a0.75 0.75 0 1 0 -1.5 0M459.51 105.11a0.75 0.75 0 1 0 1.5 0a0.75 0.75 0 1 0 -1.5 0M503.09 96.71a0.75 0.75 0 1 0 1.5 0a0.75 0.75 0 1 0 -1.5 0M470.22 82.66a0.75 0.75 0 1 0 1.5 0a0.75 0.75 0 1 0 -1.5 0M470.94 119.58a0.75 0.75 0 1 0 1.5 0a0.75 0.75 0 1 0 -1.5 0M500.93 94.62a0.75 0.75 0 1 0 1.5 0a0.75 0.75 0 1 0 -1.5 0M445.38 105.05a0.75 0.75 0 1 0 1.5 0a0.75 0.75 0 1 0 -1.5 0M441.50 117.90a0.75 0.75 0 1 0 1.5 0a0.75 0.75 0 1 0 -1.5 0M464.10 105.06a0.75 0.75 0 1 0 1.5 0a0.75 0.75 0 1 0 -1.5 0M456.17 141.09a0.75 0.75 0 1 0 1.5 0a0.75 0.75 0 1 0 -1.5 0M453.81 57.69a0.75 0.75 0 1 0 1.5 0a0.75 0.75 0 1 0 -1.5 0M430.48 128.91a0.75 0.75 0 1 0 1.5 0a0.75 0.75 0 1 0 -1.5 0M445.79 146.89a0.75 0.75 0 1 0 1.5 0a0.75 0.75 0 1 0 -1.5 0M480.22 122.23a0.75 0.75 0 1 0 1.5 0a0.75 0.75 0 1 0 -1.5 0M478.57 133.12a0.75 0.75 0 1 0 1.5 0a0.75 0.75 0 1 0 -1.5 0M437.05 165.66a0.75 0.75 0 1 0 1.5 0a0.75 0.75 0 1 0 -1.5 0M451.00 57.61a0.75 0.75 0 1 0 1.5 0a0.75 0.75 0 1 0 -1.5 0M429.07 147.56a0.75 0.75 0 1 0 1.5 0a0.75 0.75 0 1 0 -1.5 0M436.92 121.00a0.75 0.75 0 1 0 1.5 0a0.75 0.75 0 1 0 -1.5 0M478.52 89.37a0.75 0.75 0 1 0 1.5 0a0.75 0.75 0 1 0 -1.5 0M456.87 157.50a0.75 0.75 0 1 0 1.5 0a0.75 0.75 0 1 0 -1.5 0M434.20 124.71a0.75 0.75 0 1 0 1.5 0a0.75 0.75 0 1 0 -1.5 0M463.65 103.27a0.75 0.75 0 1 0 1.5 0a0.75 0.75 0 1 0 -1.5 0M462.54 105.48a0.75 0.75 0 1 0 1.5 0a0.75 0.75 0 1 0 -1.5 0M434.22 124.02a0.75 0.75 0 1 0 1.5 0a0.75 0.75 0 1 0 -1.5 0M448.26 129.77a0.75 0.75 0 1 0 1.5 0a0.75 0.75 0 1 0 -1.5 0M457.42 135.42a0.75 0.75 0 1 0 1.5 0a0.75 0.75 0 1 0 -1.5 0M438.05 99.87a0.75 0.75 0 1 0 1.5 0a0.75 0.75 0 1 0 -1.5 0M440.64 131.01a0.75 0.75 0 1 0 1.5 0a0.75 0.75 0 1 0 -1.5 0M475.74 159.73a0.75 0.75 0 1 0 1.5 0a0.75 0.75 0 1 0 -1.5 0M501.52 95.67a0.75 0.75 0 1 0 1.5 0a0.75 0.75 0 1 0 -1.5 0M459.12 123.40a0.75 0.75 0 1 0 1.5 0a0.75 0.75 0 1 0 -1.5 0M448.73 105.39a0.75 0.75 0 1 0 1.5 0a0.75 0.75 0 1 0 -1.5 0M461.67 121.50a0.75 0.75 0 1 0 1.5 0a0.75 0.75 0 1 0 -1.5 0M427.63 137.15a0.75 0.75 0 1 0 1.5 0a0.75 0.75 0 1 0 -1.5 0M462.64 144.44a0.75 0.75 0 1 0 1.5 0a0.75 0.75 0 1 0 -1.5 0M450.15 144.07a0.75 0.75 0 1 0 1.5 0a0.75 0.75 0 1 0 -1.5 0M486.96 79.83a0.75 0.75 0 1 0 1.5 0a0.75 0.75 0 1 0 -1.5 0M421.34 176.65a0.75 0.75 0 1 0 1.5 0a0.75 0.75 0 1 0 -1.5 0M461.96 93.99a0.75 0.75 0 1 0 1.5 0a0.75 0.75 0 1 0 -1.5 0M444.08 83.82a0.75 0.75 0 1 0 1.5 0a0.75 0.75 0 1 0 -1.5 0M480.86 83.43a0.75 0.75 0 1 0 1.5 0a0.75 0.75 0 1 0 -1.5 0M454.26 113.56a0.75 0.75 0 1 0 1.5 0a0.75 0.75 0 1 0 -1.5 0M439.27 176.97a0.75 0.75 0 1 0 1.5 0a0.75 0.75 0 1 0 -1.5 0M445.10 119.99a0.75 0.75 0 1 0 1.5 0a0.75 0.75 0 1 0 -1.5 0M452.88 93.53a0.75 0.75 0 1 0 1.5 0a0.75 0.75 0 1 0 -1.5 0M455.12 128.13a0.75 0.75 0 1 0 1.5 0a0.75 0.75 0 1 0 -1.5 0M438.35 81.71a0.75 0.75 0 1 0 1.5 0a0.75 0.75 0 1 0 -1.5 0M485.84 90.87a0.75 0.75 0 1 0 1.5 0a0.75 0.75 0 1 0 -1.5 0M480.62 132.02a0.75 0.75 0 1 0 1.5 0a0.75 0.75 0 1 0 -1.5 0M484.77 40.91a0.75 0.75 0 1 0 1.5 0a0.75 0.75 0 1 0 -1.5 0M449.02 121.91a0.75 0.75 0 1 0 1.5 0a0.75 0.75 0 1 0 -1.5 0M494.41 137.22a0.75 0.75 0 1 0 1.5 0a0.75 0.75 0 1 0 -1.5 0M481.01 39.47a0.75 0.75 0 1 0 1.5 0a0.75 0.75 0 1 0 -1.5 0M491.63 118.65a0.75 0.75 0 1 0 1.5 0a0.75 0.75 0 1 0 -1.5 0M441.67 81.00a0.75 0.75 0 1 0 1.5 0a0.75 0.75 0 1 0 -1.5 0M453.22 146.65a0.75 0.75 0 1 0 1.5 0a0.75 0.75 0 1 0 -1.5 0M484.05 68.65a0.75 0.75 0 1 0 1.5 0a0.75 0.75 0 1 0 -1.5 0M428.96 147.13a0.75 0.75 0 1 0 1.5 0a0.75 0.75 0 1 0 -1.5 0M498.85 114.22a0.75 0.75 0 1 0 1.5 0a0.75 0.75 0 1 0 -1.5 0M482.20 89.74a0.75 0.75 0 1 0 1.5 0a0.75 0.75 0 1 0 -1.5 0M479.35 88.26a0.75 0.75 0 1 0 1.5 0a0.75 0.75 0 1 0 -1.5 0M458.01 102.15a0.75 0.75 0 1 0 1.5 0a0.75 0.75 0 1 0 -1.5 0M466.62 112.81a0.75 0.75 0 1 0 1.5 0a0.75 0.75 0 1 0 -1.5 0M451.04 114.01a0.75 0.75 0 1 0 1.5 0a0.75 0.75 0 1 0 -1.5 0M487.37 87.09a0.75 0.75 0 1 0 1.5 0a0.75 0.75 0 1 0 -1.5 0M458.30 144.96a0.75 0.75 0 1 0 1.5 0a0.75 0.75 0 1 0 -1.5 0M477.49 120.28a0.75 0.75 0 1 0 1.5 0a0.75 0.75 0 1 0 -1.5 0M454.48 151.36a0.75 0.75 0 1 0 1.5 0a0.75 0.75 0 1 0 -1.5 0M466.62 61.79a0.75 0.75 0 1 0 1.5 0a0.75 0.75 0 1 0 -1.5 0M426.86 139.66a0.75 0.75 0 1 0 1.5 0a0.75 0.75 0 1 0 -1.5 0M441.95 174.42a0.75 0.75 0 1 0 1.5 0a0.75 0.75 0 1 0 -1.5 0M425.30 154.83a0.75 0.75 0 1 0 1.5 0a0.75 0.75 0 1 0 -1.5 0M480.10 58.16a0.75 0.75 0 1 0 1.5 0a0.75 0.75 0 1 0 -1.5 0M476.61 146.12a0.75 0.75 0 1 0 1.5 0a0.75 0.75 0 1 0 -1.5 0M466.36 141.83a0.75 0.75 0 1 0 1.5 0a0.75 0.75 0 1 0 -1.5 0M446.51 79.84a0.75 0.75 0 1 0 1.5 0a0.75 0.75 0 1 0 -1.5 0M482.50 48.68a0.75 0.75 0 1 0 1.5 0a0.75 0.75 0 1 0 -1.5 0M488.96 111.61a0.75 0.75 0 1 0 1.5 0a0.75 0.75 0 1 0 -1.5 0M453.10 173.47a0.75 0.75 0 1 0 1.5 0a0.75 0.75 0 1 0 -1.5 0M491.67 56.45a0.75 0.75 0 1 0 1.5 0a0.75 0.75 0 1 0 -1.5 0M464.33 110.11a0.75 0.75 0 1 0 1.5 0a0.75 0.75 0 1 0 -1.5 0M444.90 134.68a0.75 0.75 0 1 0 1.5 0a0.75 0.75 0 1 0 -1.5 0M481.28 144.24a0.75 0.75 0 1 0 1.5 0a0.75 0.75 0 1 0 -1.5 0M475.40 84.24a0.75 0.75 0 1 0 1.5 0a0.75 0.75 0 1 0 -1.5 0M471.42 144.04a0.75 0.75 0 1 0 1.5 0a0.75 0.75 0 1 0 -1.5 0M460.09 136.50a0.75 0.75 0 1 0 1.5 0a0.75 0.75 0 1 0 -1.5 0M493.02 70.66a0.75 0.75 0 1 0 1.5 0a0.75 0.75 0 1 0 -1.5 0M490.78 87.14a0.75 0.75 0 1 0 1.5 0a0.75 0.75 0 1 0 -1.5 0M502.34 83.48a0.75 0.75 0 1 0 1.5 0a0.75 0.75 0 1 0 -1.5 0M470.90 154.74a0.75 0.75 0 1 0 1.5 0a0.75 0.75 0 1 0 -1.5 0M467.93 44.43a0.75 0.75 0 1 0 1.5 0a0.75 0.75 0 1 0 -1.5 0M488.94 57.50a0.75 0.75 0 1 0 1.5 0a0.75 0.75 0 1 0 -1.5 0M496.02 105.73a0.75 0.75 0 1 0 1.5 0a0.75 0.75 0 1 0 -1.5 0M499.72 114.78a0.75 0.75 0 1 0 1.5 0a0.75 0.75 0 1 0 -1.5 0M487.12 57.25a0.75 0.75 0 1 0 1.5 0a0.75 0.75 0 1 0 -1.5 0M470.26 127.16a0.75 0.75 0 1 0 1.5 0a0.75 0.75 0 1 0 -1.5 0M495.12 57.25a0.75 0.75 0 1 0 1.5 0a0.75 0.75 0 1 0 -1.5 0M469.01 56.90a0.75 0.75 0 1 0 1.5 0a0.75 0.75 0 1 0 -1.5 0M498.72 116.74a0.75 0.75 0 1 0 1.5 0a0.75 0.75 0 1 0 -1.5 0M467.60 134.49a0.75 0.75 0 1 0 1.5 0a0.75 0.75 0 1 0 -1.5 0M436.67 162.08a0.75 0.75 0 1 0 1.5 0a0.75 0.75 0 1 0 -1.5 0M436.20 99.74a0.75 0.75 0 1 0 1.5 0a0.75 0.75 0 1 0 -1.5 0M453.80 168.68a0.75 0.75 0 1 0 1.5 0a0.75 0.75 0 1 0 -1.5 0M487.63 109.97a0.75 0.75 0 1 0 1.5 0a0.75 0.75 0 1 0 -1.5 0M424.96 152.50a0.75 0.75 0 1 0 1.5 0a0.75 0.75 0 1 0 -1.5 0M475.24 83.47a0.75 0.75 0 1 0 1.5 0a0.75 0.75 0 1 0 -1.5 0M433.47 176.15a0.75 0.75 0 1 0 1.5 0a0.75 0.75 0 1 0 -1.5 0M468.87 167.45a0.75 0.75 0 1 0 1.5 0a0.75 0.75 0 1 0 -1.5 0M441.28 159.44a0.75 0.75 0 1 0 1.5 0a0.75 0.75 0 1 0 -1.5 0M460.00 148.31a0.75 0.75 0 1 0 1.5 0a0.75 0.75 0 1 0 -1.5 0M460.90 129.33a0.75 0.75 0 1 0 1.5 0a0.75 0.75 0 1 0 -1.5 0M473.30 148.41a0.75 0.75 0 1 0 1.5 0a0.75 0.75 0 1 0 -1.5 0M438.63 135.87a0.75 0.75 0 1 0 1.5 0a0.75 0.75 0 1 0 -1.5 0M456.70 133.13a0.75 0.75 0 1 0 1.5 0a0.75 0.75 0 1 0 -1.5 0M487.20 132.98a0.75 0.75 0 1 0 1.5 0a0.75 0.75 0 1 0 -1.5 0M444.74 74.59a0.75 0.75 0 1 0 1.5 0a0.75 0.75 0 1 0 -1.5 0M475.23 84.28a0.75 0.75 0 1 0 1.5 0a0.75 0.75 0 1 0 -1.5 0M497.75 120.93a0.75 0.75 0 1 0 1.5 0a0.75 0.75 0 1 0 -1.5 0M468.17 158.09a0.75 0.75 0 1 0 1.5 0a0.75 0.75 0 1 0 -1.5 0M501.76 114.81a0.75 0.75 0 1 0 1.5 0a0.75 0.75 0 1 0 -1.5 0M488.30 66.09a0.75 0.75 0 1 0 1.5 0a0.75 0.75 0 1 0 -1.5 0M454.28 138.86a0.75 0.75 0 1 0 1.5 0a0.75 0.75 0 1 0 -1.5 0M455.22 109.22a0.75 0.75 0 1 0 1.5 0a0.75 0.75 0 1 0 -1.5 0M486.04 121.44a0.75 0.75 0 1 0 1.5 0a0.75 0.75 0 1 0 -1.5 0M439.56 121.64a0.75 0.75 0 1 0 1.5 0a0.75 0.75 0 1 0 -1.5 0M466.81 109.97a0.75 0.75 0 1 0 1.5 0a0.75 0.75 0 1 0 -1.5 0M428.76 171.78a0.75 0.75 0 1 0 1.5 0a0.75 0.75 0 1 0 -1.5 0M449.37 89.60a0.75 0.75 0 1 0 1.5 0a0.75 0.75 0 1 0 -1.5 0M424.18 150.80a0.75 0.75 0 1 0 1.5 0a0.75 0.75 0 1 0 -1.5 0M468.75 157.59a0.75 0.75 0 1 0 1.5 0a0.75 0.75 0 1 0 -1.5 0M488.13 134.97a0.75 0.75 0 1 0 1.5 0a0.75 0.75 0 1 0 -1.5 0M482.33 97.10a0.75 0.75 0 1 0 1.5 0a0.75 0.75 0 1 0 -1.5 0M458.74 57.59a0.75 0.75 0 1 0 1.5 0a0.75 0.75 0 1 0 -1.5 0M441.82 115.92a0.75 0.75 0 1 0 1.5 0a0.75 0.75 0 1 0 -1.5 0M486.78 49.02a0.75 0.75 0 1 0 1.5 0a0.75 0.75 0 1 0 -1.5 0M481.53 91.70a0.75 0.75 0 1 0 1.5 0a0.75 0.75 0 1 0 -1.5 0M461.32 156.87a0.75 0.75 0 1 0 1.5 0a0.75 0.75 0 1 0 -1.5 0M481.12 54.29a0.75 0.75 0 1 0 1.5 0a0.75 0.75 0 1 0 -1.5 0M496.60 136.88a0.75 0.75 0 1 0 1.5 0a0.75 0.75 0 1 0 -1.5 0M449.59 116.79a0.75 0.75 0 1 0 1.5 0a0.75 0.75 0 1 0 -1.5 0M473.14 161.24a0.75 0.75 0 1 0 1.5 0a0.75 0.75 0 1 0 -1.5 0M393.84 177.32a0.75 0.75 0 1 0 1.5 0a0.75 0.75 0 1 0 -1.5 0M390.00 175.25a0.75 0.75 0 1 0 1.5 0a0.75 0.75 0 1 0 -1.5 0M393.55 172.89a0.75 0.75 0 1 0 1.5 0a0.75 0.75 0 1 0 -1.5 0M390.13 174.32a0.75 0.75 0 1 0 1.5 0a0.75 0.75 0 1 0 -1.5 0M410.63 183.92a0.75 0.75 0 1 0 1.5 0a0.75 0.75 0 1 0 -1.5 0M411.17 182.28a0.75 0.75 0 1 0 1.5 0a0.75 0.75 0 1 0 -1.5 0M404.80 179.77a0.75 0.75 0 1 0 1.5 0a0.75 0.75 0 1 0 -1.5 0M410.52 181.58a0.75 0.75 0 1 0 1.5 0a0.75 0.75 0 1 0 -1.5 0M408.91 178.66a0.75 0.75 0 1 0 1.5 0a0.75 0.75 0 1 0 -1.5 0M394.45 194.07a0.75 0.75 0 1 0 1.5 0a0.75 0.75 0 1 0 -1.5 0M397.56 192.59a0.75 0.75 0 1 0 1.5 0a0.75 0.75 0 1 0 -1.5 0M400.40 197.20a0.75 0.75 0 1 0 1.5 0a0.75 0.75 0 1 0 -1.5 0M409.94 192.37a0.75 0.75 0 1 0 1.5 0a0.75 0.75 0 1 0 -1.5 0M404.65 189.51a0.75 0.75 0 1 0 1.5 0a0.75 0.75 0 1 0 -1.5 0M407.95 192.80a0.75 0.75 0 1 0 1.5 0a0.75 0.75 0 1 0 -1.5 0M407.69 192.09a0.75 0.75 0 1 0 1.5 0a0.75 0.75 0 1 0 -1.5 0M407.30 193.79a0.75 0.75 0 1 0 1.5 0a0.75 0.75 0 1 0 -1.5 0M406.27 192.24a0.75 0.75 0 1 0 1.5 0a0.75 0.75 0 1 0 -1.5 0M400.97 177.80a0.75 0.75 0 1 0 1.5 0a0.75 0.75 0 1 0 -1.5 0M401.60 177.05a0.75 0.75 0 1 0 1.5 0a0.75 0.75 0 1 0 -1.5 0M395.37 174.89a0.75 0.75 0 1 0 1.5 0a0.75 0.75 0 1 0 -1.5 0M400.60 176.99a0.75 0.75 0 1 0 1.5 0a0.75 0.75 0 1 0 -1.5 0M398.65 175.49a0.75 0.75 0 1 0 1.5 0a0.75 0.75 0 1 0 -1.5 0M396.46 176.09a0.75 0.75 0 1 0 1.5 0a0.75 0.75 0 1 0 -1.5 0M394.05 175.36a0.75 0.75 0 1 0 1.5 0a0.75 0.75 0 1 0 -1.5 0M392.54 178.05a0.75 0.75 0 1 0 1.5 0a0.75 0.75 0 1 0 -1.5 0M392.76 176.85a0.75 0.75 0 1 0 1.5 0a0.75 0.75 0 1 0 -1.5 0M392.80 177.63a0.75 0.75 0 1 0 1.5 0a0.75 0.75 0 1 0 -1.5 0M392.17 176.17a0.75 0.75 0 1 0 1.5 0a0.75 0.75 0 1 0 -1.5 0M393.62 178.68a0.75 0.75 0 1 0 1.5 0a0.75 0.75 0 1 0 -1.5 0M400.44 189.80a0.75 0.75 0 1 0 1.5 0a0.75 0.75 0 1 0 -1.5 0M403.97 196.46a0.75 0.75 0 1 0 1.5 0a0.75 0.75 0 1 0 -1.5 0M396.68 194.34a0.75 0.75 0 1 0 1.5 0a0.75 0.75 0 1 0 -1.5 0M401.09 199.44a0.75 0.75 0 1 0 1.5 0a0.75 0.75 0 1 0 -1.5 0M401.89 197.52a0.75 0.75 0 1 0 1.5 0a0.75 0.75 0 1 0 -1.5 0M401.86 194.73a0.75 0.75 0 1 0 1.5 0a0.75 0.75 0 1 0 -1.5 0M399.67 196.74a0.75 0.75 0 1 0 1.5 0a0.75 0.75 0 1 0 -1.5 0M398.17 196.78a0.75 0.75 0 1 0 1.5 0a0.75 0.75 0 1 0 -1.5 0M402.60 191.48a0.75 0.75 0 1 0 1.5 0a0.75 0.75 0 1 0 -1.5 0M407.58 192.20a0.75 0.75 0 1 0 1.5 0a0.75 0.75 0 1 0 -1.5 0M408.78 189.87a0.75 0.75 0 1 0 1.5 0a0.75 0.75 0 1 0 -1.5 0M404.10 190.42a0.75 0.75 0 1 0 1.5 0a0.75 0.75 0 1 0 -1.5 0M404.42 188.72a0.75 0.75 0 1 0 1.5 0a0.75 0.75 0 1 0 -1.5 0M399.80 184.02a0.75 0.75 0 1 0 1.5 0a0.75 0.75 0 1 0 -1.5 0M401.18 187.23a0.75 0.75 0 1 0 1.5 0a0.75 0.75 0 1 0 -1.5 0M397.24 183.16a0.75 0.75 0 1 0 1.5 0a0.75 0.75 0 1 0 -1.5 0M407.41 179.65a0.75 0.75 0 1 0 1.5 0a0.75 0.75 0 1 0 -1.5 0M397.56 171.74a0.75 0.75 0 1 0 1.5 0a0.75 0.75 0 1 0 -1.5 0M402.67 192.92a0.75 0.75 0 1 0 1.5 0a0.75 0.75 0 1 0 -1.5 0M399.50 191.60a0.75 0.75 0 1 0 1.5 0a0.75 0.75 0 1 0 -1.5 0M394.78 172.76a0.75 0.75 0 1 0 1.5 0a0.75 0.75 0 1 0 -1.5 0M402.50 190.88a0.75 0.75 0 1 0 1.5 0a0.75 0.75 0 1 0 -1.5 0M408.63 184.63a0.75 0.75 0 1 0 1.5 0a0.75 0.75 0 1 0 -1.5 0M399.63 189.95a0.75 0.75 0 1 0 1.5 0a0.75 0.75 0 1 0 -1.5 0M408.25 184.59a0.75 0.75 0 1 0 1.5 0a0.75 0.75 0 1 0 -1.5 0M394.22 174.59a0.75 0.75 0 1 0 1.5 0a0.75 0.75 0 1 0 -1.5 0M395.18 189.99a0.75 0.75 0 1 0 1.5 0a0.75 0.75 0 1 0 -1.5 0M402.59 184.34a0.75 0.75 0 1 0 1.5 0a0.75 0.75 0 1 0 -1.5 0M398.55 190.83a0.75 0.75 0 1 0 1.5 0a0.75 0.75 0 1 0 -1.5 0M404.51 185.18a0.75 0.75 0 1 0 1.5 0a0.75 0.75 0 1 0 -1.5 0M404.75 185.31a0.75 0.75 0 1 0 1.5 0a0.75 0.75 0 1 0 -1.5 0M400.74 187.00a0.75 0.75 0 1 0 1.5 0a0.75 0.75 0 1 0 -1.5 0M396.20 173.70a0.75 0.75 0 1 0 1.5 0a0.75 0.75 0 1 0 -1.5 0M393.83 182.44a0.75 0.75 0 1 0 1.5 0a0.75 0.75 0 1 0 -1.5 0M393.66 181.89a0.75 0.75 0 1 0 1.5 0a0.75 0.75 0 1 0 -1.5 0M404.69 189.74a0.75 0.75 0 1 0 1.5 0a0.75 0.75 0 1 0 -1.5 0M407.78 189.04a0.75 0.75 0 1 0 1.5 0a0.75 0.75 0 1 0 -1.5 0M404.53 186.12a0.75 0.75 0 1 0 1.5 0a0.75 0.75 0 1 0 -1.5 0M401.54 177.14a0.75 0.75 0 1 0 1.5 0a0.75 0.75 0 1 0 -1.5 0M404.06 177.14a0.75 0.75 0 1 0 1.5 0a0.75 0.75 0 1 0 -1.5 0M402.76 195.19a0.75 0.75 0 1 0 1.5 0a0.75 0.75 0 1 0 -1.5 0M400.90 173.23a0.75 0.75 0 1 0 1.5 0a0.75 0.75 0 1 0 -1.5 0M407.01 193.49a0.75 0.75 0 1 0 1.5 0a0.75 0.75 0 1 0 -1.5 0M409.28 181.55a0.75 0.75 0 1 0 1.5 0a0.75 0.75 0 1 0 -1.5 0M391.30 174.42a0.75 0.75 0 1 0 1.5 0a0.75 0.75 0 1 0 -1.5 0M422.53 217.65a0.75 0.75 0 1 0 1.5 0a0.75 0.75 0 1 0 -1.5 0M421.84 216.80a0.75 0.75 0 1 0 1.5 0a0.75 0.75 0 1 0 -1.5 0M420.67 215.47a0.75 0.75 0 1 0 1.5 0a0.75 0.75 0 1 0 -1.5 0M424.06 213.41a0.75 0.75 0 1 0 1.5 0a0.75 0.75 0 1 0 -1.5 0M421.61 218.72a0.75 0.75 0 1 0 1.5 0a0.75 0.75 0 1 0 -1.5 0M411.19 204.81a0.75 0.75 0 1 0 1.5 0a0.75 0.75 0 1 0 -1.5 0M414.66 203.64a0.75 0.75 0 1 0 1.5 0a0.75 0.75 0 1 0 -1.5 0M414.60 200.84a0.75 0.75 0 1 0 1.5 0a0.75 0.75 0 1 0 -1.5 0M410.79 203.61a0.75 0.75 0 1 0 1.5 0a0.75 0.75 0 1 0 -1.5 0M414.37 199.75a0.75 0.75 0 1 0 1.5 0a0.75 0.75 0 1 0 -1.5 0M414.61 200.22a0.75 0.75 0 1 0 1.5 0a0.75 0.75 0 1 0 -1.5 0M414.57 197.38a0.75 0.75 0 1 0 1.5 0a0.75 0.75 0 1 0 -1.5 0M417.30 194.14a0.75 0.75 0 1 0 1.5 0a0.75 0.75 0 1 0 -1.5 0M411.64 195.27a0.75 0.75 0 1 0 1.5 0a0.75 0.75 0 1 0 -1.5 0M414.09 196.55a0.75 0.75 0 1 0 1.5 0a0.75 0.75 0 1 0 -1.5 0M415.29 192.33a0.75 0.75 0 1 0 1.5 0a0.75 0.75 0 1 0 -1.5 0M416.76 192.93a0.75 0.75 0 1 0 1.5 0a0.75 0.75 0 1 0 -1.5 0M409.39 207.14a0.75 0.75 0 1 0 1.5 0a0.75 0.75 0 1 0 -1.5 0M414.72 205.44a0.75 0.75 0 1 0 1.5 0a0.75 0.75 0 1 0 -1.5 0M413.06 198.95a0.75 0.75 0 1 0 1.5 0a0.75 0.75 0 1 0 -1.5 0M415.38 201.98a0.75 0.75 0 1 0 1.5 0a0.75 0.75 0 1 0 -1.5 0M411.17 204.16a0.75 0.75 0 1 0 1.5 0a0.75 0.75 0 1 0 -1.5 0M405.66 194.46a0.75 0.75 0 1 0 1.5 0a0.75 0.75 0 1 0 -1.5 0M410.13 194.35a0.75 0.75 0 1 0 1.5 0a0.75 0.75 0 1 0 -1.5 0M409.63 192.03a0.75 0.75 0 1 0 1.5 0a0.75 0.75 0 1 0 -1.5 0M409.88 194.92a0.75 0.75 0 1 0 1.5 0a0.75 0.75 0 1 0 -1.5 0M405.95 199.10a0.75 0.75 0 1 0 1.5 0a0.75 0.75 0 1 0 -1.5 0M408.54 201.16a0.75 0.75 0 1 0 1.5 0a0.75 0.75 0 1 0 -1.5 0M408.14 201.48a0.75 0.75 0 1 0 1.5 0a0.75 0.75 0 1 0 -1.5 0M419.64 216.93a0.75 0.75 0 1 0 1.5 0a0.75 0.75 0 1 0 -1.5 0M416.80 212.05a0.75 0.75 0 1 0 1.5 0a0.75 0.75 0 1 0 -1.5 0M415.59 214.97a0.75 0.75 0 1 0 1.5 0a0.75 0.75 0 1 0 -1.5 0M415.50 214.71a0.75 0.75 0 1 0 1.5 0a0.75 0.75 0 1 0 -1.5 0M418.07 218.31a0.75 0.75 0 1 0 1.5 0a0.75 0.75 0 1 0 -1.5 0M412.69 216.32a0.75 0.75 0 1 0 1.5 0a0.75 0.75 0 1 0 -1.5 0M420.65 210.70a0.75 0.75 0 1 0 1.5 0a0.75 0.75 0 1 0 -1.5 0M415.22 206.48a0.75 0.75 0 1 0 1.5 0a0.75 0.75 0 1 0 -1.5 0M406.06 206.91a0.75 0.75 0 1 0 1.5 0a0.75 0.75 0 1 0 -1.5 0M411.04 210.71a0.75 0.75 0 1 0 1.5 0a0.75 0.75 0 1 0 -1.5 0M411.88 206.77a0.75 0.75 0 1 0 1.5 0a0.75 0.75 0 1 0 -1.5 0M413.74 209.13a0.75 0.75 0 1 0 1.5 0a0.75 0.75 0 1 0 -1.5 0M418.25 209.84a0.75 0.75 0 1 0 1.5 0a0.75 0.75 0 1 0 -1.5 0M416.23 216.17a0.75 0.75 0 1 0 1.5 0a0.75 0.75 0 1 0 -1.5 0M421.71 217.84a0.75 0.75 0 1 0 1.5 0a0.75 0.75 0 1 0 -1.5 0M403.83 210.89a0.75 0.75 0 1 0 1.5 0a0.75 0.75 0 1 0 -1.5 0M415.05 202.80a0.75 0.75 0 1 0 1.5 0a0.75 0.75 0 1 0 -1.5 0M409.88 196.07a0.75 0.75 0 1 0 1.5 0a0.75 0.75 0 1 0 -1.5 0M413.80 212.70a0.75 0.75 0 1 0 1.5 0a0.75 0.75 0 1 0 -1.5 0M421.26 202.06a0.75 0.75 0 1 0 1.5 0a0.75 0.75 0 1 0 -1.5 0M408.57 191.47a0.75 0.75 0 1 0 1.5 0a0.75 0.75 0 1 0 -1.5 0M413.32 195.48a0.75 0.75 0 1 0 1.5 0a0.75 0.75 0 1 0 -1.5 0M414.96 219.22a0.75 0.75 0 1 0 1.5 0a0.75 0.75 0 1 0 -1.5 0M412.04 208.44a0.75 0.75 0 1 0 1.5 0a0.75 0.75 0 1 0 -1.5 0M408.82 216.14a0.75 0.75 0 1 0 1.5 0a0.75 0.75 0 1 0 -1.5 0M408.95 201.50a0.75 0.75 0 1 0 1.5 0a0.75 0.75 0 1 0 -1.5 0M414.61 200.70a0.75 0.75 0 1 0 1.5 0a0.75 0.75 0 1 0 -1.5 0M419.94 195.36a0.75 0.75 0 1 0 1.5 0a0.75 0.75 0 1 0 -1.5 0M409.15 192.48a0.75 0.75 0 1 0 1.5 0a0.75 0.75 0 1 0 -1.5 0M414.61 206.24a0.75 0.75 0 1 0 1.5 0a0.75 0.75 0 1 0 -1.5 0M403.83 203.36a0.75 0.75 0 1 0 1.5 0a0.75 0.75 0 1 0 -1.5 0M407.54 194.08a0.75 0.75 0 1 0 1.5 0a0.75 0.75 0 1 0 -1.5 0M415.24 206.53a0.75 0.75 0 1 0 1.5 0a0.75 0.75 0 1 0 -1.5 0M418.30 188.44a0.75 0.75 0 1 0 1.5 0a0.75 0.75 0 1 0 -1.5 0M422.33 190.15a0.75 0.75 0 1 0 1.5 0a0.75 0.75 0 1 0 -1.5 0M407.24 200.86a0.75 0.75 0 1 0 1.5 0a0.75 0.75 0 1 0 -1.5 0M405.03 194.01a0.75 0.75 0 1 0 1.5 0a0.75 0.75 0 1 0 -1.5 0M407.92 198.44a0.75 0.75 0 1 0 1.5 0a0.75 0.75 0 1 0 -1.5 0M422.89 209.65a0.75 0.75 0 1 0 1.5 0a0.75 0.75 0 1 0 -1.5 0M422.34 201.94a0.75 0.75 0 1 0 1.5 0a0.75 0.75 0 1 0 -1.5 0M412.58 193.60a0.75 0.75 0 1 0 1.5 0a0.75 0.75 0 1 0 -1.5 0M460.07 239.97a0.75 0.75 0 1 0 1.5 0a0.75 0.75 0 1 0 -1.5 0M460.19 237.83a0.75 0.75 0 1 0 1.5 0a0.75 0.75 0 1 0 -1.5 0M460.39 235.14a0.75 0.75 0 1 0 1.5 0a0.75 0.75 0 1 0 -1.5 0M456.44 241.36a0.75 0.75 0 1 0 1.5 0a0.75 0.75 0 1 0 -1.5 0M457.27 237.00a0.75 0.75 0 1 0 1.5 0a0.75 0.75 0 1 0 -1.5 0M451.63 237.57a0.75 0.75 0 1 0 1.5 0a0.75 0.75 0 1 0 -1.5 0M456.21 241.22a0.75 0.75 0 1 0 1.5 0a0.75 0.75 0 1 0 -1.5 0M487.44 230.47a0.75 0.75 0 1 0 1.5 0a0.75 0.75 0 1 0 -1.5 0M486.02 234.49a0.75 0.75 0 1 0 1.5 0a0.75 0.75 0 1 0 -1.5 0M491.80 221.26a0.75 0.75 0 1 0 1.5 0a0.75 0.75 0 1 0 -1.5 0M495.29 223.50a0.75 0.75 0 1 0 1.5 0a0.75 0.75 0 1 0 -1.5 0M494.21 221.12a0.75 0.75 0 1 0 1.5 0a0.75 0.75 0 1 0 -1.5 0M493.96 220.72a0.75 0.75 0 1 0 1.5 0a0.75 0.75 0 1 0 -1.5 0M497.23 224.47a0.75 0.75 0 1 0 1.5 0a0.75 0.75 0 1 0 -1.5 0M492.76 225.41a0.75 0.75 0 1 0 1.5 0a0.75 0.75 0 1 0 -1.5 0M492.67 224.24a0.75 0.75 0 1 0 1.5 0a0.75 0.75 0 1 0 -1.5 0M472.04 236.97a0.75 0.75 0 1 0 1.5 0a0.75 0.75 0 1 0 -1.5 0M469.93 240.35a0.75 0.75 0 1 0 1.5 0a0.75 0.75 0 1 0 -1.5 0M473.07 238.36a0.75 0.75 0 1 0 1.5 0a0.75 0.75 0 1 0 -1.5 0M473.60 240.96a0.75 0.75 0 1 0 1.5 0a0.75 0.75 0 1 0 -1.5 0M468.94 240.03a0.75 0.75 0 1 0 1.5 0a0.75 0.75 0 1 0 -1.5 0M466.38 238.89a0.75 0.75 0 1 0 1.5 0a0.75 0.75 0 1 0 -1.5 0M482.62 231.73a0.75 0.75 0 1 0 1.5 0a0.75 0.75 0 1 0 -1.5 0M478.59 232.55a0.75 0.75 0 1 0 1.5 0a0.75 0.75 0 1 0 -1.5 0M484.15 232.01a0.75 0.75 0 1 0 1.5 0a0.75 0.75 0 1 0 -1.5 0M481.36 234.43a0.75 0.75 0 1 0 1.5 0a0.75 0.75 0 1 0 -1.5 0M504.64 219.86a0.75 0.75 0 1 0 1.5 0a0.75 0.75 0 1 0 -1.5 0M505.35 221.54a0.75 0.75 0 1 0 1.5 0a0.75 0.75 0 1 0 -1.5 0M504.49 221.20a0.75 0.75 0 1 0 1.5 0a0.75 0.75 0 1 0 -1.5 0M505.61 219.75a0.75 0.75 0 1 0 1.5 0a0.75 0.75 0 1 0 -1.5 0M506.59 222.22a0.75 0.75 0 1 0 1.5 0a0.75 0.75 0 1 0 -1.5 0M506.52 221.34a0.75 0.75 0 1 0 1.5 0a0.75 0.75 0 1 0 -1.5 0M505.15 222.17a0.75 0.75 0 1 0 1.5 0a0.75 0.75 0 1 0 -1.5 0M513.64 221.79a0.75 0.75 0 1 0 1.5 0a0.75 0.75 0 1 0 -1.5 0M512.89 221.37a0.75 0.75 0 1 0 1.5 0a0.75 0.75 0 1 0 -1.5 0M516.66 221.92a0.75 0.75 0 1 0 1.5 0a0.75 0.75 0 1 0 -1.5 0M504.07 216.83a0.75 0.75 0 1 0 1.5 0a0.75 0.75 0 1 0 -1.5 0M502.40 216.57a0.75 0.75 0 1 0 1.5 0a0.75 0.75 0 1 0 -1.5 0M499.21 218.70a0.75 0.75 0 1 0 1.5 0a0.75 0.75 0 1 0 -1.5 0M505.44 215.55a0.75 0.75 0 1 0 1.5 0a0.75 0.75 0 1 0 -1.5 0M504.08 217.00a0.75 0.75 0 1 0 1.5 0a0.75 0.75 0 1 0 -1.5 0M424.53 229.97a0.75 0.75 0 1 0 1.5 0a0.75 0.75 0 1 0 -1.5 0M427.17 226.88a0.75 0.75 0 1 0 1.5 0a0.75 0.75 0 1 0 -1.5 0M423.63 228.97a0.75 0.75 0 1 0 1.5 0a0.75 0.75 0 1 0 -1.5 0M428.53 227.94a0.75 0.75 0 1 0 1.5 0a0.75 0.75 0 1 0 -1.5 0M427.77 228.70a0.75 0.75 0 1 0 1.5 0a0.75 0.75 0 1 0 -1.5 0M426.21 226.75a0.75 0.75 0 1 0 1.5 0a0.75 0.75 0 1 0 -1.5 0M426.48 229.34a0.75 0.75 0 1 0 1.5 0a0.75 0.75 0 1 0 -1.5 0M425.32 224.53a0.75 0.75 0 1 0 1.5 0a0.75 0.75 0 1 0 -1.5 0M432.33 231.49a0.75 0.75 0 1 0 1.5 0a0.75 0.75 0 1 0 -1.5 0M435.94 234.31a0.75 0.75 0 1 0 1.5 0a0.75 0.75 0 1 0 -1.5 0M435.40 232.82a0.75 0.75 0 1 0 1.5 0a0.75 0.75 0 1 0 -1.5 0M433.40 232.25a0.75 0.75 0 1 0 1.5 0a0.75 0.75 0 1 0 -1.5 0M491.68 230.47a0.75 0.75 0 1 0 1.5 0a0.75 0.75 0 1 0 -1.5 0M489.40 229.37a0.75 0.75 0 1 0 1.5 0a0.75 0.75 0 1 0 -1.5 0M493.37 228.19a0.75 0.75 0 1 0 1.5 0a0.75 0.75 0 1 0 -1.5 0M442.20 233.52a0.75 0.75 0 1 0 1.5 0a0.75 0.75 0 1 0 -1.5 0M439.44 232.76a0.75 0.75 0 1 0 1.5 0a0.75 0.75 0 1 0 -1.5 0M440.37 235.28a0.75 0.75 0 1 0 1.5 0a0.75 0.75 0 1 0 -1.5 0M437.71 220.63a0.75 0.75 0 1 0 1.5 0a0.75 0.75 0 1 0 -1.5 0M432.14 222.29a0.75 0.75 0 1 0 1.5 0a0.75 0.75 0 1 0 -1.5 0M430.76 221.27a0.75 0.75 0 1 0 1.5 0a0.75 0.75 0 1 0 -1.5 0M486.52 234.70a0.75 0.75 0 1 0 1.5 0a0.75 0.75 0 1 0 -1.5 0M483.94 232.24a0.75 0.75 0 1 0 1.5 0a0.75 0.75 0 1 0 -1.5 0M485.34 232.92a0.75 0.75 0 1 0 1.5 0a0.75 0.75 0 1 0 -1.5 0M484.93 235.74a0.75 0.75 0 1 0 1.5 0a0.75 0.75 0 1 0 -1.5 0M432.29 222.65a0.75 0.75 0 1 0 1.5 0a0.75 0.75 0 1 0 -1.5 0M431.09 225.66a0.75 0.75 0 1 0 1.5 0a0.75 0.75 0 1 0 -1.5 0M435.25 226.41a0.75 0.75 0 1 0 1.5 0a0.75 0.75 0 1 0 -1.5 0M433.60 225.08a0.75 0.75 0 1 0 1.5 0a0.75 0.75 0 1 0 -1.5 0M431.92 223.64a0.75 0.75 0 1 0 1.5 0a0.75 0.75 0 1 0 -1.5 0M432.03 225.69a0.75 0.75 0 1 0 1.5 0a0.75 0.75 0 1 0 -1.5 0M432.56 224.70a0.75 0.75 0 1 0 1.5 0a0.75 0.75 0 1 0 -1.5 0M432.27 225.31a0.75 0.75 0 1 0 1.5 0a0.75 0.75 0 1 0 -1.5 0M523.85 210.13a0.75 0.75 0 1 0 1.5 0a0.75 0.75 0 1 0 -1.5 0M526.47 213.65a0.75 0.75 0 1 0 1.5 0a0.75 0.75 0 1 0 -1.5 0M524.96 213.20a0.75 0.75 0 1 0 1.5 0a0.75 0.75 0 1 0 -1.5 0M522.21 210.79a0.75 0.75 0 1 0 1.5 0a0.75 0.75 0 1 0 -1.5 0M500.89 227.45a0.75 0.75 0 1 0 1.5 0a0.75 0.75 0 1 0 -1.5 0M500.54 226.32a0.75 0.75 0 1 0 1.5 0a0.75 0.75 0 1 0 -1.5 0M498.08 225.59a0.75 0.75 0 1 0 1.5 0a0.75 0.75 0 1 0 -1.5 0M500.53 222.07a0.75 0.75 0 1 0 1.5 0a0.75 0.75 0 1 0 -1.5 0M493.64 224.96a0.75 0.75 0 1 0 1.5 0a0.75 0.75 0 1 0 -1.5 0M494.94 226.91a0.75 0.75 0 1 0 1.5 0a0.75 0.75 0 1 0 -1.5 0M496.37 226.10a0.75 0.75 0 1 0 1.5 0a0.75 0.75 0 1 0 -1.5 0M466.36 236.50a0.75 0.75 0 1 0 1.5 0a0.75 0.75 0 1 0 -1.5 0M469.06 233.84a0.75 0.75 0 1 0 1.5 0a0.75 0.75 0 1 0 -1.5 0M466.28 234.85a0.75 0.75 0 1 0 1.5 0a0.75 0.75 0 1 0 -1.5 0M466.53 236.41a0.75 0.75 0 1 0 1.5 0a0.75 0.75 0 1 0 -1.5 0M447.18 234.41a0.75 0.75 0 1 0 1.5 0a0.75 0.75 0 1 0 -1.5 0M449.83 235.69a0.75 0.75 0 1 0 1.5 0a0.75 0.75 0 1 0 -1.5 0M449.79 239.45a0.75 0.75 0 1 0 1.5 0a0.75 0.75 0 1 0 -1.5 0M447.74 234.28a0.75 0.75 0 1 0 1.5 0a0.75 0.75 0 1 0 -1.5 0M449.45 236.04a0.75 0.75 0 1 0 1.5 0a0.75 0.75 0 1 0 -1.5 0M425.29 222.82a0.75 0.75 0 1 0 1.5 0a0.75 0.75 0 1 0 -1.5 0M422.01 220.67a0.75 0.75 0 1 0 1.5 0a0.75 0.75 0 1 0 -1.5 0M424.31 223.29a0.75 0.75 0 1 0 1.5 0a0.75 0.75 0 1 0 -1.5 0M466.60 233.45a0.75 0.75 0 1 0 1.5 0a0.75 0.75 0 1 0 -1.5 0M468.69 234.58a0.75 0.75 0 1 0 1.5 0a0.75 0.75 0 1 0 -1.5 0M465.66 234.86a0.75 0.75 0 1 0 1.5 0a0.75 0.75 0 1 0 -1.5 0M468.48 232.79a0.75 0.75 0 1 0 1.5 0a0.75 0.75 0 1 0 -1.5 0M425.42 229.52a0.75 0.75 0 1 0 1.5 0a0.75 0.75 0 1 0 -1.5 0M424.84 223.65a0.75 0.75 0 1 0 1.5 0a0.75 0.75 0 1 0 -1.5 0M425.41 227.46a0.75 0.75 0 1 0 1.5 0a0.75 0.75 0 1 0 -1.5 0M422.68 226.55a0.75 0.75 0 1 0 1.5 0a0.75 0.75 0 1 0 -1.5 0M427.94 226.14a0.75 0.75 0 1 0 1.5 0a0.75 0.75 0 1 0 -1.5 0M474.31 236.80a0.75 0.75 0 1 0 1.5 0a0.75 0.75 0 1 0 -1.5 0M477.37 237.40a0.75 0.75 0 1 0 1.5 0a0.75 0.75 0 1 0 -1.5 0M475.36 232.05a0.75 0.75 0 1 0 1.5 0a0.75 0.75 0 1 0 -1.5 0M478.33 233.77a0.75 0.75 0 1 0 1.5 0a0.75 0.75 0 1 0 -1.5 0M413.96 216.96a0.75 0.75 0 1 0 1.5 0a0.75 0.75 0 1 0 -1.5 0M418.23 214.79a0.75 0.75 0 1 0 1.5 0a0.75 0.75 0 1 0 -1.5 0M416.81 217.51a0.75 0.75 0 1 0 1.5 0a0.75 0.75 0 1 0 -1.5 0M415.75 216.17a0.75 0.75 0 1 0 1.5 0a0.75 0.75 0 1 0 -1.5 0M413.96 217.69a0.75 0.75 0 1 0 1.5 0a0.75 0.75 0 1 0 -1.5 0M415.22 212.16a0.75 0.75 0 1 0 1.5 0a0.75 0.75 0 1 0 -1.5 0M447.62 238.72a0.75 0.75 0 1 0 1.5 0a0.75 0.75 0 1 0 -1.5 0M456.84 229.45a0.75 0.75 0 1 0 1.5 0a0.75 0.75 0 1 0 -1.5 0M456.07 235.38a0.75 0.75 0 1 0 1.5 0a0.75 0.75 0 1 0 -1.5 0M454.44 236.04a0.75 0.75 0 1 0 1.5 0a0.75 0.75 0 1 0 -1.5 0M451.66 234.49a0.75 0.75 0 1 0 1.5 0a0.75 0.75 0 1 0 -1.5 0M448.12 236.47a0.75 0.75 0 1 0 1.5 0a0.75 0.75 0 1 0 -1.5 0M454.05 237.39a0.75 0.75 0 1 0 1.5 0a0.75 0.75 0 1 0 -1.5 0M452.22 237.43a0.75 0.75 0 1 0 1.5 0a0.75 0.75 0 1 0 -1.5 0M448.86 236.76a0.75 0.75 0 1 0 1.5 0a0.75 0.75 0 1 0 -1.5 0M452.13 235.24a0.75 0.75 0 1 0 1.5 0a0.75 0.75 0 1 0 -1.5 0M443.43 235.93a0.75 0.75 0 1 0 1.5 0a0.75 0.75 0 1 0 -1.5 0M439.24 232.91a0.75 0.75 0 1 0 1.5 0a0.75 0.75 0 1 0 -1.5 0M443.05 230.79a0.75 0.75 0 1 0 1.5 0a0.75 0.75 0 1 0 -1.5 0M439.51 230.10a0.75 0.75 0 1 0 1.5 0a0.75 0.75 0 1 0 -1.5 0M443.19 231.47a0.75 0.75 0 1 0 1.5 0a0.75 0.75 0 1 0 -1.5 0M449.38 228.20a0.75 0.75 0 1 0 1.5 0a0.75 0.75 0 1 0 -1.5 0M449.84 233.13a0.75 0.75 0 1 0 1.5 0a0.75 0.75 0 1 0 -1.5 0M451.81 229.31a0.75 0.75 0 1 0 1.5 0a0.75 0.75 0 1 0 -1.5 0M455.96 232.33a0.75 0.75 0 1 0 1.5 0a0.75 0.75 0 1 0 -1.5 0M448.28 228.76a0.75 0.75 0 1 0 1.5 0a0.75 0.75 0 1 0 -1.5 0M448.61 230.14a0.75 0.75 0 1 0 1.5 0a0.75 0.75 0 1 0 -1.5 0M448.83 229.14a0.75 0.75 0 1 0 1.5 0a0.75 0.75 0 1 0 -1.5 0M453.75 236.94a0.75 0.75 0 1 0 1.5 0a0.75 0.75 0 1 0 -1.5 0M453.03 236.78a0.75 0.75 0 1 0 1.5 0a0.75 0.75 0 1 0 -1.5 0M453.66 236.86a0.75 0.75 0 1 0 1.5 0a0.75 0.75 0 1 0 -1.5 0M453.71 234.59a0.75 0.75 0 1 0 1.5 0a0.75 0.75 0 1 0 -1.5 0M428.77 231.17a0.75 0.75 0 1 0 1.5 0a0.75 0.75 0 1 0 -1.5 0M430.31 228.19a0.75 0.75 0 1 0 1.5 0a0.75 0.75 0 1 0 -1.5 0M427.99 229.82a0.75 0.75 0 1 0 1.5 0a0.75 0.75 0 1 0 -1.5 0M427.43 233.61a0.75 0.75 0 1 0 1.5 0a0.75 0.75 0 1 0 -1.5 0M428.32 234.74a0.75 0.75 0 1 0 1.5 0a0.75 0.75 0 1 0 -1.5 0M465.28 236.45a0.75 0.75 0 1 0 1.5 0a0.75 0.75 0 1 0 -1.5 0M463.55 233.09a0.75 0.75 0 1 0 1.5 0a0.75 0.75 0 1 0 -1.5 0M462.46 232.15a0.75 0.75 0 1 0 1.5 0a0.75 0.75 0 1 0 -1.5 0M465.18 234.73a0.75 0.75 0 1 0 1.5 0a0.75 0.75 0 1 0 -1.5 0M447.11 236.31a0.75 0.75 0 1 0 1.5 0a0.75 0.75 0 1 0 -1.5 0M446.74 236.51a0.75 0.75 0 1 0 1.5 0a0.75 0.75 0 1 0 -1.5 0M445.27 237.21a0.75 0.75 0 1 0 1.5 0a0.75 0.75 0 1 0 -1.5 0M444.79 236.87a0.75 0.75 0 1 0 1.5 0a0.75 0.75 0 1 0 -1.5 0M476.07 230.04a0.75 0.75 0 1 0 1.5 0a0.75 0.75 0 1 0 -1.5 0M471.53 233.49a0.75 0.75 0 1 0 1.5 0a0.75 0.75 0 1 0 -1.5 0M471.99 231.66a0.75 0.75 0 1 0 1.5 0a0.75 0.75 0 1 0 -1.5 0M472.15 232.76a0.75 0.75 0 1 0 1.5 0a0.75 0.75 0 1 0 -1.5 0M472.79 231.61a0.75 0.75 0 1 0 1.5 0a0.75 0.75 0 1 0 -1.5 0M412.44 219.40a0.75 0.75 0 1 0 1.5 0a0.75 0.75 0 1 0 -1.5 0M481.27 232.55a0.75 0.75 0 1 0 1.5 0a0.75 0.75 0 1 0 -1.5 0M453.62 240.97a0.75 0.75 0 1 0 1.5 0a0.75 0.75 0 1 0 -1.5 0M450.86 241.96a0.75 0.75 0 1 0 1.5 0a0.75 0.75 0 1 0 -1.5 0M418.33 209.63a0.75 0.75 0 1 0 1.5 0a0.75 0.75 0 1 0 -1.5 0M463.75 232.04a0.75 0.75 0 1 0 1.5 0a0.75 0.75 0 1 0 -1.5 0M452.78 233.08a0.75 0.75 0 1 0 1.5 0a0.75 0.75 0 1 0 -1.5 0M424.46 220.54a0.75 0.75 0 1 0 1.5 0a0.75 0.75 0 1 0 -1.5 0M500.49 229.31a0.75 0.75 0 1 0 1.5 0a0.75 0.75 0 1 0 -1.5 0M474.75 232.50a0.75 0.75 0 1 0 1.5 0a0.75 0.75 0 1 0 -1.5 0M480.46 232.03a0.75 0.75 0 1 0 1.5 0a0.75 0.75 0 1 0 -1.5 0M431.39 231.15a0.75 0.75 0 1 0 1.5 0a0.75 0.75 0 1 0 -1.5 0M410.06 216.63a0.75 0.75 0 1 0 1.5 0a0.75 0.75 0 1 0 -1.5 0M444.34 234.65a0.75 0.75 0 1 0 1.5 0a0.75 0.75 0 1 0 -1.5 0M512.27 217.27a0.75 0.75 0 1 0 1.5 0a0.75 0.75 0 1 0 -1.5 0M501.29 219.24a0.75 0.75 0 1 0 1.5 0a0.75 0.75 0 1 0 -1.5 0M431.56 230.82a0.75 0.75 0 1 0 1.5 0a0.75 0.75 0 1 0 -1.5 0M431.71 234.64a0.75 0.75 0 1 0 1.5 0a0.75 0.75 0 1 0 -1.5 0M501.86 226.71a0.75 0.75 0 1 0 1.5 0a0.75 0.75 0 1 0 -1.5 0M504.48 228.60a0.75 0.75 0 1 0 1.5 0a0.75 0.75 0 1 0 -1.5 0M417.66 204.55a0.75 0.75 0 1 0 1.5 0a0.75 0.75 0 1 0 -1.5 0M481.73 233.88a0.75 0.75 0 1 0 1.5 0a0.75 0.75 0 1 0 -1.5 0M459.28 237.86a0.75 0.75 0 1 0 1.5 0a0.75 0.75 0 1 0 -1.5 0M503.21 212.70a0.75 0.75 0 1 0 1.5 0a0.75 0.75 0 1 0 -1.5 0M487.33 232.22a0.75 0.75 0 1 0 1.5 0a0.75 0.75 0 1 0 -1.5 0M425.63 217.64a0.75 0.75 0 1 0 1.5 0a0.75 0.75 0 1 0 -1.5 0M488.69 225.92a0.75 0.75 0 1 0 1.5 0a0.75 0.75 0 1 0 -1.5 0M418.19 221.26a0.75 0.75 0 1 0 1.5 0a0.75 0.75 0 1 0 -1.5 0M451.11 234.41a0.75 0.75 0 1 0 1.5 0a0.75 0.75 0 1 0 -1.5 0M414.92 215.96a0.75 0.75 0 1 0 1.5 0a0.75 0.75 0 1 0 -1.5 0M420.73 223.23a0.75 0.75 0 1 0 1.5 0a0.75 0.75 0 1 0 -1.5 0M447.70 229.43a0.75 0.75 0 1 0 1.5 0a0.75 0.75 0 1 0 -1.5 0M461.01 231.96a0.75 0.75 0 1 0 1.5 0a0.75 0.75 0 1 0 -1.5 0M473.97 232.52a0.75 0.75 0 1 0 1.5 0a0.75 0.75 0 1 0 -1.5 0M481.16 237.72a0.75 0.75 0 1 0 1.5 0a0.75 0.75 0 1 0 -1.5 0M453.51 235.69a0.75 0.75 0 1 0 1.5 0a0.75 0.75 0 1 0 -1.5 0M440.12 240.43a0.75 0.75 0 1 0 1.5 0a0.75 0.75 0 1 0 -1.5 0M468.41 236.61a0.75 0.75 0 1 0 1.5 0a0.75 0.75 0 1 0 -1.5 0M412.52 216.60a0.75 0.75 0 1 0 1.5 0a0.75 0.75 0 1 0 -1.5 0M470.38 234.40a0.75 0.75 0 1 0 1.5 0a0.75 0.75 0 1 0 -1.5 0M514.27 215.36a0.75 0.75 0 1 0 1.5 0a0.75 0.75 0 1 0 -1.5 0M452.52 235.15a0.75 0.75 0 1 0 1.5 0a0.75 0.75 0 1 0 -1.5 0M415.08 217.21a0.75 0.75 0 1 0 1.5 0a0.75 0.75 0 1 0 -1.5 0M493.90 226.72a0.75 0.75 0 1 0 1.5 0a0.75 0.75 0 1 0 -1.5 0M432.03 232.45a0.75 0.75 0 1 0 1.5 0a0.75 0.75 0 1 0 -1.5 0M474.19 233.57a0.75 0.75 0 1 0 1.5 0a0.75 0.75 0 1 0 -1.5 0M507.83 222.88a0.75 0.75 0 1 0 1.5 0a0.75 0.75 0 1 0 -1.5 0M413.95 213.97a0.75 0.75 0 1 0 1.5 0a0.75 0.75 0 1 0 -1.5 0M414.82 209.99a0.75 0.75 0 1 0 1.5 0a0.75 0.75 0 1 0 -1.5 0M462.52 233.31a0.75 0.75 0 1 0 1.5 0a0.75 0.75 0 1 0 -1.5 0M418.06 220.73a0.75 0.75 0 1 0 1.5 0a0.75 0.75 0 1 0 -1.5 0M460.52 238.87a0.75 0.75 0 1 0 1.5 0a0.75 0.75 0 1 0 -1.5 0M478.56 233.54a0.75 0.75 0 1 0 1.5 0a0.75 0.75 0 1 0 -1.5 0M455.98 226.03a0.75 0.75 0 1 0 1.5 0a0.75 0.75 0 1 0 -1.5 0M414.51 213.96a0.75 0.75 0 1 0 1.5 0a0.75 0.75 0 1 0 -1.5 0M466.85 239.02a0.75 0.75 0 1 0 1.5 0a0.75 0.75 0 1 0 -1.5 0M421.85 210.13a0.75 0.75 0 1 0 1.5 0a0.75 0.75 0 1 0 -1.5 0M489.21 238.28a0.75 0.75 0 1 0 1.5 0a0.75 0.75 0 1 0 -1.5 0M438.75 236.15a0.75 0.75 0 1 0 1.5 0a0.75 0.75 0 1 0 -1.5 0M456.63 230.50a0.75 0.75 0 1 0 1.5 0a0.75 0.75 0 1 0 -1.5 0M447.60 238.14a0.75 0.75 0 1 0 1.5 0a0.75 0.75 0 1 0 -1.5 0M498.17 216.14a0.75 0.75 0 1 0 1.5 0a0.75 0.75 0 1 0 -1.5 0M491.25 220.82a0.75 0.75 0 1 0 1.5 0a0.75 0.75 0 1 0 -1.5 0M471.59 234.12a0.75 0.75 0 1 0 1.5 0a0.75 0.75 0 1 0 -1.5 0M431.28 228.42a0.75 0.75 0 1 0 1.5 0a0.75 0.75 0 1 0 -1.5 0M444.71 238.05a0.75 0.75 0 1 0 1.5 0a0.75 0.75 0 1 0 -1.5 0M422.40 221.26a0.75 0.75 0 1 0 1.5 0a0.75 0.75 0 1 0 -1.5 0M446.14 242.49a0.75 0.75 0 1 0 1.5 0a0.75 0.75 0 1 0 -1.5 0M519.66 217.02a0.75 0.75 0 1 0 1.5 0a0.75 0.75 0 1 0 -1.5 0M482.59 233.19a0.75 0.75 0 1 0 1.5 0a0.75 0.75 0 1 0 -1.5 0M467.25 235.17a0.75 0.75 0 1 0 1.5 0a0.75 0.75 0 1 0 -1.5 0M510.24 211.88a0.75 0.75 0 1 0 1.5 0a0.75 0.75 0 1 0 -1.5 0M482.16 228.89a0.75 0.75 0 1 0 1.5 0a0.75 0.75 0 1 0 -1.5 0M460.29 235.71a0.75 0.75 0 1 0 1.5 0a0.75 0.75 0 1 0 -1.5 0M430.98 224.23a0.75 0.75 0 1 0 1.5 0a0.75 0.75 0 1 0 -1.5 0M432.50 230.81a0.75 0.75 0 1 0 1.5 0a0.75 0.75 0 1 0 -1.5 0M437.89 232.51a0.75 0.75 0 1 0 1.5 0a0.75 0.75 0 1 0 -1.5 0M484.84 232.38a0.75 0.75 0 1 0 1.5 0a0.75 0.75 0 1 0 -1.5 0M479.36 234.65a0.75 0.75 0 1 0 1.5 0a0.75 0.75 0 1 0 -1.5 0M413.58 209.60a0.75 0.75 0 1 0 1.5 0a0.75 0.75 0 1 0 -1.5 0M407.58 208.82a0.75 0.75 0 1 0 1.5 0a0.75 0.75 0 1 0 -1.5 0M419.52 213.16a0.75 0.75 0 1 0 1.5 0a0.75 0.75 0 1 0 -1.5 0M455.57 239.61a0.75 0.75 0 1 0 1.5 0a0.75 0.75 0 1 0 -1.5 0M456.65 232.74a0.75 0.75 0 1 0 1.5 0a0.75 0.75 0 1 0 -1.5 0M480.98 234.57a0.75 0.75 0 1 0 1.5 0a0.75 0.75 0 1 0 -1.5 0M416.91 218.28a0.75 0.75 0 1 0 1.5 0a0.75 0.75 0 1 0 -1.5 0M447.84 230.80a0.75 0.75 0 1 0 1.5 0a0.75 0.75 0 1 0 -1.5 0M414.78 212.77a0.75 0.75 0 1 0 1.5 0a0.75 0.75 0 1 0 -1.5 0M461.19 230.68a0.75 0.75 0 1 0 1.5 0a0.75 0.75 0 1 0 -1.5 0M417.35 215.57a0.75 0.75 0 1 0 1.5 0a0.75 0.75 0 1 0 -1.5 0M442.69 241.76a0.75 0.75 0 1 0 1.5 0a0.75 0.75 0 1 0 -1.5 0M511.32 215.85a0.75 0.75 0 1 0 1.5 0a0.75 0.75 0 1 0 -1.5 0M432.84 229.43a0.75 0.75 0 1 0 1.5 0a0.75 0.75 0 1 0 -1.5 0M452.79 223.72a0.75 0.75 0 1 0 1.5 0a0.75 0.75 0 1 0 -1.5 0M424.23 222.09a0.75 0.75 0 1 0 1.5 0a0.75 0.75 0 1 0 -1.5 0M504.59 217.48a0.75 0.75 0 1 0 1.5 0a0.75 0.75 0 1 0 -1.5 0M428.26 227.28a0.75 0.75 0 1 0 1.5 0a0.75 0.75 0 1 0 -1.5 0M486.02 227.95a0.75 0.75 0 1 0 1.5 0a0.75 0.75 0 1 0 -1.5 0M490.72 231.42a0.75 0.75 0 1 0 1.5 0a0.75 0.75 0 1 0 -1.5 0M416.78 220.60a0.75 0.75 0 1 0 1.5 0a0.75 0.75 0 1 0 -1.5 0M506.49 222.12a0.75 0.75 0 1 0 1.5 0a0.75 0.75 0 1 0 -1.5 0M464.05 236.33a0.75 0.75 0 1 0 1.5 0a0.75 0.75 0 1 0 -1.5 0M416.92 213.70a0.75 0.75 0 1 0 1.5 0a0.75 0.75 0 1 0 -1.5 0M494.81 226.69a0.75 0.75 0 1 0 1.5 0a0.75 0.75 0 1 0 -1.5 0M514.46 217.54a0.75 0.75 0 1 0 1.5 0a0.75 0.75 0 1 0 -1.5 0M510.42 219.61a0.75 0.75 0 1 0 1.5 0a0.75 0.75 0 1 0 -1.5 0M442.08 235.79a0.75 0.75 0 1 0 1.5 0a0.75 0.75 0 1 0 -1.5 0M477.92 238.97a0.75 0.75 0 1 0 1.5 0a0.75 0.75 0 1 0 -1.5 0M490.04 222.17a0.75 0.75 0 1 0 1.5 0a0.75 0.75 0 1 0 -1.5 0M504.92 230.99a0.75 0.75 0 1 0 1.5 0a0.75 0.75 0 1 0 -1.5 0M511.49 214.30a0.75 0.75 0 1 0 1.5 0a0.75 0.75 0 1 0 -1.5 0M415.99 213.83a0.75 0.75 0 1 0 1.5 0a0.75 0.75 0 1 0 -1.5 0M516.51 215.26a0.75 0.75 0 1 0 1.5 0a0.75 0.75 0 1 0 -1.5 0M466.97 231.55a0.75 0.75 0 1 0 1.5 0a0.75 0.75 0 1 0 -1.5 0M513.18 217.00a0.75 0.75 0 1 0 1.5 0a0.75 0.75 0 1 0 -1.5 0M469.49 238.06a0.75 0.75 0 1 0 1.5 0a0.75 0.75 0 1 0 -1.5 0M427.31 222.39a0.75 0.75 0 1 0 1.5 0a0.75 0.75 0 1 0 -1.5 0M520.87 213.51a0.75 0.75 0 1 0 1.5 0a0.75 0.75 0 1 0 -1.5 0M423.41 220.85a0.75 0.75 0 1 0 1.5 0a0.75 0.75 0 1 0 -1.5 0M435.52 231.35a0.75 0.75 0 1 0 1.5 0a0.75 0.75 0 1 0 -1.5 0" fill="#1414ff" fill-opacity="0.9"/><path d="M569.09 132.61a0.75 0.75 0 1 0 1.5 0a0.75 0.75 0 1 0 -1.5 0M571.38 133.37a0.75 0.75 0 1 0 1.5 0a0.75 0.75 0 1 0 -1.5 0M565.87 131.99a0.75 0.75 0 1 0 1.5 0a0.75 0.75 0 1 0 -1.5 0M565.25 130.40a0.75 0.75 0 1 0 1.5 0a0.75 0.75 0 1 0 -1.5 0M568.40 134.44a0.75 0.75 0 1 0 1.5 0a0.75 0.75 0 1 0 -1.5 0M568.01 123.97a0.75 0.75 0 1 0 1.5 0a0.75 0.75 0 1 0 -1.5 0M570.01 122.06a0.75 0.75 0 1 0 1.5 0a0.75 0.75 0 1 0 -1.5 0M572.29 117.22a0.75 0.75 0 1 0 1.5 0a0.75 0.75 0 1 0 -1.5 0M567.01 131.63a0.75 0.75 0 1 0 1.5 0a0.75 0.75 0 1 0 -1.5 0M570.76 123.04a0.75 0.75 0 1 0 1.5 0a0.75 0.75 0 1 0 -1.5 0M568.89 128.42a0.75 0.75 0 1 0 1.5 0a0.75 0.75 0 1 0 -1.5 0M569.37 126.81a0.75 0.75 0 1 0 1.5 0a0.75 0.75 0 1 0 -1.5 0M571.00 120.68a0.75 0.75 0 1 0 1.5 0a0.75 0.75 0 1 0 -1.5 0M569.85 132.25a0.75 0.75 0 1 0 1.5 0a0.75 0.75 0 1 0 -1.5 0M570.57 117.83a0.75 0.75 0 1 0 1.5 0a0.75 0.75 0 1 0 -1.5 0M569.20 117.02a0.75 0.75 0 1 0 1.5 0a0.75 0.75 0 1 0 -1.5 0M569.23 128.30a0.75 0.75 0 1 0 1.5 0a0.75 0.75 0 1 0 -1.5 0M569.03 122.96a0.75 0.75 0 1 0 1.5 0a0.75 0.75 0 1 0 -1.5 0M571.98 116.81a0.75 0.75 0 1 0 1.5 0a0.75 0.75 0 1 0 -1.5 0M571.35 115.04a0.75 0.75 0 1 0 1.5 0a0.75 0.75 0 1 0 -1.5 0M570.85 119.68a0.75 0.75 0 1 0 1.5 0a0.75 0.75 0 1 0 -1.5 0M567.78 125.63a0.75 0.75 0 1 0 1.5 0a0.75 0.75 0 1 0 -1.5 0M588.58 165.76a0.75 0.75 0 1 0 1.5 0a0.75 0.75 0 1 0 -1.5 0M590.00 157.91a0.75 0.75 0 1 0 1.5 0a0.75 0.75 0 1 0 -1.5 0M587.17 166.03a0.75 0.75 0 1 0 1.5 0a0.75 0.75 0 1 0 -1.5 0M591.39 162.96a0.75 0.75 0 1 0 1.5 0a0.75 0.75 0 1 0 -1.5 0M589.85 158.50a0.75 0.75 0 1 0 1.5 0a0.75 0.75 0 1 0 -1.5 0M592.55 160.26a0.75 0.75 0 1 0 1.5 0a0.75 0.75 0 1 0 -1.5 0M592.21 158.34a0.75 0.75 0 1 0 1.5 0a0.75 0.75 0 1 0 -1.5 0M591.90 155.79a0.75 0.75 0 1 0 1.5 0a0.75 0.75 0 1 0 -1.5 0M591.40 159.07a0.75 0.75 0 1 0 1.5 0a0.75 0.75 0 1 0 -1.5 0M588.90 156.61a0.75 0.75 0 1 0 1.5 0a0.75 0.75 0 1 0 -1.5 0M592.65 156.26a0.75 0.75 0 1 0 1.5 0a0.75 0.75 0 1 0 -1.5 0M590.26 167.71a0.75 0.75 0 1 0 1.5 0a0.75 0.75 0 1 0 -1.5 0M590.24 163.37a0.75 0.75 0 1 0 1.5 0a0.75 0.75 0 1 0 -1.5 0M592.24 151.32a0.75 0.75 0 1 0 1.5 0a0.75 0.75 0 1 0 -1.5 0M589.46 152.64a0.75 0.75 0 1 0 1.5 0a0.75 0.75 0 1 0 -1.5 0M586.61 166.45a0.75 0.75 0 1 0 1.5 0a0.75 0.75 0 1 0 -1.5 0M590.96 163.77a0.75 0.75 0 1 0 1.5 0a0.75 0.75 0 1 0 -1.5 0M590.19 168.55a0.75 0.75 0 1 0 1.5 0a0.75 0.75 0 1 0 -1.5 0M591.71 156.36a0.75 0.75 0 1 0 1.5 0a0.75 0.75 0 1 0 -1.5 0M591.76 166.66a0.75 0.75 0 1 0 1.5 0a0.75 0.75 0 1 0 -1.5 0M589.17 164.77a0.75 0.75 0 1 0 1.5 0a0.75 0.75 0 1 0 -1.5 0M593.22 153.28a0.75 0.75 0 1 0 1.5 0a0.75 0.75 0 1 0 -1.5 0M590.97 164.31a0.75 0.75 0 1 0 1.5 0a0.75 0.75 0 1 0 -1.5 0M586.74 167.64a0.75 0.75 0 1 0 1.5 0a0.75 0.75 0 1 0 -1.5 0M590.09 161.69a0.75 0.75 0 1 0 1.5 0a0.75 0.75 0 1 0 -1.5 0M588.90 162.85a0.75 0.75 0 1 0 1.5 0a0.75 0.75 0 1 0 -1.5 0M592.54 159.68a0.75 0.75 0 1 0 1.5 0a0.75 0.75 0 1 0 -1.5 0M589.34 163.98a0.75 0.75 0 1 0 1.5 0a0.75 0.75 0 1 0 -1.5 0M537.05 172.94a0.75 0.75 0 1 0 1.5 0a0.75 0.75 0 1 0 -1.5 0M540.03 167.64a0.75 0.75 0 1 0 1.5 0a0.75 0.75 0 1 0 -1.5 0M537.61 175.46a0.75 0.75 0 1 0 1.5 0a0.75 0.75 0 1 0 -1.5 0M539.35 169.74a0.75 0.75 0 1 0 1.5 0a0.75 0.75 0 1 0 -1.5 0M535.30 176.20a0.75 0.75 0 1 0 1.5 0a0.75 0.75 0 1 0 -1.5 0M538.18 173.86a0.75 0.75 0 1 0 1.5 0a0.75 0.75 0 1 0 -1.5 0M536.23 173.64a0.75 0.75 0 1 0 1.5 0a0.75 0.75 0 1 0 -1.5 0M540.53 167.05a0.75 0.75 0 1 0 1.5 0a0.75 0.75 0 1 0 -1.5 0M538.44 170.43a0.75 0.75 0 1 0 1.5 0a0.75 0.75 0 1 0 -1.5 0M539.69 167.16a0.75 0.75 0 1 0 1.5 0a0.75 0.75 0 1 0 -1.5 0M543.01 168.12a0.75 0.75 0 1 0 1.5 0a0.75 0.75 0 1 0 -1.5 0M539.37 169.72a0.75 0.75 0 1 0 1.5 0a0.75 0.75 0 1 0 -1.5 0M535.14 168.24a0.75 0.75 0 1 0 1.5 0a0.75 0.75 0 1 0 -1.5 0M539.52 170.15a0.75 0.75 0 1 0 1.5 0a0.75 0.75 0 1 0 -1.5 0M535.88 175.68a0.75 0.75 0 1 0 1.5 0a0.75 0.75 0 1 0 -1.5 0M536.22 174.83a0.75 0.75 0 1 0 1.5 0a0.75 0.75 0 1 0 -1.5 0M519.02 208.37a0.75 0.75 0 1 0 1.5 0a0.75 0.75 0 1 0 -1.5 0M526.70 205.29a0.75 0.75 0 1 0 1.5 0a0.75 0.75 0 1 0 -1.5 0M522.80 208.44a0.75 0.75 0 1 0 1.5 0a0.75 0.75 0 1 0 -1.5 0M521.94 208.52a0.75 0.75 0 1 0 1.5 0a0.75 0.75 0 1 0 -1.5 0M518.63 211.75a0.75 0.75 0 1 0 1.5 0a0.75 0.75 0 1 0 -1.5 0M523.27 208.53a0.75 0.75 0 1 0 1.5 0a0.75 0.75 0 1 0 -1.5 0M518.82 213.50a0.75 0.75 0 1 0 1.5 0a0.75 0.75 0 1 0 -1.5 0M520.81 209.57a0.75 0.75 0 1 0 1.5 0a0.75 0.75 0 1 0 -1.5 0M526.37 204.13a0.75 0.75 0 1 0 1.5 0a0.75 0.75 0 1 0 -1.5 0M525.53 204.26a0.75 0.75 0 1 0 1.5 0a0.75 0.75 0 1 0 -1.5 0M527.54 200.92a0.75 0.75 0 1 0 1.5 0a0.75 0.75 0 1 0 -1.5 0M523.05 207.70a0.75 0.75 0 1 0 1.5 0a0.75 0.75 0 1 0 -1.5 0M522.93 207.19a0.75 0.75 0 1 0 1.5 0a0.75 0.75 0 1 0 -1.5 0M525.02 205.57a0.75 0.75 0 1 0 1.5 0a0.75 0.75 0 1 0 -1.5 0M519.97 211.29a0.75 0.75 0 1 0 1.5 0a0.75 0.75 0 1 0 -1.5 0M520.91 212.61a0.75 0.75 0 1 0 1.5 0a0.75 0.75 0 1 0 -1.5 0M523.03 207.23a0.75 0.75 0 1 0 1.5 0a0.75 0.75 0 1 0 -1.5 0M523.13 205.87a0.75 0.75 0 1 0 1.5 0a0.75 0.75 0 1 0 -1.5 0" fill="#ff0000" fill-opacity="0.8"/><path d="M570.70 113.70L573.30 116.30M570.70 116.30L573.30 113.70M571.60 135.90L574.20 138.50M571.60 138.50L574.20 135.90M590.20 150.10L592.80 152.70M590.20 152.70L592.80 150.10M591.10 155.40L593.70 158.00M591.10 158.00L593.70 155.40M589.20 161.70L591.80 164.30M589.20 164.30L591.80 161.70M536.20 168.70L538.80 171.30M536.20 171.30L538.80 168.70M527.30 197.00L529.90 199.60M527.30 199.60L529.90 197.00M526.40 202.40L529.00 205.00M526.40 205.00L529.00 202.40M517.60 212.10L520.20 214.70M517.60 214.70L520.20 212.10M567.70 129.70L570.30 132.30M567.70 132.30L570.30 129.70" stroke="#ff1010" stroke-width="1.0" fill="none"/><rect x="187.2" y="33.6" width="92.1" height="47.3" rx="2.5" fill="rgba(255,255,255,0.8)" stroke="#d9d9d9" stroke-width="1"/><rect x="59.3" y="28.5" width="224.7" height="223" fill="none" stroke="#151515" stroke-width="1.05"/><line x1="75.78" y1="251.5" x2="75.78" y2="255" stroke="#151515" stroke-width="1.0"/><text transform="translate(65.69,266.6) scale(1.1534,1)" font-family='"Liberation Sans", sans-serif' font-size="10.45" fill="#000" stroke="#000" stroke-width="0.12" >−40</text><line x1="116.14" y1="251.5" x2="116.14" y2="255" stroke="#151515" stroke-width="1.0"/><text transform="translate(106.05,266.6) scale(1.1534,1)" font-family='"Liberation Sans", sans-serif' font-size="10.45" fill="#000" stroke="#000" stroke-width="0.12" >−20</text><line x1="156.5" y1="251.5" x2="156.5" y2="255" stroke="#151515" stroke-width="1.0"/><text transform="translate(153.57,266.6) scale(1.0087,1)" font-family='"Liberation Sans", sans-serif' font-size="10.45" fill="#000" stroke="#000" stroke-width="0.12" >0</text><line x1="196.86" y1="251.5" x2="196.86" y2="255" stroke="#151515" stroke-width="1.0"/><text transform="translate(190.67,266.6) scale(1.0597,1)" font-family='"Liberation Sans", sans-serif' font-size="10.45" fill="#000" stroke="#000" stroke-width="0.12" >20</text><line x1="237.22" y1="251.5" x2="237.22" y2="255" stroke="#151515" stroke-width="1.0"/><text transform="translate(231.09,266.6) scale(1.0544,1)" font-family='"Liberation Sans", sans-serif' font-size="10.45" fill="#000" stroke="#000" stroke-width="0.12" >40</text><line x1="277.58" y1="251.5" x2="277.58" y2="255" stroke="#151515" stroke-width="1.0"/><text transform="translate(271.35,266.6) scale(1.0634,1)" font-family='"Liberation Sans", sans-serif' font-size="10.45" fill="#000" stroke="#000" stroke-width="0.12" >60</text><line x1="55.8" y1="225.1" x2="59.3" y2="225.1" stroke="#151515" stroke-width="1.0"/><text transform="translate(31.66,229.55) scale(1.1534,1)" font-family='"Liberation Sans", sans-serif' font-size="10.45" fill="#000" stroke="#000" stroke-width="0.12" >−40</text><line x1="55.8" y1="179.9" x2="59.3" y2="179.9" stroke="#151515" stroke-width="1.0"/><text transform="translate(31.66,184.35) scale(1.1534,1)" font-family='"Liberation Sans", sans-serif' font-size="10.45" fill="#000" stroke="#000" stroke-width="0.12" >−20</text><line x1="55.8" y1="134.7" x2="59.3" y2="134.7" stroke="#151515" stroke-width="1.0"/><text transform="translate(46.19,139.15) scale(1.0087,1)" font-family='"Liberation Sans", sans-serif' font-size="10.45" fill="#000" stroke="#000" stroke-width="0.12" >0</text><line x1="55.8" y1="89.5" x2="59.3" y2="89.5" stroke="#151515" stroke-width="1.0"/><text transform="translate(39.75,93.95) scale(1.0597,1)" font-family='"Liberation Sans", sans-serif' font-size="10.45" fill="#000" stroke="#000" stroke-width="0.12" >20</text><line x1="55.8" y1="44.3" x2="59.3" y2="44.3" stroke="#151515" stroke-width="1.0"/><text transform="translate(39.81,48.75) scale(1.0544,1)" font-family='"Liberation Sans", sans-serif' font-size="10.45" fill="#000" stroke="#000" stroke-width="0.12" >40</text><text transform="translate(87.5,9.2) scale(1.0912,1)" font-family='"Liberation Sans", sans-serif' font-size="12.4" fill="#000" stroke="#000" stroke-width="0.12" >Test data embeddings after</text><text transform="translate(132.8,22) scale(1.0854,1)" font-family='"Liberation Sans", sans-serif' font-size="12.4" fill="#000" stroke="#000" stroke-width="0.12" >Pretext Stage</text><text transform="translate(220.49,46.1) scale(1.1463,1)" font-family='"Liberation Sans", sans-serif' font-size="10.45" fill="#000" stroke="#000" stroke-width="0.12" >label</text><text transform="translate(219.11,60.3) scale(1.1424,1)" font-family='"Liberation Sans", sans-serif' font-size="10.45" fill="#000" stroke="#000" stroke-width="0.12" >normal</text><text transform="translate(219.42,75.2) scale(1.0855,1)" font-family='"Liberation Sans", sans-serif' font-size="10.45" fill="#000" stroke="#000" stroke-width="0.12" >anomalous</text><circle cx="201.5" cy="57.3" r="2.3" fill="#0000ff"/><path d="M201.60 73.68L203.52 75.60L204.80 74.32L202.88 72.40L204.80 70.48L203.52 69.20L201.60 71.12L199.68 69.20L198.40 70.48L200.32 72.40L198.40 74.32L199.68 75.60Z" fill="rgba(255,255,255,0.7)" stroke="#ff0000" stroke-width="1.2"/><rect x="509.5" y="33.6" width="92.1" height="47.3" rx="2.5" fill="rgba(255,255,255,0.8)" stroke="#d9d9d9" stroke-width="1"/><rect x="381.7" y="28.6" width="224.4" height="222.8" fill="none" stroke="#151515" stroke-width="1.05"/><line x1="420.65" y1="251.4" x2="420.65" y2="254.9" stroke="#151515" stroke-width="1.0"/><text transform="translate(410.56,266.6) scale(1.1534,1)" font-family='"Liberation Sans", sans-serif' font-size="10.45" fill="#000" stroke="#000" stroke-width="0.12" >−20</text><line x1="467.9" y1="251.4" x2="467.9" y2="254.9" stroke="#151515" stroke-width="1.0"/><text transform="translate(464.97,266.6) scale(1.0087,1)" font-family='"Liberation Sans", sans-serif' font-size="10.45" fill="#000" stroke="#000" stroke-width="0.12" >0</text><line x1="515.15" y1="251.4" x2="515.15" y2="254.9" stroke="#151515" stroke-width="1.0"/><text transform="translate(508.96,266.6) scale(1.0597,1)" font-family='"Liberation Sans", sans-serif' font-size="10.45" fill="#000" stroke="#000" stroke-width="0.12" >20</text><line x1="562.4" y1="251.4" x2="562.4" y2="254.9" stroke="#151515" stroke-width="1.0"/><text transform="translate(556.27,266.6) scale(1.0544,1)" font-family='"Liberation Sans", sans-serif' font-size="10.45" fill="#000" stroke="#000" stroke-width="0.12" >40</text><line x1="378.2" y1="250.85" x2="381.7" y2="250.85" stroke="#151515" stroke-width="1.0"/><text transform="translate(354.06,255.3) scale(1.1534,1)" font-family='"Liberation Sans", sans-serif' font-size="10.45" fill="#000" stroke="#000" stroke-width="0.12" >−60</text><line x1="378.2" y1="216.3" x2="381.7" y2="216.3" stroke="#151515" stroke-width="1.0"/><text transform="translate(354.06,220.75) scale(1.1534,1)" font-family='"Liberation Sans", sans-serif' font-size="10.45" fill="#000" stroke="#000" stroke-width="0.12" >−40</text><line x1="378.2" y1="181.75" x2="381.7" y2="181.75" stroke="#151515" stroke-width="1.0"/><text transform="translate(354.06,186.2) scale(1.1534,1)" font-family='"Liberation Sans", sans-serif' font-size="10.45" fill="#000" stroke="#000" stroke-width="0.12" >−20</text><line x1="378.2" y1="147.2" x2="381.7" y2="147.2" stroke="#151515" stroke-width="1.0"/><text transform="translate(368.59,151.65) scale(1.0087,1)" font-family='"Liberation Sans", sans-serif' font-size="10.45" fill="#000" stroke="#000" stroke-width="0.12" >0</text><line x1="378.2" y1="112.65" x2="381.7" y2="112.65" stroke="#151515" stroke-width="1.0"/><text transform="translate(362.15,117.1) scale(1.0597,1)" font-family='"Liberation Sans", sans-serif' font-size="10.45" fill="#000" stroke="#000" stroke-width="0.12" >20</text><line x1="378.2" y1="78.1" x2="381.7" y2="78.1" stroke="#151515" stroke-width="1.0"/><text transform="translate(362.21,82.55) scale(1.0544,1)" font-family='"Liberation Sans", sans-serif' font-size="10.45" fill="#000" stroke="#000" stroke-width="0.12" >40</text><line x1="378.2" y1="43.55" x2="381.7" y2="43.55" stroke="#151515" stroke-width="1.0"/><text transform="translate(362.11,48) scale(1.0634,1)" font-family='"Liberation Sans", sans-serif' font-size="10.45" fill="#000" stroke="#000" stroke-width="0.12" >60</text><text transform="translate(412.5,9.2) scale(1.0839,1)" font-family='"Liberation Sans", sans-serif' font-size="12.4" fill="#000" stroke="#000" stroke-width="0.12" >Test data embeddings after</text><text transform="translate(388.39,22) scale(1.0870,1)" font-family='"Liberation Sans", sans-serif' font-size="12.4" fill="#000" stroke="#000" stroke-width="0.12" >Self-supervised Classification Stage</text><text transform="translate(542.79,46.1) scale(1.1463,1)" font-family='"Liberation Sans", sans-serif' font-size="10.45" fill="#000" stroke="#000" stroke-width="0.12" >label</text><text transform="translate(541.41,60.3) scale(1.1424,1)" font-family='"Liberation Sans", sans-serif' font-size="10.45" fill="#000" stroke="#000" stroke-width="0.12" >normal</text><text transform="translate(541.72,75.2) scale(1.0855,1)" font-family='"Liberation Sans", sans-serif' font-size="10.45" fill="#000" stroke="#000" stroke-width="0.12" >anomalous</text><circle cx="524.4" cy="57.3" r="1.9" fill="none" stroke="#0000ff" stroke-width="1.3"/><path d="M523.90 73.68L525.82 75.60L527.10 74.32L525.18 72.40L527.10 70.48L525.82 69.20L523.90 71.12L521.98 69.20L520.70 70.48L522.62 72.40L520.70 74.32L521.98 75.60Z" fill="rgba(255,255,255,0.7)" stroke="#ff0000" stroke-width="1.2"/><text transform="translate(144.73,303.72) scale(1.0088,1)" font-family='"Liberation Serif", serif' font-size="22.94" fill="#111" >(a)</text><text transform="translate(465.96,303.69) scale(1.0302,1)" font-family='"Liberation Serif", serif' font-size="23.05" fill="#111" >(b)</text><text transform="translate(152.53,635.92) scale(1.0379,1)" font-family='"Liberation Serif", serif' font-size="23.38" fill="#111" >(c)</text><text transform="translate(458.18,638.72) scale(0.9918,1)" font-family='"Liberation Serif", serif' font-size="23.38" fill="#111" >(d)</text><g fill="rgb(255,194,138)" stroke="rgba(20,20,20,0.8)" stroke-width="0.75"><rect x="144.8" y="561.7" width="4.03" height="7.3"/><rect x="152.85" y="561.7" width="4.03" height="7.3"/><rect x="156.88" y="561.7" width="4.03" height="7.3"/><rect x="164.93" y="561.7" width="4.03" height="7.3"/><rect x="172.98" y="507.46" width="4.03" height="61.54"/><rect x="181.03" y="561.7" width="4.03" height="7.3"/><rect x="185.05" y="512.98" width="4.03" height="56.02"/><rect x="189.08" y="528.44" width="4.03" height="40.56"/><rect x="193.1" y="561.7" width="4.03" height="7.3"/><rect x="201.15" y="528.44" width="4.03" height="40.56"/><rect x="209.2" y="540.72" width="4.03" height="28.28"/><rect x="213.23" y="561.7" width="4.03" height="7.3"/><rect x="217.25" y="540.72" width="4.03" height="28.28"/><rect x="221.28" y="561.7" width="4.03" height="7.3"/><rect x="225.3" y="519.74" width="4.03" height="49.26"/><rect x="233.35" y="561.7" width="4.03" height="7.3"/><rect x="237.38" y="540.72" width="4.03" height="28.28"/><rect x="241.4" y="561.7" width="4.03" height="7.3"/><rect x="245.43" y="540.72" width="4.03" height="28.28"/><rect x="249.45" y="512.98" width="4.03" height="56.02"/><rect x="261.53" y="540.72" width="4.03" height="28.28"/><rect x="265.55" y="528.44" width="4.03" height="40.56"/><rect x="269.58" y="486.48" width="4.03" height="82.52"/><rect x="273.6" y="469.54" width="4.03" height="99.46"/><rect x="277.62" y="418.07" width="4.03" height="150.93"/></g><g fill="rgb(143,196,232)" stroke="rgba(20,20,20,0.8)" stroke-width="0.75"><rect x="80.4" y="528.6" width="4.03" height="40.4"/><rect x="84.43" y="541.5" width="4.03" height="27.5"/><rect x="88.45" y="541.5" width="4.03" height="27.5"/><rect x="92.48" y="508" width="4.03" height="61"/><rect x="96.5" y="528.6" width="4.03" height="40.4"/><rect x="100.53" y="508" width="4.03" height="61"/><rect x="104.55" y="489.4" width="4.03" height="79.6"/><rect x="108.58" y="484.2" width="4.03" height="84.8"/><rect x="112.6" y="480.5" width="4.03" height="88.5"/><rect x="116.62" y="464.6" width="4.03" height="104.4"/><rect x="120.65" y="450.3" width="4.03" height="118.7"/><rect x="124.68" y="463.5" width="4.03" height="105.5"/><rect x="128.7" y="449" width="4.03" height="120"/><rect x="132.73" y="439.2" width="4.03" height="129.8"/><rect x="136.75" y="435.7" width="4.03" height="133.3"/><rect x="140.78" y="425.5" width="4.03" height="143.5"/><rect x="144.8" y="422.4" width="4.03" height="146.6"/><rect x="148.83" y="422.3" width="4.03" height="146.7"/><rect x="152.85" y="425.6" width="4.03" height="143.4"/><rect x="156.88" y="432.1" width="4.03" height="136.9"/><rect x="160.9" y="440.2" width="4.03" height="128.8"/><rect x="164.93" y="435.2" width="4.03" height="133.8"/><rect x="168.95" y="448.5" width="4.03" height="120.5"/><rect x="172.98" y="471.1" width="4.03" height="97.9"/><rect x="177" y="467.8" width="4.03" height="101.2"/><rect x="181.03" y="458.3" width="4.03" height="110.7"/><rect x="185.05" y="481.7" width="4.03" height="87.3"/><rect x="189.08" y="476.1" width="4.03" height="92.9"/><rect x="193.1" y="469.6" width="4.03" height="99.4"/><rect x="197.12" y="476.1" width="4.03" height="92.9"/><rect x="201.15" y="480.3" width="4.03" height="88.7"/><rect x="205.18" y="482.2" width="4.03" height="86.8"/><rect x="209.2" y="486.3" width="4.03" height="82.7"/><rect x="213.23" y="465.8" width="4.03" height="103.2"/><rect x="217.25" y="461.3" width="4.03" height="107.7"/><rect x="221.28" y="468.7" width="4.03" height="100.3"/><rect x="225.3" y="451.7" width="4.03" height="117.3"/><rect x="229.33" y="441" width="4.03" height="128"/><rect x="233.35" y="435.5" width="4.03" height="133.5"/><rect x="237.38" y="439.5" width="4.03" height="129.5"/><rect x="241.4" y="437.3" width="4.03" height="131.7"/><rect x="245.43" y="433.2" width="4.03" height="135.8"/><rect x="249.45" y="453.8" width="4.03" height="115.2"/><rect x="253.48" y="469.9" width="4.03" height="99.1"/></g><g fill="rgb(150,153,153)" stroke="rgba(20,20,20,0.8)" stroke-width="0.75"><rect x="144.8" y="561.7" width="4.03" height="7.3"/><rect x="152.85" y="561.7" width="4.03" height="7.3"/><rect x="156.88" y="561.7" width="4.03" height="7.3"/><rect x="164.93" y="561.7" width="4.03" height="7.3"/><rect x="172.98" y="507.46" width="4.03" height="61.54"/><rect x="181.03" y="561.7" width="4.03" height="7.3"/><rect x="185.05" y="512.98" width="4.03" height="56.02"/><rect x="189.08" y="528.44" width="4.03" height="40.56"/><rect x="193.1" y="561.7" width="4.03" height="7.3"/><rect x="201.15" y="528.44" width="4.03" height="40.56"/><rect x="209.2" y="540.72" width="4.03" height="28.28"/><rect x="213.23" y="561.7" width="4.03" height="7.3"/><rect x="217.25" y="540.72" width="4.03" height="28.28"/><rect x="221.28" y="561.7" width="4.03" height="7.3"/><rect x="225.3" y="519.74" width="4.03" height="49.26"/><rect x="233.35" y="561.7" width="4.03" height="7.3"/><rect x="237.38" y="540.72" width="4.03" height="28.28"/><rect x="241.4" y="561.7" width="4.03" height="7.3"/><rect x="245.43" y="540.72" width="4.03" height="28.28"/><rect x="249.45" y="512.98" width="4.03" height="56.02"/></g><g fill="rgb(255,194,138)" stroke="rgba(20,20,20,0.8)" stroke-width="0.75"><rect x="400.32" y="512.53" width="4.14" height="59.77"/><rect x="404.46" y="502.21" width="4.14" height="70.09"/><rect x="408.6" y="519.38" width="4.14" height="52.92"/><rect x="466.56" y="561.9" width="4.14" height="10.4"/><rect x="474.84" y="561.9" width="4.14" height="10.4"/><rect x="516.24" y="561.9" width="4.14" height="10.4"/><rect x="536.94" y="561.9" width="4.14" height="10.4"/><rect x="553.5" y="512.53" width="4.14" height="59.77"/><rect x="557.64" y="540.64" width="4.14" height="31.66"/><rect x="561.78" y="561.9" width="4.14" height="10.4"/><rect x="565.92" y="540.64" width="4.14" height="31.66"/><rect x="574.2" y="540.64" width="4.14" height="31.66"/><rect x="578.34" y="512.53" width="4.14" height="59.77"/><rect x="582.48" y="467.08" width="4.14" height="105.22"/><rect x="586.62" y="540.64" width="4.14" height="31.66"/><rect x="590.76" y="410.76" width="4.14" height="161.54"/></g><g fill="rgb(143,196,232)" stroke="rgba(20,20,20,0.8)" stroke-width="0.75"><rect x="387.9" y="391.33" width="4.14" height="180.97"/><rect x="392.04" y="357.51" width="4.14" height="214.79"/><rect x="396.18" y="366.98" width="4.14" height="205.32"/><rect x="400.32" y="460.8" width="4.14" height="111.5"/><rect x="404.46" y="561.9" width="4.14" height="10.4"/></g><g fill="rgb(150,153,153)" stroke="rgba(20,20,20,0.8)" stroke-width="0.75"><rect x="400.32" y="512.53" width="4.14" height="59.77"/><rect x="404.46" y="561.9" width="4.14" height="10.4"/></g><rect x="71" y="350.3" width="220.2" height="218.7" fill="none" stroke="#151515" stroke-width="1.05"/><line x1="67.5" y1="561.7" x2="71" y2="561.7" stroke="#151515" stroke-width="1.0"/><line x1="69" y1="540.72" x2="71" y2="540.72" stroke="#151515" stroke-width="0.7"/><line x1="69" y1="528.44" x2="71" y2="528.44" stroke="#151515" stroke-width="0.7"/><line x1="69" y1="519.74" x2="71" y2="519.74" stroke="#151515" stroke-width="0.7"/><line x1="69" y1="512.98" x2="71" y2="512.98" stroke="#151515" stroke-width="0.7"/><line x1="69" y1="507.46" x2="71" y2="507.46" stroke="#151515" stroke-width="0.7"/><line x1="69" y1="502.8" x2="71" y2="502.8" stroke="#151515" stroke-width="0.7"/><line x1="69" y1="498.75" x2="71" y2="498.75" stroke="#151515" stroke-width="0.7"/><line x1="69" y1="495.19" x2="71" y2="495.19" stroke="#151515" stroke-width="0.7"/><line x1="67.5" y1="492" x2="71" y2="492" stroke="#151515" stroke-width="1.0"/><line x1="69" y1="471.02" x2="71" y2="471.02" stroke="#151515" stroke-width="0.7"/><line x1="69" y1="458.74" x2="71" y2="458.74" stroke="#151515" stroke-width="0.7"/><line x1="69" y1="450.04" x2="71" y2="450.04" stroke="#151515" stroke-width="0.7"/><line x1="69" y1="443.28" x2="71" y2="443.28" stroke="#151515" stroke-width="0.7"/><line x1="69" y1="437.76" x2="71" y2="437.76" stroke="#151515" stroke-width="0.7"/><line x1="69" y1="433.1" x2="71" y2="433.1" stroke="#151515" stroke-width="0.7"/><line x1="69" y1="429.05" x2="71" y2="429.05" stroke="#151515" stroke-width="0.7"/><line x1="69" y1="425.49" x2="71" y2="425.49" stroke="#151515" stroke-width="0.7"/><line x1="67.5" y1="422.3" x2="71" y2="422.3" stroke="#151515" stroke-width="1.0"/><line x1="69" y1="401.32" x2="71" y2="401.32" stroke="#151515" stroke-width="0.7"/><line x1="69" y1="389.04" x2="71" y2="389.04" stroke="#151515" stroke-width="0.7"/><line x1="69" y1="380.34" x2="71" y2="380.34" stroke="#151515" stroke-width="0.7"/><line x1="69" y1="373.58" x2="71" y2="373.58" stroke="#151515" stroke-width="0.7"/><line x1="69" y1="368.06" x2="71" y2="368.06" stroke="#151515" stroke-width="0.7"/><line x1="69" y1="363.4" x2="71" y2="363.4" stroke="#151515" stroke-width="0.7"/><line x1="69" y1="359.35" x2="71" y2="359.35" stroke="#151515" stroke-width="0.7"/><line x1="69" y1="355.79" x2="71" y2="355.79" stroke="#151515" stroke-width="0.7"/><line x1="67.5" y1="352.6" x2="71" y2="352.6" stroke="#151515" stroke-width="1.0"/><line x1="69" y1="568.45" x2="71" y2="568.45" stroke="#151515" stroke-width="0.7"/><line x1="69" y1="564.89" x2="71" y2="564.89" stroke="#151515" stroke-width="0.7"/><line x1="112" y1="569" x2="112" y2="572.5" stroke="#151515" stroke-width="1.0"/><line x1="170.2" y1="569" x2="170.2" y2="572.5" stroke="#151515" stroke-width="1.0"/><line x1="228.4" y1="569" x2="228.4" y2="572.5" stroke="#151515" stroke-width="1.0"/><line x1="286.6" y1="569" x2="286.6" y2="572.5" stroke="#151515" stroke-width="1.0"/><line x1="71.32" y1="569" x2="71.32" y2="571" stroke="#151515" stroke-width="0.7"/><line x1="81.57" y1="569" x2="81.57" y2="571" stroke="#151515" stroke-width="0.7"/><line x1="88.84" y1="569" x2="88.84" y2="571" stroke="#151515" stroke-width="0.7"/><line x1="94.48" y1="569" x2="94.48" y2="571" stroke="#151515" stroke-width="0.7"/><line x1="99.09" y1="569" x2="99.09" y2="571" stroke="#151515" stroke-width="0.7"/><line x1="102.98" y1="569" x2="102.98" y2="571" stroke="#151515" stroke-width="0.7"/><line x1="106.36" y1="569" x2="106.36" y2="571" stroke="#151515" stroke-width="0.7"/><line x1="109.34" y1="569" x2="109.34" y2="571" stroke="#151515" stroke-width="0.7"/><line x1="129.52" y1="569" x2="129.52" y2="571" stroke="#151515" stroke-width="0.7"/><line x1="139.77" y1="569" x2="139.77" y2="571" stroke="#151515" stroke-width="0.7"/><line x1="147.04" y1="569" x2="147.04" y2="571" stroke="#151515" stroke-width="0.7"/><line x1="152.68" y1="569" x2="152.68" y2="571" stroke="#151515" stroke-width="0.7"/><line x1="157.29" y1="569" x2="157.29" y2="571" stroke="#151515" stroke-width="0.7"/><line x1="161.18" y1="569" x2="161.18" y2="571" stroke="#151515" stroke-width="0.7"/><line x1="164.56" y1="569" x2="164.56" y2="571" stroke="#151515" stroke-width="0.7"/><line x1="167.54" y1="569" x2="167.54" y2="571" stroke="#151515" stroke-width="0.7"/><line x1="187.72" y1="569" x2="187.72" y2="571" stroke="#151515" stroke-width="0.7"/><line x1="197.97" y1="569" x2="197.97" y2="571" stroke="#151515" stroke-width="0.7"/><line x1="205.24" y1="569" x2="205.24" y2="571" stroke="#151515" stroke-width="0.7"/><line x1="210.88" y1="569" x2="210.88" y2="571" stroke="#151515" stroke-width="0.7"/><line x1="215.49" y1="569" x2="215.49" y2="571" stroke="#151515" stroke-width="0.7"/><line x1="219.38" y1="569" x2="219.38" y2="571" stroke="#151515" stroke-width="0.7"/><line x1="222.76" y1="569" x2="222.76" y2="571" stroke="#151515" stroke-width="0.7"/><line x1="225.74" y1="569" x2="225.74" y2="571" stroke="#151515" stroke-width="0.7"/><line x1="245.92" y1="569" x2="245.92" y2="571" stroke="#151515" stroke-width="0.7"/><line x1="256.17" y1="569" x2="256.17" y2="571" stroke="#151515" stroke-width="0.7"/><line x1="263.44" y1="569" x2="263.44" y2="571" stroke="#151515" stroke-width="0.7"/><line x1="269.08" y1="569" x2="269.08" y2="571" stroke="#151515" stroke-width="0.7"/><line x1="273.69" y1="569" x2="273.69" y2="571" stroke="#151515" stroke-width="0.7"/><line x1="277.58" y1="569" x2="277.58" y2="571" stroke="#151515" stroke-width="0.7"/><line x1="280.96" y1="569" x2="280.96" y2="571" stroke="#151515" stroke-width="0.7"/><line x1="283.94" y1="569" x2="283.94" y2="571" stroke="#151515" stroke-width="0.7"/><rect x="378" y="347.6" width="226.7" height="224.7" fill="none" stroke="#151515" stroke-width="1.05"/><line x1="374.5" y1="561.9" x2="378" y2="561.9" stroke="#151515" stroke-width="1.0"/><line x1="376" y1="540.64" x2="378" y2="540.64" stroke="#151515" stroke-width="0.7"/><line x1="376" y1="528.2" x2="378" y2="528.2" stroke="#151515" stroke-width="0.7"/><line x1="376" y1="519.38" x2="378" y2="519.38" stroke="#151515" stroke-width="0.7"/><line x1="376" y1="512.53" x2="378" y2="512.53" stroke="#151515" stroke-width="0.7"/><line x1="376" y1="506.94" x2="378" y2="506.94" stroke="#151515" stroke-width="0.7"/><line x1="376" y1="502.21" x2="378" y2="502.21" stroke="#151515" stroke-width="0.7"/><line x1="376" y1="498.11" x2="378" y2="498.11" stroke="#151515" stroke-width="0.7"/><line x1="376" y1="494.5" x2="378" y2="494.5" stroke="#151515" stroke-width="0.7"/><line x1="374.5" y1="491.27" x2="378" y2="491.27" stroke="#151515" stroke-width="1.0"/><line x1="376" y1="470.01" x2="378" y2="470.01" stroke="#151515" stroke-width="0.7"/><line x1="376" y1="457.57" x2="378" y2="457.57" stroke="#151515" stroke-width="0.7"/><line x1="376" y1="448.75" x2="378" y2="448.75" stroke="#151515" stroke-width="0.7"/><line x1="376" y1="441.9" x2="378" y2="441.9" stroke="#151515" stroke-width="0.7"/><line x1="376" y1="436.31" x2="378" y2="436.31" stroke="#151515" stroke-width="0.7"/><line x1="376" y1="431.58" x2="378" y2="431.58" stroke="#151515" stroke-width="0.7"/><line x1="376" y1="427.48" x2="378" y2="427.48" stroke="#151515" stroke-width="0.7"/><line x1="376" y1="423.87" x2="378" y2="423.87" stroke="#151515" stroke-width="0.7"/><line x1="374.5" y1="420.64" x2="378" y2="420.64" stroke="#151515" stroke-width="1.0"/><line x1="376" y1="399.38" x2="378" y2="399.38" stroke="#151515" stroke-width="0.7"/><line x1="376" y1="386.94" x2="378" y2="386.94" stroke="#151515" stroke-width="0.7"/><line x1="376" y1="378.12" x2="378" y2="378.12" stroke="#151515" stroke-width="0.7"/><line x1="376" y1="371.27" x2="378" y2="371.27" stroke="#151515" stroke-width="0.7"/><line x1="376" y1="365.68" x2="378" y2="365.68" stroke="#151515" stroke-width="0.7"/><line x1="376" y1="360.95" x2="378" y2="360.95" stroke="#151515" stroke-width="0.7"/><line x1="376" y1="356.85" x2="378" y2="356.85" stroke="#151515" stroke-width="0.7"/><line x1="376" y1="353.24" x2="378" y2="353.24" stroke="#151515" stroke-width="0.7"/><line x1="374.5" y1="350.01" x2="378" y2="350.01" stroke="#151515" stroke-width="1.0"/><line x1="376" y1="568.74" x2="378" y2="568.74" stroke="#151515" stroke-width="0.7"/><line x1="376" y1="565.13" x2="378" y2="565.13" stroke="#151515" stroke-width="0.7"/><line x1="388.6" y1="572.3" x2="388.6" y2="575.8" stroke="#151515" stroke-width="1.0"/><line x1="422.85" y1="572.3" x2="422.85" y2="575.8" stroke="#151515" stroke-width="1.0"/><line x1="457.1" y1="572.3" x2="457.1" y2="575.8" stroke="#151515" stroke-width="1.0"/><line x1="491.35" y1="572.3" x2="491.35" y2="575.8" stroke="#151515" stroke-width="1.0"/><line x1="525.6" y1="572.3" x2="525.6" y2="575.8" stroke="#151515" stroke-width="1.0"/><line x1="559.85" y1="572.3" x2="559.85" y2="575.8" stroke="#151515" stroke-width="1.0"/><line x1="594.1" y1="572.3" x2="594.1" y2="575.8" stroke="#151515" stroke-width="1.0"/><rect x="196.7" y="355" width="89.7" height="46.4" rx="2.5" fill="rgba(255,255,255,0.8)" stroke="#d9d9d9" stroke-width="1"/><text transform="translate(209.05,366.5) scale(1.0485,1)" font-family='"Liberation Sans", sans-serif' font-size="10.45" fill="#000" stroke="#000" stroke-width="0.12" >Ground Truth</text><text transform="translate(228.05,380.6) scale(1.0868,1)" font-family='"Liberation Sans", sans-serif' font-size="10.45" fill="#000" stroke="#000" stroke-width="0.12" >normal</text><text transform="translate(228.33,395.4) scale(1.0596,1)" font-family='"Liberation Sans", sans-serif' font-size="10.45" fill="#000" stroke="#000" stroke-width="0.12" >anomalous</text><rect x="200.4" y="374.2" width="20" height="7" fill="rgb(143,196,232)" stroke="#151515" stroke-width="1.25"/><rect x="200.4" y="388.8" width="20" height="7" fill="rgb(255,194,138)" stroke="#151515" stroke-width="1.25"/><rect x="507.2" y="352.7" width="92.12" height="47.65" rx="2.5" fill="rgba(255,255,255,0.8)" stroke="#d9d9d9" stroke-width="1"/><text transform="translate(519.88,364.51) scale(1.0485,1)" font-family='"Liberation Sans", sans-serif' font-size="10.73" fill="#000" stroke="#000" stroke-width="0.12" >Ground Truth</text><text transform="translate(539.39,378.99) scale(1.0868,1)" font-family='"Liberation Sans", sans-serif' font-size="10.73" fill="#000" stroke="#000" stroke-width="0.12" >normal</text><text transform="translate(539.68,394.19) scale(1.0596,1)" font-family='"Liberation Sans", sans-serif' font-size="10.73" fill="#000" stroke="#000" stroke-width="0.12" >anomalous</text><rect x="511" y="372.42" width="20.54" height="7.19" fill="rgb(143,196,232)" stroke="#151515" stroke-width="1.25"/><rect x="511" y="387.41" width="20.54" height="7.19" fill="rgb(255,194,138)" stroke="#151515" stroke-width="1.25"/><text transform="translate(79.39,330.6) scale(1.0920,1)" font-family='"Liberation Sans", sans-serif' font-size="12.4" fill="#000" stroke="#000" stroke-width="0.12" >Histogram of anomaly score after</text><text transform="translate(142.66,343.6) scale(1.0746,1)" font-family='"Liberation Sans", sans-serif' font-size="12.4" fill="#000" stroke="#000" stroke-width="0.12" >Pretext Stage</text><text transform="translate(386.96,327.5) scale(1.0923,1)" font-family='"Liberation Sans", sans-serif' font-size="12.73" fill="#000" stroke="#000" stroke-width="0.12" >Histogram of anomaly score after</text><text transform="translate(384.88,340.5) scale(1.0681,1)" font-family='"Liberation Sans", sans-serif' font-size="12.73" fill="#000" stroke="#000" stroke-width="0.12" >Self-supervised Classification Stage</text><text transform="translate(116.88,598.5) scale(1.0561,1)" font-family='"Liberation Sans", sans-serif' font-size="10.45" fill="#000" stroke="#000" stroke-width="0.12" >Anomaly Score (log scale)</text><text transform="translate(425.18,601.9) scale(1.0596,1)" font-family='"Liberation Sans", sans-serif' font-size="10.73" fill="#000" stroke="#000" stroke-width="0.12" >Anomaly Score (log scale)</text><text transform="translate(40.2,535.61) rotate(-90) scale(1.0652,1)" font-family='"Liberation Sans", sans-serif' font-size="10.45" fill="#000" stroke="#000" stroke-width="0.12">Number of Samples (log scale)</text><text transform="translate(346.9,538.63) rotate(-90) scale(1.0584,1)" font-family='"Liberation Sans", sans-serif' font-size="10.73" fill="#000" stroke="#000" stroke-width="0.12">Number of Samples (log scale)</text><text transform="translate(100.39,584.1) scale(1.0797,1)" font-family='"Liberation Sans", sans-serif' font-size="10.45" fill="#000" stroke="#000" stroke-width="0.12" >10</text><text transform="translate(113.33,579.6) scale(1.1596,1)" font-family='"Liberation Sans", sans-serif' font-size="7.4" fill="#000" stroke="#000" stroke-width="0.12" >−5</text><text transform="translate(158.59,584.1) scale(1.0797,1)" font-family='"Liberation Sans", sans-serif' font-size="10.45" fill="#000" stroke="#000" stroke-width="0.12" >10</text><text transform="translate(171.53,579.6) scale(1.1457,1)" font-family='"Liberation Sans", sans-serif' font-size="7.4" fill="#000" stroke="#000" stroke-width="0.12" >−4</text><text transform="translate(216.79,584.1) scale(1.0797,1)" font-family='"Liberation Sans", sans-serif' font-size="10.45" fill="#000" stroke="#000" stroke-width="0.12" >10</text><text transform="translate(229.73,579.6) scale(1.1618,1)" font-family='"Liberation Sans", sans-serif' font-size="7.4" fill="#000" stroke="#000" stroke-width="0.12" >−3</text><text transform="translate(274.99,584.1) scale(1.0797,1)" font-family='"Liberation Sans", sans-serif' font-size="10.45" fill="#000" stroke="#000" stroke-width="0.12" >10</text><text transform="translate(287.92,579.6) scale(1.1688,1)" font-family='"Liberation Sans", sans-serif' font-size="7.4" fill="#000" stroke="#000" stroke-width="0.12" >−2</text><text transform="translate(45.97,566.4) scale(1.0461,1)" font-family='"Liberation Sans", sans-serif' font-size="10.45" fill="#000" stroke="#000" stroke-width="0.12" >10</text><text transform="translate(58.81,562.5) scale(1.0177,1)" font-family='"Liberation Sans", sans-serif' font-size="7.4" fill="#000" stroke="#000" stroke-width="0.12" >0</text><text transform="translate(45.97,496.7) scale(1.0461,1)" font-family='"Liberation Sans", sans-serif' font-size="10.45" fill="#000" stroke="#000" stroke-width="0.12" >10</text><text transform="translate(59.64,492.8) scale(0.8149,1)" font-family='"Liberation Sans", sans-serif' font-size="7.4" fill="#000" stroke="#000" stroke-width="0.12" >1</text><text transform="translate(45.97,427) scale(1.0461,1)" font-family='"Liberation Sans", sans-serif' font-size="10.45" fill="#000" stroke="#000" stroke-width="0.12" >10</text><text transform="translate(58.7,423.1) scale(1.0679,1)" font-family='"Liberation Sans", sans-serif' font-size="7.4" fill="#000" stroke="#000" stroke-width="0.12" >2</text><text transform="translate(45.97,357.3) scale(1.0461,1)" font-family='"Liberation Sans", sans-serif' font-size="10.45" fill="#000" stroke="#000" stroke-width="0.12" >10</text><text transform="translate(58.81,353.4) scale(1.0261,1)" font-family='"Liberation Sans", sans-serif' font-size="7.4" fill="#000" stroke="#000" stroke-width="0.12" >3</text><text transform="translate(380.95,587.9) scale(1.0247,1)" font-family='"Liberation Sans", sans-serif' font-size="10.73" fill="#000" stroke="#000" stroke-width="0.12" >0.4</text><text transform="translate(415.21,587.9) scale(1.0126,1)" font-family='"Liberation Sans", sans-serif' font-size="10.73" fill="#000" stroke="#000" stroke-width="0.12" >0.5</text><text transform="translate(449.45,587.9) scale(1.0314,1)" font-family='"Liberation Sans", sans-serif' font-size="10.73" fill="#000" stroke="#000" stroke-width="0.12" >0.6</text><text transform="translate(483.7,587.9) scale(1.0205,1)" font-family='"Liberation Sans", sans-serif' font-size="10.73" fill="#000" stroke="#000" stroke-width="0.12" >0.7</text><text transform="translate(517.95,587.9) scale(1.0272,1)" font-family='"Liberation Sans", sans-serif' font-size="10.73" fill="#000" stroke="#000" stroke-width="0.12" >0.8</text><text transform="translate(552.2,587.9) scale(1.0289,1)" font-family='"Liberation Sans", sans-serif' font-size="10.73" fill="#000" stroke="#000" stroke-width="0.12" >0.9</text><text transform="translate(586.48,587.9) scale(1.0232,1)" font-family='"Liberation Sans", sans-serif' font-size="10.73" fill="#000" stroke="#000" stroke-width="0.12" >1.0</text><text transform="translate(352.51,566.1) scale(1.0840,1)" font-family='"Liberation Sans", sans-serif' font-size="10.73" fill="#000" stroke="#000" stroke-width="0.12" >10</text><text transform="translate(366.08,562.2) scale(1.0198,1)" font-family='"Liberation Sans", sans-serif' font-size="8" fill="#000" stroke="#000" stroke-width="0.12" >0</text><text transform="translate(352.51,495.47) scale(1.0840,1)" font-family='"Liberation Sans", sans-serif' font-size="10.73" fill="#000" stroke="#000" stroke-width="0.12" >10</text><text transform="translate(367.01,491.57) scale(0.8118,1)" font-family='"Liberation Sans", sans-serif' font-size="8" fill="#000" stroke="#000" stroke-width="0.12" >1</text><text transform="translate(352.51,424.84) scale(1.0840,1)" font-family='"Liberation Sans", sans-serif' font-size="10.73" fill="#000" stroke="#000" stroke-width="0.12" >10</text><text transform="translate(365.97,420.94) scale(1.0701,1)" font-family='"Liberation Sans", sans-serif' font-size="8" fill="#000" stroke="#000" stroke-width="0.12" >2</text><text transform="translate(352.51,354.21) scale(1.0840,1)" font-family='"Liberation Sans", sans-serif' font-size="10.73" fill="#000" stroke="#000" stroke-width="0.12" >10</text><text transform="translate(366.09,350.31) scale(1.0282,1)" font-family='"Liberation Sans", sans-serif' font-size="8" fill="#000" stroke="#000" stroke-width="0.12" >3</text><text x="-5.82" y="683.0" font-family='"Liberation Serif", serif' font-size="25.5" fill="#111">Fig.</text><text x="44.5" y="683.0" font-family='"Liberation Serif", serif' font-size="25.5" fill="#111">4:</text><text x="75.85" y="683.0" font-family='"Liberation Serif", serif' font-size="25.5" fill="#111">Comparative</text><text x="221.6" y="683.0" font-family='"Liberation Serif", serif' font-size="25.5" fill="#111">analysis</text><text x="314.63" y="683.0" font-family='"Liberation Serif", serif' font-size="25.5" fill="#111">of</text><text x="349.15" y="683.0" font-family='"Liberation Serif", serif' font-size="25.5" fill="#111">the</text><text x="392.56" y="683.0" font-family='"Liberation Serif", serif' font-size="25.5" fill="#111">model’s</text><text x="485.55" y="683.0" font-family='"Liberation Serif", serif' font-size="25.5" fill="#111">stages</text><text x="560.26" y="683.0" font-family='"Liberation Serif", serif' font-size="25.5" fill="#111">utilising</text></svg>
</body></html>
